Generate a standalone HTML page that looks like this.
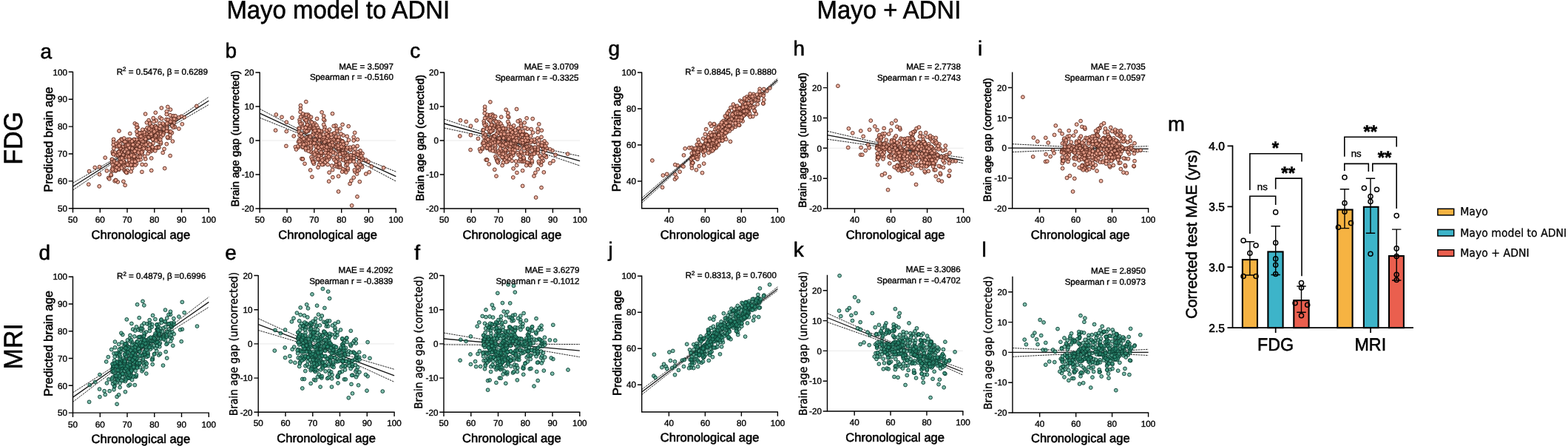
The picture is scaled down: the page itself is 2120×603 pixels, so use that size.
<!DOCTYPE html>
<html lang="en"><head><meta charset="utf-8"><title>Figure</title>
<style>
html,body{margin:0;padding:0;background:#fff;overflow:hidden}
svg{display:block}
text{font-family:"Liberation Sans",sans-serif;stroke:#000;stroke-width:0.55px;text-rendering:geometricPrecision}
.s text,text.s{stroke-width:0.38px}
.dj{font-family:"DejaVu Sans",sans-serif;stroke-width:0.3px}
.dj2{font-family:"DejaVu Sans",sans-serif;stroke-width:0.35px}
.lg{font-family:"Noto Sans CJK SC","DejaVu Sans",sans-serif;stroke-width:0.6px}
</style></head><body>
<svg width="2120" height="603" viewBox="0 0 2120 603">
<rect width="2120" height="603" fill="#fff"/>
<g>
<polyline points="98.5,247.5 104.6,243.9 110.8,240.3 116.9,236.8 123,233.2 129.1,229.6 135.3,226.1 141.4,222.5 147.5,218.9 153.6,215.3 159.8,211.7 165.9,208 172,204.3 178.1,200.6 184.3,196.8 190.4,192.9 196.5,189 202.7,185 208.8,180.9 214.9,176.8 221,172.7 227.2,168.6 233.3,164.4 239.4,160.3 245.5,156.1 251.7,151.9 257.8,147.8 263.9,143.6 270,139.4 276.2,135.2 282.3,131.1" fill="none" stroke="#111" stroke-width="0.9" stroke-dasharray="2.4 1"/>
<polyline points="98.5,257.1 104.6,252.9 110.8,248.7 116.9,244.6 123,240.4 129.1,236.2 135.3,232.1 141.4,227.9 147.5,223.8 153.6,219.7 159.8,215.5 165.9,211.5 172,207.4 178.1,203.4 184.3,199.5 190.4,195.6 196.5,191.8 202.7,188.1 208.8,184.4 214.9,180.8 221,177.2 227.2,173.6 233.3,170 239.4,166.4 245.5,162.8 251.7,159.2 257.8,155.7 263.9,152.1 270,148.5 276.2,145 282.3,141.4" fill="none" stroke="#111" stroke-width="0.9" stroke-dasharray="2.4 1"/>
<line x1="98.5" y1="252.3" x2="282.3" y2="136.2" stroke="#1a1a1a" stroke-width="1.3"/>
<g fill="#eca28e" fill-opacity="0.82" stroke="#5c2a1e" stroke-width="0.95"><circle cx="213.6" cy="174.1" r="2.4"/><circle cx="182.7" cy="194.7" r="2.4"/><circle cx="205.8" cy="182.7" r="2.4"/><circle cx="159.2" cy="246" r="2.4"/><circle cx="184.6" cy="199.9" r="2.4"/><circle cx="189.2" cy="191" r="2.4"/><circle cx="234.1" cy="156.7" r="2.4"/><circle cx="201.7" cy="179.4" r="2.4"/><circle cx="211.7" cy="186.9" r="2.4"/><circle cx="156.4" cy="243.6" r="2.4"/><circle cx="175.1" cy="211.7" r="2.4"/><circle cx="167.9" cy="197.9" r="2.4"/><circle cx="228.9" cy="178.3" r="2.4"/><circle cx="155.8" cy="225.5" r="2.4"/><circle cx="221" cy="179.4" r="2.4"/><circle cx="154.1" cy="218.6" r="2.4"/><circle cx="166.9" cy="245.3" r="2.4"/><circle cx="169.8" cy="212" r="2.4"/><circle cx="190.2" cy="215.8" r="2.4"/><circle cx="180.3" cy="189.6" r="2.4"/><circle cx="178.6" cy="204.8" r="2.4"/><circle cx="160.8" cy="229.4" r="2.4"/><circle cx="213.1" cy="180.8" r="2.4"/><circle cx="215.9" cy="178.7" r="2.4"/><circle cx="188.8" cy="196.9" r="2.4"/><circle cx="220.9" cy="169.1" r="2.4"/><circle cx="177.9" cy="216.4" r="2.4"/><circle cx="187.1" cy="212" r="2.4"/><circle cx="215.1" cy="173.1" r="2.4"/><circle cx="190.5" cy="179.8" r="2.4"/><circle cx="198.8" cy="181.2" r="2.4"/><circle cx="217.3" cy="194.3" r="2.4"/><circle cx="198" cy="180.9" r="2.4"/><circle cx="191.9" cy="232.4" r="2.4"/><circle cx="190" cy="205.5" r="2.4"/><circle cx="194.4" cy="195.9" r="2.4"/><circle cx="192.3" cy="197.3" r="2.4"/><circle cx="181.9" cy="197.5" r="2.4"/><circle cx="228.2" cy="177.5" r="2.4"/><circle cx="237.1" cy="156.8" r="2.4"/><circle cx="182.3" cy="167" r="2.4"/><circle cx="214.1" cy="181.7" r="2.4"/><circle cx="200.1" cy="207.6" r="2.4"/><circle cx="213.7" cy="198.4" r="2.4"/><circle cx="160.1" cy="211.1" r="2.4"/><circle cx="210.6" cy="188.8" r="2.4"/><circle cx="182.7" cy="206.5" r="2.4"/><circle cx="159.8" cy="192.4" r="2.4"/><circle cx="233.7" cy="160.7" r="2.4"/><circle cx="210.6" cy="179.1" r="2.4"/><circle cx="168.1" cy="230" r="2.4"/><circle cx="206.4" cy="201.3" r="2.4"/><circle cx="162.5" cy="220.8" r="2.4"/><circle cx="246.3" cy="167.8" r="2.4"/><circle cx="167.5" cy="221.7" r="2.4"/><circle cx="198.1" cy="200.5" r="2.4"/><circle cx="181.8" cy="188.6" r="2.4"/><circle cx="221.5" cy="175.7" r="2.4"/><circle cx="164.4" cy="205.1" r="2.4"/><circle cx="184.2" cy="215.7" r="2.4"/><circle cx="153.6" cy="191.8" r="2.4"/><circle cx="192" cy="182.6" r="2.4"/><circle cx="155.1" cy="244.8" r="2.4"/><circle cx="174.2" cy="209.2" r="2.4"/><circle cx="204.7" cy="213.9" r="2.4"/><circle cx="151.3" cy="215.5" r="2.4"/><circle cx="184.6" cy="196.7" r="2.4"/><circle cx="177.5" cy="196.7" r="2.4"/><circle cx="184.3" cy="203.9" r="2.4"/><circle cx="189.6" cy="208.8" r="2.4"/><circle cx="161.1" cy="223.7" r="2.4"/><circle cx="156.4" cy="231.1" r="2.4"/><circle cx="163.1" cy="225.3" r="2.4"/><circle cx="202.9" cy="185.8" r="2.4"/><circle cx="215.8" cy="173.7" r="2.4"/><circle cx="195.9" cy="185.5" r="2.4"/><circle cx="220.2" cy="206.5" r="2.4"/><circle cx="152.3" cy="205.3" r="2.4"/><circle cx="172.9" cy="209.9" r="2.4"/><circle cx="185.9" cy="172.2" r="2.4"/><circle cx="172.1" cy="209.1" r="2.4"/><circle cx="176.3" cy="210.8" r="2.4"/><circle cx="152.2" cy="227" r="2.4"/><circle cx="195.1" cy="184" r="2.4"/><circle cx="175.1" cy="218.3" r="2.4"/><circle cx="171" cy="200" r="2.4"/><circle cx="176.9" cy="211.2" r="2.4"/><circle cx="194.9" cy="194.7" r="2.4"/><circle cx="195.2" cy="192.6" r="2.4"/><circle cx="236" cy="171.2" r="2.4"/><circle cx="232.6" cy="165.8" r="2.4"/><circle cx="188.5" cy="207.3" r="2.4"/><circle cx="226.8" cy="144.5" r="2.4"/><circle cx="214.8" cy="191.8" r="2.4"/><circle cx="209.4" cy="171.4" r="2.4"/><circle cx="178.6" cy="227.6" r="2.4"/><circle cx="177.1" cy="196" r="2.4"/><circle cx="198.6" cy="193.9" r="2.4"/><circle cx="211.1" cy="190" r="2.4"/><circle cx="120.6" cy="231.6" r="2.4"/><circle cx="163.8" cy="188.2" r="2.4"/><circle cx="229.7" cy="186.3" r="2.4"/><circle cx="186" cy="194.9" r="2.4"/><circle cx="203.4" cy="173.5" r="2.4"/><circle cx="155.6" cy="197.9" r="2.4"/><circle cx="155.1" cy="223.9" r="2.4"/><circle cx="189.6" cy="203.4" r="2.4"/><circle cx="156.9" cy="220.6" r="2.4"/><circle cx="209.7" cy="178" r="2.4"/><circle cx="188" cy="188.3" r="2.4"/><circle cx="207.6" cy="175.8" r="2.4"/><circle cx="155.1" cy="220.6" r="2.4"/><circle cx="174" cy="223.7" r="2.4"/><circle cx="214.8" cy="188" r="2.4"/><circle cx="196.1" cy="186.2" r="2.4"/><circle cx="186.1" cy="179.2" r="2.4"/><circle cx="192.2" cy="222.4" r="2.4"/><circle cx="230.8" cy="164.8" r="2.4"/><circle cx="192" cy="191.4" r="2.4"/><circle cx="157.3" cy="226.3" r="2.4"/><circle cx="170" cy="197.4" r="2.4"/><circle cx="224.9" cy="161.5" r="2.4"/><circle cx="190" cy="184.8" r="2.4"/><circle cx="152.2" cy="222.4" r="2.4"/><circle cx="142.2" cy="213.2" r="2.4"/><circle cx="171.8" cy="195.4" r="2.4"/><circle cx="196.6" cy="154.1" r="2.4"/><circle cx="176" cy="195.6" r="2.4"/><circle cx="215.9" cy="166.9" r="2.4"/><circle cx="210.1" cy="170.6" r="2.4"/><circle cx="205" cy="186" r="2.4"/><circle cx="210.9" cy="170.8" r="2.4"/><circle cx="192.7" cy="186.8" r="2.4"/><circle cx="221" cy="168.4" r="2.4"/><circle cx="203.5" cy="204.9" r="2.4"/><circle cx="211.2" cy="163" r="2.4"/><circle cx="170.8" cy="195.9" r="2.4"/><circle cx="207.8" cy="185.5" r="2.4"/><circle cx="163.1" cy="199.7" r="2.4"/><circle cx="195.4" cy="180.9" r="2.4"/><circle cx="232.4" cy="179.5" r="2.4"/><circle cx="162.4" cy="217.3" r="2.4"/><circle cx="211" cy="184.6" r="2.4"/><circle cx="230.1" cy="155.7" r="2.4"/><circle cx="206.9" cy="193.7" r="2.4"/><circle cx="175.7" cy="200.3" r="2.4"/><circle cx="231.6" cy="164.3" r="2.4"/><circle cx="189.2" cy="199.2" r="2.4"/><circle cx="162.5" cy="194.7" r="2.4"/><circle cx="230.1" cy="210.6" r="2.4"/><circle cx="202.2" cy="182.1" r="2.4"/><circle cx="265.8" cy="143.4" r="2.4"/><circle cx="155.9" cy="227.6" r="2.4"/><circle cx="192" cy="207.8" r="2.4"/><circle cx="175.5" cy="217" r="2.4"/><circle cx="213.1" cy="180.2" r="2.4"/><circle cx="205.7" cy="203.3" r="2.4"/><circle cx="152.6" cy="207.6" r="2.4"/><circle cx="153.6" cy="188.4" r="2.4"/><circle cx="153.8" cy="200.6" r="2.4"/><circle cx="146.7" cy="240.5" r="2.4"/><circle cx="189.7" cy="191.6" r="2.4"/><circle cx="186.9" cy="216.6" r="2.4"/><circle cx="195.4" cy="191.1" r="2.4"/><circle cx="202.9" cy="182.4" r="2.4"/><circle cx="206.3" cy="172.5" r="2.4"/><circle cx="181.5" cy="214" r="2.4"/><circle cx="189.3" cy="188.2" r="2.4"/><circle cx="230" cy="182.9" r="2.4"/><circle cx="225.7" cy="171" r="2.4"/><circle cx="150.6" cy="230.9" r="2.4"/><circle cx="172.2" cy="230.4" r="2.4"/><circle cx="208.2" cy="172.9" r="2.4"/><circle cx="168.1" cy="219.2" r="2.4"/><circle cx="150.4" cy="237" r="2.4"/><circle cx="185.2" cy="191.3" r="2.4"/><circle cx="201.2" cy="185.6" r="2.4"/><circle cx="202.8" cy="168.2" r="2.4"/><circle cx="184.8" cy="188.6" r="2.4"/><circle cx="217.1" cy="179" r="2.4"/><circle cx="216.1" cy="186.8" r="2.4"/><circle cx="171.5" cy="192.8" r="2.4"/><circle cx="161.2" cy="209.3" r="2.4"/><circle cx="204.2" cy="175" r="2.4"/><circle cx="167.3" cy="218.1" r="2.4"/><circle cx="156.7" cy="194.5" r="2.4"/><circle cx="174.5" cy="194.8" r="2.4"/><circle cx="232.4" cy="163.4" r="2.4"/><circle cx="166.6" cy="213.1" r="2.4"/><circle cx="217.4" cy="192.4" r="2.4"/><circle cx="150.1" cy="236.1" r="2.4"/><circle cx="178.5" cy="190.6" r="2.4"/><circle cx="213.1" cy="200" r="2.4"/><circle cx="197.5" cy="175.1" r="2.4"/><circle cx="165.8" cy="209.9" r="2.4"/><circle cx="202.3" cy="164.9" r="2.4"/><circle cx="169.1" cy="250.4" r="2.4"/><circle cx="225.3" cy="150.8" r="2.4"/><circle cx="233.2" cy="163" r="2.4"/><circle cx="153" cy="230.9" r="2.4"/><circle cx="202.7" cy="167" r="2.4"/><circle cx="165" cy="202" r="2.4"/><circle cx="189.5" cy="184.2" r="2.4"/><circle cx="183.1" cy="210.9" r="2.4"/><circle cx="216.3" cy="159" r="2.4"/><circle cx="208.4" cy="178.9" r="2.4"/><circle cx="184.9" cy="172.2" r="2.4"/><circle cx="172.6" cy="188.7" r="2.4"/><circle cx="166" cy="189.9" r="2.4"/><circle cx="176.9" cy="189.3" r="2.4"/><circle cx="179.8" cy="209.1" r="2.4"/><circle cx="151.7" cy="215.5" r="2.4"/><circle cx="173.8" cy="205.2" r="2.4"/><circle cx="175.4" cy="220.8" r="2.4"/><circle cx="194.8" cy="178.6" r="2.4"/><circle cx="155.9" cy="208.3" r="2.4"/><circle cx="231.1" cy="161.2" r="2.4"/><circle cx="160.5" cy="228.1" r="2.4"/><circle cx="163.3" cy="205.9" r="2.4"/><circle cx="119.8" cy="249.3" r="2.4"/><circle cx="227" cy="186.6" r="2.4"/><circle cx="175.1" cy="199.7" r="2.4"/><circle cx="181" cy="188.6" r="2.4"/><circle cx="217.5" cy="180.9" r="2.4"/><circle cx="165.7" cy="198.5" r="2.4"/><circle cx="201" cy="175.2" r="2.4"/><circle cx="167.7" cy="224.9" r="2.4"/><circle cx="170.1" cy="223.6" r="2.4"/><circle cx="211.3" cy="174.8" r="2.4"/><circle cx="190.9" cy="202.6" r="2.4"/><circle cx="225.3" cy="194.7" r="2.4"/><circle cx="179.2" cy="194.6" r="2.4"/><circle cx="192" cy="194.6" r="2.4"/><circle cx="151.3" cy="219.1" r="2.4"/><circle cx="191.7" cy="202.3" r="2.4"/><circle cx="206.5" cy="179.4" r="2.4"/><circle cx="222" cy="175.8" r="2.4"/><circle cx="204.7" cy="230.5" r="2.4"/><circle cx="220.3" cy="166.9" r="2.4"/><circle cx="178.4" cy="223" r="2.4"/><circle cx="161.5" cy="190.6" r="2.4"/><circle cx="225.1" cy="174.4" r="2.4"/><circle cx="201.1" cy="162.6" r="2.4"/><circle cx="185.3" cy="194.1" r="2.4"/><circle cx="191.2" cy="189.1" r="2.4"/><circle cx="245.2" cy="157.4" r="2.4"/><circle cx="208.8" cy="185.7" r="2.4"/><circle cx="161.1" cy="219.2" r="2.4"/><circle cx="171.8" cy="221.2" r="2.4"/><circle cx="175" cy="188.3" r="2.4"/><circle cx="162.2" cy="221.8" r="2.4"/><circle cx="159.7" cy="197.9" r="2.4"/><circle cx="170.8" cy="202.3" r="2.4"/><circle cx="169.2" cy="205.1" r="2.4"/><circle cx="205.1" cy="184" r="2.4"/><circle cx="195.3" cy="196.2" r="2.4"/><circle cx="225.6" cy="173.1" r="2.4"/><circle cx="134.5" cy="225.7" r="2.4"/><circle cx="195.7" cy="211.5" r="2.4"/><circle cx="226.4" cy="185.4" r="2.4"/><circle cx="241.9" cy="158.9" r="2.4"/><circle cx="184.4" cy="221.5" r="2.4"/><circle cx="228.5" cy="165.8" r="2.4"/><circle cx="236.6" cy="171.9" r="2.4"/><circle cx="161" cy="204.4" r="2.4"/><circle cx="177.1" cy="191.6" r="2.4"/><circle cx="208.1" cy="164.5" r="2.4"/><circle cx="236.7" cy="162.2" r="2.4"/><circle cx="198.4" cy="165.8" r="2.4"/><circle cx="234.1" cy="172.2" r="2.4"/><circle cx="163.2" cy="215.5" r="2.4"/><circle cx="218.6" cy="160.7" r="2.4"/><circle cx="178.5" cy="190.9" r="2.4"/><circle cx="200.5" cy="193.5" r="2.4"/><circle cx="212.5" cy="199.1" r="2.4"/><circle cx="206.3" cy="187.8" r="2.4"/><circle cx="180" cy="205.1" r="2.4"/><circle cx="191.1" cy="179.5" r="2.4"/><circle cx="225.3" cy="154.5" r="2.4"/><circle cx="172.5" cy="222.6" r="2.4"/><circle cx="153.3" cy="195.8" r="2.4"/><circle cx="165.3" cy="210.2" r="2.4"/><circle cx="204.9" cy="183.2" r="2.4"/><circle cx="208.1" cy="172" r="2.4"/><circle cx="166.6" cy="215.9" r="2.4"/><circle cx="186.7" cy="201.8" r="2.4"/><circle cx="156.6" cy="209.9" r="2.4"/><circle cx="210.3" cy="152.3" r="2.4"/><circle cx="207.3" cy="201.5" r="2.4"/><circle cx="227" cy="161.9" r="2.4"/><circle cx="188.6" cy="184.3" r="2.4"/><circle cx="169.1" cy="231.3" r="2.4"/><circle cx="155.5" cy="206.1" r="2.4"/><circle cx="203.7" cy="195.5" r="2.4"/><circle cx="204.1" cy="175.6" r="2.4"/><circle cx="156.6" cy="229.9" r="2.4"/><circle cx="170.1" cy="232.5" r="2.4"/><circle cx="201.6" cy="204" r="2.4"/><circle cx="222.7" cy="227.6" r="2.4"/><circle cx="163" cy="218.1" r="2.4"/><circle cx="163.3" cy="200.3" r="2.4"/><circle cx="192.8" cy="204.5" r="2.4"/><circle cx="159.7" cy="209.6" r="2.4"/><circle cx="134.5" cy="235.7" r="2.4"/><circle cx="180.9" cy="222.7" r="2.4"/><circle cx="170.8" cy="212.7" r="2.4"/><circle cx="249.2" cy="158.6" r="2.4"/><circle cx="218.3" cy="146" r="2.4"/><circle cx="162.6" cy="200.4" r="2.4"/><circle cx="190.7" cy="184.4" r="2.4"/><circle cx="163.8" cy="219.4" r="2.4"/><circle cx="187.4" cy="193.8" r="2.4"/><circle cx="160.6" cy="222.9" r="2.4"/><circle cx="162.3" cy="214.3" r="2.4"/><circle cx="134.2" cy="251.9" r="2.4"/><circle cx="194.1" cy="200.9" r="2.4"/><circle cx="171.9" cy="210.9" r="2.4"/><circle cx="210.9" cy="176.7" r="2.4"/><circle cx="230.7" cy="164.4" r="2.4"/><circle cx="181.4" cy="212.5" r="2.4"/><circle cx="206.4" cy="199.8" r="2.4"/><circle cx="202.1" cy="201.1" r="2.4"/><circle cx="209.7" cy="170.7" r="2.4"/><circle cx="171.9" cy="207" r="2.4"/><circle cx="225.8" cy="167" r="2.4"/><circle cx="210.4" cy="183.2" r="2.4"/><circle cx="174.4" cy="212" r="2.4"/><circle cx="179" cy="200" r="2.4"/><circle cx="216.8" cy="170.6" r="2.4"/><circle cx="171.6" cy="233.6" r="2.4"/><circle cx="157.9" cy="226.4" r="2.4"/><circle cx="188.9" cy="198.1" r="2.4"/><circle cx="181.9" cy="217.3" r="2.4"/><circle cx="178.1" cy="222.5" r="2.4"/><circle cx="187.8" cy="202.9" r="2.4"/><circle cx="158.7" cy="197.9" r="2.4"/><circle cx="210.9" cy="199.8" r="2.4"/><circle cx="237.2" cy="161.6" r="2.4"/><circle cx="187.2" cy="193.1" r="2.4"/><circle cx="230.5" cy="148.2" r="2.4"/><circle cx="241.9" cy="174.1" r="2.4"/><circle cx="215" cy="199.4" r="2.4"/><circle cx="185.8" cy="182.4" r="2.4"/><circle cx="218" cy="185" r="2.4"/><circle cx="230.8" cy="177.9" r="2.4"/><circle cx="187.1" cy="206.1" r="2.4"/><circle cx="197.7" cy="188.2" r="2.4"/><circle cx="153.5" cy="208.7" r="2.4"/><circle cx="178.3" cy="218.5" r="2.4"/><circle cx="235.5" cy="160.9" r="2.4"/><circle cx="170.6" cy="233.1" r="2.4"/><circle cx="128.3" cy="226.5" r="2.4"/><circle cx="177" cy="223" r="2.4"/><circle cx="207.3" cy="159.7" r="2.4"/><circle cx="209.8" cy="203.9" r="2.4"/><circle cx="179.9" cy="195.6" r="2.4"/><circle cx="221.1" cy="180.6" r="2.4"/><circle cx="154.3" cy="218.1" r="2.4"/><circle cx="196.7" cy="215" r="2.4"/><circle cx="161.6" cy="197.9" r="2.4"/><circle cx="233.4" cy="191" r="2.4"/><circle cx="220.4" cy="182.4" r="2.4"/><circle cx="177.7" cy="209.9" r="2.4"/><circle cx="164.9" cy="188.8" r="2.4"/><circle cx="173.3" cy="206" r="2.4"/><circle cx="167.7" cy="187" r="2.4"/><circle cx="177.2" cy="232" r="2.4"/><circle cx="172.2" cy="194.7" r="2.4"/><circle cx="235.5" cy="165.7" r="2.4"/><circle cx="174.5" cy="216.1" r="2.4"/><circle cx="206.6" cy="188.4" r="2.4"/><circle cx="156.6" cy="243.6" r="2.4"/><circle cx="175.8" cy="180.6" r="2.4"/><circle cx="160.5" cy="205.7" r="2.4"/><circle cx="182.8" cy="223.4" r="2.4"/><circle cx="221.3" cy="174.3" r="2.4"/><circle cx="161.1" cy="197" r="2.4"/><circle cx="232.7" cy="170" r="2.4"/><circle cx="184.9" cy="168.5" r="2.4"/><circle cx="199.2" cy="201.7" r="2.4"/><circle cx="173.1" cy="196.2" r="2.4"/><circle cx="191.5" cy="205.9" r="2.4"/><circle cx="147.8" cy="241.9" r="2.4"/><circle cx="199.2" cy="172.7" r="2.4"/><circle cx="196.8" cy="188.1" r="2.4"/><circle cx="211.3" cy="174.3" r="2.4"/><circle cx="182.8" cy="218.5" r="2.4"/><circle cx="193.1" cy="191.5" r="2.4"/><circle cx="197" cy="222.8" r="2.4"/><circle cx="144.4" cy="230.9" r="2.4"/><circle cx="157.9" cy="220.4" r="2.4"/><circle cx="184.9" cy="177.9" r="2.4"/><circle cx="181.3" cy="211.5" r="2.4"/><circle cx="167.8" cy="191.8" r="2.4"/><circle cx="210.2" cy="170.8" r="2.4"/><circle cx="185.9" cy="195.8" r="2.4"/><circle cx="181.7" cy="204.5" r="2.4"/><circle cx="164.4" cy="227.1" r="2.4"/><circle cx="164.6" cy="212.6" r="2.4"/><circle cx="161.9" cy="208.2" r="2.4"/><circle cx="164.8" cy="213.9" r="2.4"/><circle cx="178.8" cy="201" r="2.4"/><circle cx="184.4" cy="201.7" r="2.4"/><circle cx="201.6" cy="174" r="2.4"/><circle cx="189.6" cy="212" r="2.4"/><circle cx="152.2" cy="228.9" r="2.4"/><circle cx="188.9" cy="180.1" r="2.4"/><circle cx="207.7" cy="176.3" r="2.4"/><circle cx="211.1" cy="176" r="2.4"/><circle cx="222" cy="201.4" r="2.4"/><circle cx="197.5" cy="195.4" r="2.4"/><circle cx="205.3" cy="170.8" r="2.4"/><circle cx="211.3" cy="172.8" r="2.4"/><circle cx="225.3" cy="177.3" r="2.4"/><circle cx="202.6" cy="195.3" r="2.4"/><circle cx="216.7" cy="188.9" r="2.4"/><circle cx="166.7" cy="209.3" r="2.4"/><circle cx="201.4" cy="201.2" r="2.4"/><circle cx="208.7" cy="177.9" r="2.4"/><circle cx="204.3" cy="181.3" r="2.4"/><circle cx="170.4" cy="191.8" r="2.4"/><circle cx="206.2" cy="198.7" r="2.4"/><circle cx="168.9" cy="191.6" r="2.4"/><circle cx="161" cy="177" r="2.4"/><circle cx="192.8" cy="175.3" r="2.4"/><circle cx="182.2" cy="204.3" r="2.4"/></g>
<g opacity="0.15"><polyline points="98.5,247.5 104.6,243.9 110.8,240.3 116.9,236.8 123,233.2 129.1,229.6 135.3,226.1 141.4,222.5 147.5,218.9 153.6,215.3 159.8,211.7 165.9,208 172,204.3 178.1,200.6 184.3,196.8 190.4,192.9 196.5,189 202.7,185 208.8,180.9 214.9,176.8 221,172.7 227.2,168.6 233.3,164.4 239.4,160.3 245.5,156.1 251.7,151.9 257.8,147.8 263.9,143.6 270,139.4 276.2,135.2 282.3,131.1" fill="none" stroke="#111" stroke-width="0.9" stroke-dasharray="2.4 1"/><polyline points="98.5,257.1 104.6,252.9 110.8,248.7 116.9,244.6 123,240.4 129.1,236.2 135.3,232.1 141.4,227.9 147.5,223.8 153.6,219.7 159.8,215.5 165.9,211.5 172,207.4 178.1,203.4 184.3,199.5 190.4,195.6 196.5,191.8 202.7,188.1 208.8,184.4 214.9,180.8 221,177.2 227.2,173.6 233.3,170 239.4,166.4 245.5,162.8 251.7,159.2 257.8,155.7 263.9,152.1 270,148.5 276.2,145 282.3,141.4" fill="none" stroke="#111" stroke-width="0.9" stroke-dasharray="2.4 1"/><line x1="98.5" y1="252.3" x2="282.3" y2="136.2" stroke="#111" stroke-width="1.3"/></g>
<path d="M98.5 96.7V281.8H282.9" fill="none" stroke="#000" stroke-width="1.4"/>
<path d="M98.5 281.8h-5.8M98.5 244.9h-5.8M98.5 208h-5.8M98.5 171.1h-5.8M98.5 134.2h-5.8M98.5 97.3h-5.8M98.5 281.8v5.8M135.3 281.8v5.8M172 281.8v5.8M208.8 281.8v5.8M245.5 281.8v5.8M282.3 281.8v5.8" fill="none" stroke="#000" stroke-width="1.4"/>
<g font-size="11.7" fill="#000" class="s">
<text x="90.9" y="286" text-anchor="end">50</text>
<text x="90.9" y="249.1" text-anchor="end">60</text>
<text x="90.9" y="212.2" text-anchor="end">70</text>
<text x="90.9" y="175.3" text-anchor="end">80</text>
<text x="90.9" y="138.4" text-anchor="end">90</text>
<text x="90.9" y="101.5" text-anchor="end">100</text>
<text x="98.5" y="301.2" text-anchor="middle">50</text>
<text x="135.3" y="301.2" text-anchor="middle">60</text>
<text x="172" y="301.2" text-anchor="middle">70</text>
<text x="208.8" y="301.2" text-anchor="middle">80</text>
<text x="245.5" y="301.2" text-anchor="middle">90</text>
<text x="282.3" y="301.2" text-anchor="middle">100</text>
</g>
<text x="190.4" y="322.8" text-anchor="middle" font-size="16.6" fill="#000">Chronological age</text>
<text transform="translate(70.8 188.7) rotate(-90)" text-anchor="middle" font-size="16.4" fill="#000">Predicted brain age</text>
<text x="54.6" y="78.5" font-size="28" fill="#000">a</text>
<text x="281" y="100.6" text-anchor="end" font-size="11.6" fill="#000" class="s">R<tspan dy="-4.4" font-size="8">2</tspan><tspan dy="4.4"> = 0.5476, β = 0.6289</tspan></text>
</g>
<g>
<line x1="351.2" y1="190" x2="535.3" y2="190" stroke="#e4e4e4" stroke-width="0.8"/>
<polyline points="351.2,147.2 357.3,150.4 363.5,153.7 369.6,156.9 375.7,160.1 381.9,163.3 388,166.5 394.2,169.7 400.3,172.9 406.4,176.1 412.6,179.2 418.7,182.4 424.8,185.4 431,188.4 437.1,191.4 443.2,194.2 449.4,196.9 455.5,199.6 461.7,202.2 467.8,204.8 473.9,207.3 480.1,209.8 486.2,212.3 492.3,214.8 498.5,217.3 504.6,219.8 510.8,222.2 516.9,224.7 523,227.2 529.2,229.6 535.3,232.1" fill="none" stroke="#111" stroke-width="0.9" stroke-dasharray="2.4 1"/>
<polyline points="351.2,159.2 357.3,161.7 363.5,164.1 369.6,166.6 375.7,169.1 381.9,171.5 388,174 394.2,176.5 400.3,179 406.4,181.5 412.6,184.1 418.7,186.6 424.8,189.3 431,191.9 437.1,194.7 443.2,197.5 449.4,200.5 455.5,203.5 461.7,206.6 467.8,209.7 473.9,212.9 480.1,216.1 486.2,219.3 492.3,222.5 498.5,225.7 504.6,228.9 510.8,232.1 516.9,235.3 523,238.5 529.2,241.8 535.3,245" fill="none" stroke="#111" stroke-width="0.9" stroke-dasharray="2.4 1"/>
<line x1="351.2" y1="153.2" x2="535.3" y2="238.6" stroke="#1a1a1a" stroke-width="1.3"/>
<g fill="#eca28e" fill-opacity="0.82" stroke="#5c2a1e" stroke-width="0.95"><circle cx="466.5" cy="199.8" r="2.4"/><circle cx="435.5" cy="186.7" r="2.4"/><circle cx="458.7" cy="200.7" r="2.4"/><circle cx="412" cy="221.3" r="2.4"/><circle cx="437.5" cy="195.7" r="2.4"/><circle cx="442" cy="190.3" r="2.4"/><circle cx="487.1" cy="203.8" r="2.4"/><circle cx="454.6" cy="191.5" r="2.4"/><circle cx="464.6" cy="213.4" r="2.4"/><circle cx="409.2" cy="214.8" r="2.4"/><circle cx="428" cy="198.6" r="2.4"/><circle cx="420.7" cy="172.3" r="2.4"/><circle cx="481.8" cy="224.2" r="2.4"/><circle cx="408.6" cy="191.5" r="2.4"/><circle cx="473.9" cy="215.6" r="2.4"/><circle cx="406.9" cy="180.8" r="2.4"/><circle cx="419.7" cy="230" r="2.4"/><circle cx="422.6" cy="192.2" r="2.4"/><circle cx="443.1" cy="222.5" r="2.4"/><circle cx="433.2" cy="177.5" r="2.4"/><circle cx="431.5" cy="194.3" r="2.4"/><circle cx="413.6" cy="202.7" r="2.4"/><circle cx="466" cy="207.5" r="2.4"/><circle cx="468.8" cy="208.4" r="2.4"/><circle cx="441.6" cy="197.2" r="2.4"/><circle cx="473.8" cy="202.7" r="2.4"/><circle cx="430.8" cy="207.8" r="2.4"/><circle cx="439.9" cy="213.8" r="2.4"/><circle cx="468" cy="200.4" r="2.4"/><circle cx="443.4" cy="178" r="2.4"/><circle cx="451.7" cy="190.2" r="2.4"/><circle cx="470.2" cy="229.6" r="2.4"/><circle cx="450.9" cy="188.7" r="2.4"/><circle cx="444.7" cy="245.2" r="2.4"/><circle cx="442.9" cy="209.5" r="2.4"/><circle cx="447.3" cy="202.9" r="2.4"/><circle cx="445.1" cy="202" r="2.4"/><circle cx="434.7" cy="189.3" r="2.4"/><circle cx="481.1" cy="222.3" r="2.4"/><circle cx="490" cy="207.6" r="2.4"/><circle cx="435.1" cy="151.8" r="2.4"/><circle cx="467" cy="210" r="2.4"/><circle cx="453" cy="224.7" r="2.4"/><circle cx="466.6" cy="230.2" r="2.4"/><circle cx="412.9" cy="178.9" r="2.4"/><circle cx="463.5" cy="214.4" r="2.4"/><circle cx="435.6" cy="201.5" r="2.4"/><circle cx="412.6" cy="155.2" r="2.4"/><circle cx="486.6" cy="208.1" r="2.4"/><circle cx="463.4" cy="202.2" r="2.4"/><circle cx="420.9" cy="212.6" r="2.4"/><circle cx="459.3" cy="224.7" r="2.4"/><circle cx="415.3" cy="194" r="2.4"/><circle cx="499.2" cy="232.8" r="2.4"/><circle cx="420.3" cy="201.4" r="2.4"/><circle cx="450.9" cy="213.2" r="2.4"/><circle cx="434.7" cy="178.1" r="2.4"/><circle cx="474.4" cy="211.7" r="2.4"/><circle cx="417.2" cy="176.9" r="2.4"/><circle cx="437.1" cy="214.9" r="2.4"/><circle cx="406.4" cy="146.8" r="2.4"/><circle cx="444.8" cy="183.4" r="2.4"/><circle cx="407.9" cy="214.7" r="2.4"/><circle cx="427" cy="194.2" r="2.4"/><circle cx="457.6" cy="238.3" r="2.4"/><circle cx="404.1" cy="173.4" r="2.4"/><circle cx="437.4" cy="191.6" r="2.4"/><circle cx="430.4" cy="182.8" r="2.4"/><circle cx="437.2" cy="200.3" r="2.4"/><circle cx="442.5" cy="213" r="2.4"/><circle cx="413.9" cy="195.9" r="2.4"/><circle cx="409.2" cy="199.2" r="2.4"/><circle cx="415.9" cy="200.3" r="2.4"/><circle cx="455.8" cy="200.9" r="2.4"/><circle cx="468.7" cy="202" r="2.4"/><circle cx="448.8" cy="191.9" r="2.4"/><circle cx="473.1" cy="248.4" r="2.4"/><circle cx="405.1" cy="162" r="2.4"/><circle cx="425.7" cy="193.4" r="2.4"/><circle cx="438.8" cy="162.8" r="2.4"/><circle cx="424.9" cy="191.5" r="2.4"/><circle cx="429.1" cy="198.7" r="2.4"/><circle cx="404.9" cy="188.8" r="2.4"/><circle cx="447.9" cy="188.9" r="2.4"/><circle cx="427.9" cy="206.7" r="2.4"/><circle cx="423.8" cy="178.8" r="2.4"/><circle cx="429.7" cy="200.1" r="2.4"/><circle cx="447.8" cy="202.1" r="2.4"/><circle cx="448" cy="199.8" r="2.4"/><circle cx="488.9" cy="224.2" r="2.4"/><circle cx="485.5" cy="213.2" r="2.4"/><circle cx="441.4" cy="209.8" r="2.4"/><circle cx="479.7" cy="179.4" r="2.4"/><circle cx="467.7" cy="223.3" r="2.4"/><circle cx="462.3" cy="191.2" r="2.4"/><circle cx="431.4" cy="222.6" r="2.4"/><circle cx="430" cy="181.4" r="2.4"/><circle cx="451.5" cy="205.7" r="2.4"/><circle cx="464" cy="216.5" r="2.4"/><circle cx="373.3" cy="155" r="2.4"/><circle cx="416.6" cy="155.1" r="2.4"/><circle cx="482.6" cy="235.1" r="2.4"/><circle cx="438.8" cy="191.1" r="2.4"/><circle cx="456.3" cy="186.2" r="2.4"/><circle cx="408.4" cy="156.8" r="2.4"/><circle cx="407.9" cy="188.8" r="2.4"/><circle cx="442.5" cy="206.3" r="2.4"/><circle cx="409.7" cy="186.7" r="2.4"/><circle cx="462.6" cy="199.8" r="2.4"/><circle cx="440.8" cy="185.5" r="2.4"/><circle cx="460.5" cy="194.3" r="2.4"/><circle cx="407.9" cy="184.6" r="2.4"/><circle cx="426.8" cy="212" r="2.4"/><circle cx="467.7" cy="218.6" r="2.4"/><circle cx="449" cy="193" r="2.4"/><circle cx="439" cy="171.7" r="2.4"/><circle cx="445.1" cy="233.2" r="2.4"/><circle cx="483.8" cy="209.7" r="2.4"/><circle cx="444.8" cy="194.3" r="2.4"/><circle cx="410.1" cy="194.4" r="2.4"/><circle cx="422.8" cy="174.3" r="2.4"/><circle cx="477.8" cy="198.2" r="2.4"/><circle cx="442.8" cy="183.6" r="2.4"/><circle cx="405" cy="183.1" r="2.4"/><circle cx="395" cy="159.2" r="2.4"/><circle cx="424.6" cy="174" r="2.4"/><circle cx="449.5" cy="153.7" r="2.4"/><circle cx="428.8" cy="179.5" r="2.4"/><circle cx="468.8" cy="193.6" r="2.4"/><circle cx="463" cy="191" r="2.4"/><circle cx="457.9" cy="203.9" r="2.4"/><circle cx="463.8" cy="192.2" r="2.4"/><circle cx="445.6" cy="189.5" r="2.4"/><circle cx="473.8" cy="201.9" r="2.4"/><circle cx="456.3" cy="225.5" r="2.4"/><circle cx="464.1" cy="183" r="2.4"/><circle cx="423.6" cy="173.4" r="2.4"/><circle cx="460.7" cy="206.7" r="2.4"/><circle cx="415.9" cy="168.5" r="2.4"/><circle cx="448.2" cy="185.4" r="2.4"/><circle cx="485.3" cy="230" r="2.4"/><circle cx="415.2" cy="189.6" r="2.4"/><circle cx="463.9" cy="209.7" r="2.4"/><circle cx="483.1" cy="197.5" r="2.4"/><circle cx="459.8" cy="215.8" r="2.4"/><circle cx="428.5" cy="185" r="2.4"/><circle cx="484.5" cy="210" r="2.4"/><circle cx="442" cy="200.5" r="2.4"/><circle cx="415.3" cy="161.4" r="2.4"/><circle cx="483" cy="265.9" r="2.4"/><circle cx="455.1" cy="195.5" r="2.4"/><circle cx="518.7" cy="226.8" r="2.4"/><circle cx="408.7" cy="194.2" r="2.4"/><circle cx="444.8" cy="214.8" r="2.4"/><circle cx="428.3" cy="205.5" r="2.4"/><circle cx="466" cy="206.7" r="2.4"/><circle cx="458.5" cy="226.2" r="2.4"/><circle cx="405.3" cy="165.1" r="2.4"/><circle cx="406.4" cy="142.6" r="2.4"/><circle cx="406.6" cy="158" r="2.4"/><circle cx="399.4" cy="198.7" r="2.4"/><circle cx="442.5" cy="191.6" r="2.4"/><circle cx="439.8" cy="219.4" r="2.4"/><circle cx="448.2" cy="198.2" r="2.4"/><circle cx="455.7" cy="196.7" r="2.4"/><circle cx="459.1" cy="188.6" r="2.4"/><circle cx="434.3" cy="209.4" r="2.4"/><circle cx="442.2" cy="187" r="2.4"/><circle cx="482.9" cy="231.3" r="2.4"/><circle cx="478.6" cy="211.1" r="2.4"/><circle cx="403.4" cy="191.8" r="2.4"/><circle cx="425" cy="218.2" r="2.4"/><circle cx="461.1" cy="191.5" r="2.4"/><circle cx="420.9" cy="199.1" r="2.4"/><circle cx="403.2" cy="199.2" r="2.4"/><circle cx="438.1" cy="185.8" r="2.4"/><circle cx="454.1" cy="198.6" r="2.4"/><circle cx="455.7" cy="179" r="2.4"/><circle cx="437.6" cy="181.8" r="2.4"/><circle cx="470" cy="210.2" r="2.4"/><circle cx="469" cy="218.7" r="2.4"/><circle cx="424.4" cy="170.4" r="2.4"/><circle cx="414" cy="178.1" r="2.4"/><circle cx="457" cy="189.1" r="2.4"/><circle cx="420.1" cy="196.8" r="2.4"/><circle cx="409.5" cy="153.9" r="2.4"/><circle cx="427.3" cy="176.7" r="2.4"/><circle cx="485.3" cy="209.9" r="2.4"/><circle cx="419.4" cy="189.5" r="2.4"/><circle cx="470.3" cy="227.4" r="2.4"/><circle cx="402.9" cy="197.6" r="2.4"/><circle cx="431.3" cy="176.5" r="2.4"/><circle cx="466" cy="231.5" r="2.4"/><circle cx="450.3" cy="180.9" r="2.4"/><circle cx="418.6" cy="184.6" r="2.4"/><circle cx="455.2" cy="174.2" r="2.4"/><circle cx="421.9" cy="239.2" r="2.4"/><circle cx="478.2" cy="185.4" r="2.4"/><circle cx="486.1" cy="210.5" r="2.4"/><circle cx="405.8" cy="194.8" r="2.4"/><circle cx="455.5" cy="177.2" r="2.4"/><circle cx="417.8" cy="173.8" r="2.4"/><circle cx="442.3" cy="182.2" r="2.4"/><circle cx="435.9" cy="207.4" r="2.4"/><circle cx="469.2" cy="184.3" r="2.4"/><circle cx="461.3" cy="199.3" r="2.4"/><circle cx="437.7" cy="161.5" r="2.4"/><circle cx="425.4" cy="166.7" r="2.4"/><circle cx="418.8" cy="159.9" r="2.4"/><circle cx="429.8" cy="172.8" r="2.4"/><circle cx="432.7" cy="201.1" r="2.4"/><circle cx="404.5" cy="174" r="2.4"/><circle cx="426.7" cy="188.7" r="2.4"/><circle cx="428.2" cy="210.1" r="2.4"/><circle cx="447.7" cy="181.9" r="2.4"/><circle cx="408.7" cy="170.1" r="2.4"/><circle cx="484" cy="205.5" r="2.4"/><circle cx="413.3" cy="200.6" r="2.4"/><circle cx="416.1" cy="176.4" r="2.4"/><circle cx="372.6" cy="176.2" r="2.4"/><circle cx="479.9" cy="232.1" r="2.4"/><circle cx="427.9" cy="183.4" r="2.4"/><circle cx="433.9" cy="177.2" r="2.4"/><circle cx="470.4" cy="213.2" r="2.4"/><circle cx="418.6" cy="170.3" r="2.4"/><circle cx="453.8" cy="185.4" r="2.4"/><circle cx="420.5" cy="205.6" r="2.4"/><circle cx="423" cy="207.2" r="2.4"/><circle cx="464.2" cy="197.8" r="2.4"/><circle cx="443.8" cy="206.9" r="2.4"/><circle cx="478.2" cy="240.1" r="2.4"/><circle cx="432.1" cy="182.4" r="2.4"/><circle cx="444.9" cy="198.3" r="2.4"/><circle cx="404.1" cy="177.9" r="2.4"/><circle cx="444.6" cy="207.6" r="2.4"/><circle cx="459.4" cy="197.5" r="2.4"/><circle cx="474.9" cy="212.4" r="2.4"/><circle cx="457.6" cy="259" r="2.4"/><circle cx="473.2" cy="199.2" r="2.4"/><circle cx="431.2" cy="216.6" r="2.4"/><circle cx="414.3" cy="155.2" r="2.4"/><circle cx="478" cy="214.5" r="2.4"/><circle cx="453.9" cy="169.8" r="2.4"/><circle cx="438.1" cy="189.3" r="2.4"/><circle cx="444.1" cy="190.5" r="2.4"/><circle cx="498.1" cy="218.5" r="2.4"/><circle cx="461.7" cy="208.3" r="2.4"/><circle cx="413.9" cy="190.3" r="2.4"/><circle cx="424.6" cy="206.1" r="2.4"/><circle cx="427.9" cy="169.2" r="2.4"/><circle cx="415" cy="194.9" r="2.4"/><circle cx="412.5" cy="162" r="2.4"/><circle cx="423.6" cy="181.3" r="2.4"/><circle cx="422" cy="182.9" r="2.4"/><circle cx="458" cy="201.6" r="2.4"/><circle cx="448.2" cy="204.5" r="2.4"/><circle cx="478.5" cy="213.6" r="2.4"/><circle cx="387.3" cy="165.2" r="2.4"/><circle cx="448.6" cy="224" r="2.4"/><circle cx="479.3" cy="229.9" r="2.4"/><circle cx="494.8" cy="216.2" r="2.4"/><circle cx="437.2" cy="222.3" r="2.4"/><circle cx="481.4" cy="208.1" r="2.4"/><circle cx="489.6" cy="225.9" r="2.4"/><circle cx="413.8" cy="171.7" r="2.4"/><circle cx="430" cy="176" r="2.4"/><circle cx="461" cy="180.9" r="2.4"/><circle cx="489.6" cy="213.9" r="2.4"/><circle cx="451.2" cy="170.4" r="2.4"/><circle cx="487.1" cy="223" r="2.4"/><circle cx="416" cy="188.4" r="2.4"/><circle cx="471.5" cy="189.3" r="2.4"/><circle cx="431.4" cy="176.8" r="2.4"/><circle cx="453.4" cy="207.5" r="2.4"/><circle cx="465.3" cy="229.6" r="2.4"/><circle cx="459.2" cy="207.6" r="2.4"/><circle cx="432.8" cy="196.3" r="2.4"/><circle cx="443.9" cy="178.3" r="2.4"/><circle cx="478.2" cy="190" r="2.4"/><circle cx="425.4" cy="208.8" r="2.4"/><circle cx="406.1" cy="151.4" r="2.4"/><circle cx="418.1" cy="184.4" r="2.4"/><circle cx="457.8" cy="200.2" r="2.4"/><circle cx="460.9" cy="190.2" r="2.4"/><circle cx="419.4" cy="193.1" r="2.4"/><circle cx="439.6" cy="200.8" r="2.4"/><circle cx="409.4" cy="173.1" r="2.4"/><circle cx="463.1" cy="168.4" r="2.4"/><circle cx="460.2" cy="226.1" r="2.4"/><circle cx="479.9" cy="201.2" r="2.4"/><circle cx="441.4" cy="181.2" r="2.4"/><circle cx="421.9" cy="215.3" r="2.4"/><circle cx="408.3" cy="167" r="2.4"/><circle cx="456.6" cy="214.1" r="2.4"/><circle cx="457" cy="189.7" r="2.4"/><circle cx="409.4" cy="198" r="2.4"/><circle cx="422.9" cy="218.1" r="2.4"/><circle cx="454.5" cy="222" r="2.4"/><circle cx="475.7" cy="277.9" r="2.4"/><circle cx="415.8" cy="191.2" r="2.4"/><circle cx="416.1" cy="169.6" r="2.4"/><circle cx="445.7" cy="211.7" r="2.4"/><circle cx="412.5" cy="176.6" r="2.4"/><circle cx="387.3" cy="177.6" r="2.4"/><circle cx="433.7" cy="219.5" r="2.4"/><circle cx="423.6" cy="194.4" r="2.4"/><circle cx="502.2" cy="225" r="2.4"/><circle cx="471.2" cy="170.7" r="2.4"/><circle cx="415.4" cy="168.6" r="2.4"/><circle cx="443.6" cy="184" r="2.4"/><circle cx="416.6" cy="193.9" r="2.4"/><circle cx="440.3" cy="191.6" r="2.4"/><circle cx="413.4" cy="194.3" r="2.4"/><circle cx="415.1" cy="185.6" r="2.4"/><circle cx="386.9" cy="197.4" r="2.4"/><circle cx="446.9" cy="208.8" r="2.4"/><circle cx="424.8" cy="193.5" r="2.4"/><circle cx="463.7" cy="199.6" r="2.4"/><circle cx="483.7" cy="209.1" r="2.4"/><circle cx="434.2" cy="207.3" r="2.4"/><circle cx="459.3" cy="222.9" r="2.4"/><circle cx="455" cy="219" r="2.4"/><circle cx="462.6" cy="190.6" r="2.4"/><circle cx="424.7" cy="188.5" r="2.4"/><circle cx="478.7" cy="206.2" r="2.4"/><circle cx="463.2" cy="207" r="2.4"/><circle cx="427.2" cy="197.9" r="2.4"/><circle cx="431.8" cy="188.8" r="2.4"/><circle cx="469.7" cy="199.4" r="2.4"/><circle cx="424.4" cy="221.4" r="2.4"/><circle cx="410.7" cy="195.3" r="2.4"/><circle cx="441.8" cy="198.8" r="2.4"/><circle cx="434.7" cy="213.9" r="2.4"/><circle cx="430.9" cy="215.6" r="2.4"/><circle cx="440.7" cy="203.4" r="2.4"/><circle cx="411.5" cy="160.7" r="2.4"/><circle cx="463.8" cy="228.5" r="2.4"/><circle cx="490.1" cy="213.8" r="2.4"/><circle cx="440.1" cy="190.5" r="2.4"/><circle cx="483.4" cy="188.6" r="2.4"/><circle cx="494.8" cy="235.1" r="2.4"/><circle cx="467.9" cy="233" r="2.4"/><circle cx="438.6" cy="175.3" r="2.4"/><circle cx="470.9" cy="218.9" r="2.4"/><circle cx="483.7" cy="226" r="2.4"/><circle cx="439.9" cy="206.5" r="2.4"/><circle cx="450.6" cy="197.4" r="2.4"/><circle cx="406.3" cy="167.7" r="2.4"/><circle cx="431.1" cy="210.9" r="2.4"/><circle cx="488.4" cy="210.7" r="2.4"/><circle cx="423.4" cy="219.5" r="2.4"/><circle cx="381" cy="158.3" r="2.4"/><circle cx="429.8" cy="214.9" r="2.4"/><circle cx="460.2" cy="174" r="2.4"/><circle cx="462.7" cy="232.2" r="2.4"/><circle cx="432.7" cy="184.4" r="2.4"/><circle cx="474" cy="217.1" r="2.4"/><circle cx="407.1" cy="180.5" r="2.4"/><circle cx="449.6" cy="229.7" r="2.4"/><circle cx="414.4" cy="164.4" r="2.4"/><circle cx="486.3" cy="245.7" r="2.4"/><circle cx="473.3" cy="218.5" r="2.4"/><circle cx="430.5" cy="199.4" r="2.4"/><circle cx="417.7" cy="157.1" r="2.4"/><circle cx="426.1" cy="189.1" r="2.4"/><circle cx="420.5" cy="158.3" r="2.4"/><circle cx="430" cy="226.3" r="2.4"/><circle cx="425.1" cy="173.7" r="2.4"/><circle cx="488.4" cy="216.7" r="2.4"/><circle cx="427.3" cy="203.2" r="2.4"/><circle cx="459.5" cy="208.8" r="2.4"/><circle cx="409.4" cy="215.1" r="2.4"/><circle cx="428.6" cy="160.5" r="2.4"/><circle cx="413.3" cy="172.7" r="2.4"/><circle cx="435.6" cy="222.6" r="2.4"/><circle cx="474.2" cy="209.7" r="2.4"/><circle cx="413.9" cy="162.6" r="2.4"/><circle cx="485.6" cy="218.6" r="2.4"/><circle cx="437.7" cy="156.9" r="2.4"/><circle cx="452" cy="216.1" r="2.4"/><circle cx="425.9" cy="176.6" r="2.4"/><circle cx="444.3" cy="211.7" r="2.4"/><circle cx="400.5" cy="202" r="2.4"/><circle cx="452.1" cy="180" r="2.4"/><circle cx="449.6" cy="196.2" r="2.4"/><circle cx="464.2" cy="197.2" r="2.4"/><circle cx="435.7" cy="216.7" r="2.4"/><circle cx="445.9" cy="195.8" r="2.4"/><circle cx="449.9" cy="239.7" r="2.4"/><circle cx="397.2" cy="184" r="2.4"/><circle cx="410.7" cy="187.8" r="2.4"/><circle cx="437.7" cy="168.5" r="2.4"/><circle cx="434.1" cy="206" r="2.4"/><circle cx="420.6" cy="164.5" r="2.4"/><circle cx="463.1" cy="191.5" r="2.4"/><circle cx="438.8" cy="192.2" r="2.4"/><circle cx="434.5" cy="197.7" r="2.4"/><circle cx="417.2" cy="204.2" r="2.4"/><circle cx="417.4" cy="186.4" r="2.4"/><circle cx="414.7" cy="177.6" r="2.4"/><circle cx="417.6" cy="188.3" r="2.4"/><circle cx="431.6" cy="189.8" r="2.4"/><circle cx="437.3" cy="197.6" r="2.4"/><circle cx="454.5" cy="184.7" r="2.4"/><circle cx="442.5" cy="217" r="2.4"/><circle cx="405" cy="191.2" r="2.4"/><circle cx="441.8" cy="176.4" r="2.4"/><circle cx="460.6" cy="195.2" r="2.4"/><circle cx="464" cy="199" r="2.4"/><circle cx="474.9" cy="244.3" r="2.4"/><circle cx="450.4" cy="206.1" r="2.4"/><circle cx="458.2" cy="185.2" r="2.4"/><circle cx="464.1" cy="195.3" r="2.4"/><circle cx="478.2" cy="218.4" r="2.4"/><circle cx="455.5" cy="212.5" r="2.4"/><circle cx="469.6" cy="222.1" r="2.4"/><circle cx="419.5" cy="185" r="2.4"/><circle cx="454.3" cy="218.2" r="2.4"/><circle cx="461.6" cy="198.4" r="2.4"/><circle cx="457.1" cy="197" r="2.4"/><circle cx="423.2" cy="167.8" r="2.4"/><circle cx="459.1" cy="221.2" r="2.4"/><circle cx="421.7" cy="165.6" r="2.4"/><circle cx="413.8" cy="137.6" r="2.4"/><circle cx="445.6" cy="175.2" r="2.4"/><circle cx="435" cy="198.2" r="2.4"/></g>
<g opacity="0.15"><polyline points="351.2,147.2 357.3,150.4 363.5,153.7 369.6,156.9 375.7,160.1 381.9,163.3 388,166.5 394.2,169.7 400.3,172.9 406.4,176.1 412.6,179.2 418.7,182.4 424.8,185.4 431,188.4 437.1,191.4 443.2,194.2 449.4,196.9 455.5,199.6 461.7,202.2 467.8,204.8 473.9,207.3 480.1,209.8 486.2,212.3 492.3,214.8 498.5,217.3 504.6,219.8 510.8,222.2 516.9,224.7 523,227.2 529.2,229.6 535.3,232.1" fill="none" stroke="#111" stroke-width="0.9" stroke-dasharray="2.4 1"/><polyline points="351.2,159.2 357.3,161.7 363.5,164.1 369.6,166.6 375.7,169.1 381.9,171.5 388,174 394.2,176.5 400.3,179 406.4,181.5 412.6,184.1 418.7,186.6 424.8,189.3 431,191.9 437.1,194.7 443.2,197.5 449.4,200.5 455.5,203.5 461.7,206.6 467.8,209.7 473.9,212.9 480.1,216.1 486.2,219.3 492.3,222.5 498.5,225.7 504.6,228.9 510.8,232.1 516.9,235.3 523,238.5 529.2,241.8 535.3,245" fill="none" stroke="#111" stroke-width="0.9" stroke-dasharray="2.4 1"/><line x1="351.2" y1="153.2" x2="535.3" y2="238.6" stroke="#111" stroke-width="1.3"/></g>
<path d="M351.2 97.4V282H535.9" fill="none" stroke="#000" stroke-width="1.4"/>
<path d="M351.2 282h-5.8M351.2 236h-5.8M351.2 190h-5.8M351.2 144h-5.8M351.2 98h-5.8M351.2 282v5.8M388 282v5.8M424.8 282v5.8M461.7 282v5.8M498.5 282v5.8M535.3 282v5.8" fill="none" stroke="#000" stroke-width="1.4"/>
<g font-size="11.7" fill="#000" class="s">
<text x="343.6" y="286.2" text-anchor="end">-20</text>
<text x="343.6" y="240.2" text-anchor="end">-10</text>
<text x="343.6" y="194.2" text-anchor="end">0</text>
<text x="343.6" y="148.2" text-anchor="end">10</text>
<text x="343.6" y="102.2" text-anchor="end">20</text>
<text x="351.2" y="301.4" text-anchor="middle">50</text>
<text x="388" y="301.4" text-anchor="middle">60</text>
<text x="424.8" y="301.4" text-anchor="middle">70</text>
<text x="461.7" y="301.4" text-anchor="middle">80</text>
<text x="498.5" y="301.4" text-anchor="middle">90</text>
<text x="535.3" y="301.4" text-anchor="middle">100</text>
</g>
<text x="443.2" y="323" text-anchor="middle" font-size="16.6" fill="#000">Chronological age</text>
<text transform="translate(322.6 187.4) rotate(-90)" text-anchor="middle" font-size="14.8" fill="#000">Brain age gap (uncorrected)</text>
<text x="304.4" y="78.2" font-size="28" fill="#000">b</text>
<text x="532" y="93.9" text-anchor="end" font-size="11.6" fill="#000" class="s">MAE = 3.5097</text>
<text x="532" y="108.3" text-anchor="end" font-size="11.6" fill="#000" class="s">Spearman r = -0.5160</text>
</g>
<g>
<line x1="600.5" y1="190" x2="784.1" y2="190" stroke="#e4e4e4" stroke-width="0.8"/>
<polyline points="600.5,161 606.6,163.1 612.7,165.1 618.9,167.2 625,169.3 631.1,171.3 637.2,173.4 643.3,175.4 649.5,177.4 655.6,179.5 661.7,181.5 667.8,183.4 673.9,185.3 680.1,187.2 686.2,188.9 692.3,190.6 698.4,192.2 704.5,193.7 710.7,195.2 716.8,196.6 722.9,197.9 729,199.3 735.1,200.6 741.3,202 747.4,203.3 753.5,204.6 759.6,205.9 765.7,207.2 771.9,208.5 778,209.8 784.1,211.1" fill="none" stroke="#111" stroke-width="0.9" stroke-dasharray="2.4 1"/>
<polyline points="600.5,173 606.6,174.3 612.7,175.6 618.9,176.9 625,178.2 631.1,179.5 637.2,180.9 643.3,182.2 649.5,183.5 655.6,184.9 661.7,186.3 667.8,187.7 673.9,189.2 680.1,190.7 686.2,192.3 692.3,194 698.4,195.8 704.5,197.6 710.7,199.6 716.8,201.5 722.9,203.5 729,205.5 735.1,207.6 741.3,209.6 747.4,211.7 753.5,213.7 759.6,215.8 765.7,217.8 771.9,219.9 778,222 784.1,224.1" fill="none" stroke="#111" stroke-width="0.9" stroke-dasharray="2.4 1"/>
<line x1="600.5" y1="167" x2="784.1" y2="217.6" stroke="#1a1a1a" stroke-width="1.3"/>
<g fill="#eca28e" fill-opacity="0.82" stroke="#5c2a1e" stroke-width="0.95"><circle cx="715.5" cy="190.6" r="2.4"/><circle cx="684.6" cy="183.1" r="2.4"/><circle cx="707.7" cy="192.9" r="2.4"/><circle cx="661.1" cy="221.9" r="2.4"/><circle cx="686.5" cy="191.7" r="2.4"/><circle cx="691.1" cy="185.5" r="2.4"/><circle cx="736" cy="190.9" r="2.4"/><circle cx="703.6" cy="184.4" r="2.4"/><circle cx="713.6" cy="204.6" r="2.4"/><circle cx="658.3" cy="216" r="2.4"/><circle cx="677.1" cy="196.3" r="2.4"/><circle cx="669.8" cy="171.4" r="2.4"/><circle cx="730.7" cy="212.2" r="2.4"/><circle cx="657.7" cy="192.8" r="2.4"/><circle cx="722.9" cy="205.1" r="2.4"/><circle cx="656" cy="182.4" r="2.4"/><circle cx="668.8" cy="229.3" r="2.4"/><circle cx="671.7" cy="191" r="2.4"/><circle cx="692.1" cy="217.5" r="2.4"/><circle cx="682.2" cy="174.3" r="2.4"/><circle cx="680.5" cy="191.4" r="2.4"/><circle cx="662.7" cy="203" r="2.4"/><circle cx="715" cy="198.4" r="2.4"/><circle cx="717.8" cy="198.8" r="2.4"/><circle cx="690.7" cy="192.5" r="2.4"/><circle cx="722.8" cy="192.2" r="2.4"/><circle cx="679.8" cy="205.1" r="2.4"/><circle cx="689" cy="209.4" r="2.4"/><circle cx="717" cy="190.9" r="2.4"/><circle cx="692.4" cy="173" r="2.4"/><circle cx="700.7" cy="183.6" r="2.4"/><circle cx="719.2" cy="219.7" r="2.4"/><circle cx="699.9" cy="182.4" r="2.4"/><circle cx="693.8" cy="239.9" r="2.4"/><circle cx="691.9" cy="204.5" r="2.4"/><circle cx="696.3" cy="197.2" r="2.4"/><circle cx="694.2" cy="196.7" r="2.4"/><circle cx="683.8" cy="185.9" r="2.4"/><circle cx="730.1" cy="210.4" r="2.4"/><circle cx="738.9" cy="194.1" r="2.4"/><circle cx="684.2" cy="148.3" r="2.4"/><circle cx="716" cy="200.7" r="2.4"/><circle cx="702" cy="217.9" r="2.4"/><circle cx="715.6" cy="220.9" r="2.4"/><circle cx="662" cy="179.4" r="2.4"/><circle cx="712.5" cy="205.8" r="2.4"/><circle cx="684.6" cy="197.9" r="2.4"/><circle cx="661.7" cy="155.8" r="2.4"/><circle cx="735.5" cy="195.3" r="2.4"/><circle cx="712.4" cy="193.5" r="2.4"/><circle cx="670" cy="211.6" r="2.4"/><circle cx="708.3" cy="216.7" r="2.4"/><circle cx="664.4" cy="194.1" r="2.4"/><circle cx="748.1" cy="217.6" r="2.4"/><circle cx="669.4" cy="200.6" r="2.4"/><circle cx="700" cy="206.8" r="2.4"/><circle cx="683.7" cy="174.7" r="2.4"/><circle cx="723.4" cy="201.1" r="2.4"/><circle cx="666.4" cy="176.6" r="2.4"/><circle cx="686.2" cy="211" r="2.4"/><circle cx="655.6" cy="148.4" r="2.4"/><circle cx="693.9" cy="178.1" r="2.4"/><circle cx="657.1" cy="216.1" r="2.4"/><circle cx="676.1" cy="192.1" r="2.4"/><circle cx="706.6" cy="230.7" r="2.4"/><circle cx="653.2" cy="175.5" r="2.4"/><circle cx="686.5" cy="187.6" r="2.4"/><circle cx="679.4" cy="180.1" r="2.4"/><circle cx="686.2" cy="196.4" r="2.4"/><circle cx="691.5" cy="208.1" r="2.4"/><circle cx="663" cy="196.2" r="2.4"/><circle cx="658.3" cy="200.4" r="2.4"/><circle cx="665" cy="200.3" r="2.4"/><circle cx="704.8" cy="193.6" r="2.4"/><circle cx="717.7" cy="192.4" r="2.4"/><circle cx="697.8" cy="185.9" r="2.4"/><circle cx="722" cy="238" r="2.4"/><circle cx="654.2" cy="163.9" r="2.4"/><circle cx="674.8" cy="191.6" r="2.4"/><circle cx="687.8" cy="158.6" r="2.4"/><circle cx="674" cy="189.8" r="2.4"/><circle cx="678.2" cy="196.3" r="2.4"/><circle cx="654.1" cy="190.8" r="2.4"/><circle cx="697" cy="183.1" r="2.4"/><circle cx="677" cy="204.5" r="2.4"/><circle cx="672.9" cy="177.3" r="2.4"/><circle cx="678.8" cy="197.6" r="2.4"/><circle cx="696.8" cy="196.3" r="2.4"/><circle cx="697.1" cy="193.9" r="2.4"/><circle cx="737.8" cy="210.9" r="2.4"/><circle cx="734.5" cy="200.5" r="2.4"/><circle cx="690.4" cy="205.1" r="2.4"/><circle cx="728.7" cy="167.8" r="2.4"/><circle cx="716.7" cy="213.9" r="2.4"/><circle cx="711.3" cy="182.7" r="2.4"/><circle cx="680.5" cy="219.7" r="2.4"/><circle cx="679" cy="178.8" r="2.4"/><circle cx="700.5" cy="199.2" r="2.4"/><circle cx="713" cy="207.7" r="2.4"/><circle cx="622.5" cy="162.7" r="2.4"/><circle cx="665.8" cy="154.9" r="2.4"/><circle cx="731.6" cy="223" r="2.4"/><circle cx="687.9" cy="186.9" r="2.4"/><circle cx="705.3" cy="178.9" r="2.4"/><circle cx="657.6" cy="158.2" r="2.4"/><circle cx="657.1" cy="190.2" r="2.4"/><circle cx="691.5" cy="201.4" r="2.4"/><circle cx="658.8" cy="187.8" r="2.4"/><circle cx="711.6" cy="191.2" r="2.4"/><circle cx="689.9" cy="180.9" r="2.4"/><circle cx="709.5" cy="186.2" r="2.4"/><circle cx="657.1" cy="186" r="2.4"/><circle cx="675.9" cy="210" r="2.4"/><circle cx="716.6" cy="209.2" r="2.4"/><circle cx="698" cy="186.9" r="2.4"/><circle cx="688.1" cy="167.5" r="2.4"/><circle cx="694.1" cy="227.9" r="2.4"/><circle cx="732.7" cy="197.4" r="2.4"/><circle cx="693.9" cy="189" r="2.4"/><circle cx="659.2" cy="195.4" r="2.4"/><circle cx="671.9" cy="173" r="2.4"/><circle cx="726.8" cy="186.9" r="2.4"/><circle cx="691.9" cy="178.6" r="2.4"/><circle cx="654.1" cy="185" r="2.4"/><circle cx="644.2" cy="162.9" r="2.4"/><circle cx="673.7" cy="172.4" r="2.4"/><circle cx="698.5" cy="147.5" r="2.4"/><circle cx="677.9" cy="177.2" r="2.4"/><circle cx="717.7" cy="184" r="2.4"/><circle cx="712" cy="182.5" r="2.4"/><circle cx="706.9" cy="196.2" r="2.4"/><circle cx="712.8" cy="183.5" r="2.4"/><circle cx="694.6" cy="184" r="2.4"/><circle cx="722.8" cy="191.3" r="2.4"/><circle cx="705.3" cy="218.2" r="2.4"/><circle cx="713.1" cy="174.2" r="2.4"/><circle cx="672.7" cy="171.9" r="2.4"/><circle cx="709.7" cy="198.6" r="2.4"/><circle cx="665.1" cy="168.5" r="2.4"/><circle cx="697.3" cy="179.5" r="2.4"/><circle cx="734.2" cy="217.4" r="2.4"/><circle cx="664.3" cy="189.7" r="2.4"/><circle cx="712.9" cy="200.9" r="2.4"/><circle cx="732" cy="185.3" r="2.4"/><circle cx="708.8" cy="207.8" r="2.4"/><circle cx="677.6" cy="182.7" r="2.4"/><circle cx="733.4" cy="197.6" r="2.4"/><circle cx="691.1" cy="195.8" r="2.4"/><circle cx="664.4" cy="161.5" r="2.4"/><circle cx="732" cy="253.7" r="2.4"/><circle cx="704.1" cy="188.4" r="2.4"/><circle cx="767.6" cy="208.1" r="2.4"/><circle cx="657.8" cy="195.5" r="2.4"/><circle cx="693.9" cy="209.5" r="2.4"/><circle cx="677.4" cy="203.2" r="2.4"/><circle cx="715" cy="197.6" r="2.4"/><circle cx="707.5" cy="218.4" r="2.4"/><circle cx="654.5" cy="166.9" r="2.4"/><circle cx="655.6" cy="144.3" r="2.4"/><circle cx="655.7" cy="159.6" r="2.4"/><circle cx="648.6" cy="201.7" r="2.4"/><circle cx="691.6" cy="186.8" r="2.4"/><circle cx="688.8" cy="215" r="2.4"/><circle cx="697.3" cy="192.3" r="2.4"/><circle cx="704.7" cy="189.4" r="2.4"/><circle cx="708.2" cy="180.7" r="2.4"/><circle cx="683.4" cy="206" r="2.4"/><circle cx="691.2" cy="182.2" r="2.4"/><circle cx="731.9" cy="219.1" r="2.4"/><circle cx="727.5" cy="199.7" r="2.4"/><circle cx="652.6" cy="194" r="2.4"/><circle cx="674.1" cy="216.5" r="2.4"/><circle cx="710.1" cy="183.3" r="2.4"/><circle cx="670" cy="198.1" r="2.4"/><circle cx="652.4" cy="201.4" r="2.4"/><circle cx="687.1" cy="181.7" r="2.4"/><circle cx="703.1" cy="191.6" r="2.4"/><circle cx="704.7" cy="171.7" r="2.4"/><circle cx="686.7" cy="177.8" r="2.4"/><circle cx="719" cy="200.4" r="2.4"/><circle cx="718" cy="209.1" r="2.4"/><circle cx="673.5" cy="168.8" r="2.4"/><circle cx="663.2" cy="178.4" r="2.4"/><circle cx="706.1" cy="181.6" r="2.4"/><circle cx="669.3" cy="195.9" r="2.4"/><circle cx="658.6" cy="155.1" r="2.4"/><circle cx="676.4" cy="174.6" r="2.4"/><circle cx="734.2" cy="197.3" r="2.4"/><circle cx="668.5" cy="188.9" r="2.4"/><circle cx="719.3" cy="217.5" r="2.4"/><circle cx="652" cy="199.9" r="2.4"/><circle cx="680.4" cy="173.6" r="2.4"/><circle cx="715" cy="222.3" r="2.4"/><circle cx="699.4" cy="174.6" r="2.4"/><circle cx="667.7" cy="184" r="2.4"/><circle cx="704.2" cy="167" r="2.4"/><circle cx="671" cy="238.1" r="2.4"/><circle cx="727.2" cy="174.1" r="2.4"/><circle cx="735" cy="197.7" r="2.4"/><circle cx="655" cy="196.6" r="2.4"/><circle cx="704.5" cy="170" r="2.4"/><circle cx="666.9" cy="173.4" r="2.4"/><circle cx="691.4" cy="177.3" r="2.4"/><circle cx="685" cy="203.7" r="2.4"/><circle cx="718.2" cy="174.6" r="2.4"/><circle cx="710.3" cy="191.1" r="2.4"/><circle cx="686.8" cy="157.5" r="2.4"/><circle cx="674.5" cy="164.9" r="2.4"/><circle cx="667.9" cy="159.3" r="2.4"/><circle cx="678.8" cy="170.2" r="2.4"/><circle cx="681.7" cy="198" r="2.4"/><circle cx="653.6" cy="176" r="2.4"/><circle cx="675.8" cy="186.8" r="2.4"/><circle cx="677.3" cy="207.8" r="2.4"/><circle cx="696.7" cy="176.1" r="2.4"/><circle cx="657.8" cy="171.4" r="2.4"/><circle cx="732.9" cy="193.2" r="2.4"/><circle cx="662.4" cy="201" r="2.4"/><circle cx="665.2" cy="176.3" r="2.4"/><circle cx="621.8" cy="184" r="2.4"/><circle cx="728.8" cy="220.5" r="2.4"/><circle cx="677" cy="181.2" r="2.4"/><circle cx="683" cy="173.9" r="2.4"/><circle cx="719.4" cy="203.2" r="2.4"/><circle cx="667.7" cy="169.7" r="2.4"/><circle cx="702.9" cy="178.5" r="2.4"/><circle cx="669.6" cy="204.8" r="2.4"/><circle cx="672.1" cy="205.8" r="2.4"/><circle cx="713.2" cy="189" r="2.4"/><circle cx="692.8" cy="201.8" r="2.4"/><circle cx="727.2" cy="228.8" r="2.4"/><circle cx="681.2" cy="179.4" r="2.4"/><circle cx="693.9" cy="193" r="2.4"/><circle cx="653.2" cy="180" r="2.4"/><circle cx="693.6" cy="202.3" r="2.4"/><circle cx="708.4" cy="189.6" r="2.4"/><circle cx="723.8" cy="201.7" r="2.4"/><circle cx="706.6" cy="251.4" r="2.4"/><circle cx="722.2" cy="188.8" r="2.4"/><circle cx="680.3" cy="213.8" r="2.4"/><circle cx="663.4" cy="155.4" r="2.4"/><circle cx="727" cy="203.2" r="2.4"/><circle cx="702.9" cy="162.8" r="2.4"/><circle cx="687.2" cy="185.3" r="2.4"/><circle cx="693.1" cy="185.3" r="2.4"/><circle cx="747" cy="203.6" r="2.4"/><circle cx="710.7" cy="199.9" r="2.4"/><circle cx="663" cy="190.7" r="2.4"/><circle cx="673.7" cy="204.5" r="2.4"/><circle cx="677" cy="167" r="2.4"/><circle cx="664.1" cy="195" r="2.4"/><circle cx="661.6" cy="162.6" r="2.4"/><circle cx="672.7" cy="179.9" r="2.4"/><circle cx="671.1" cy="181.7" r="2.4"/><circle cx="707" cy="193.9" r="2.4"/><circle cx="697.2" cy="198.6" r="2.4"/><circle cx="727.5" cy="202.2" r="2.4"/><circle cx="636.5" cy="170.3" r="2.4"/><circle cx="697.6" cy="218" r="2.4"/><circle cx="728.3" cy="218.3" r="2.4"/><circle cx="743.7" cy="201.9" r="2.4"/><circle cx="686.3" cy="218.4" r="2.4"/><circle cx="730.4" cy="196.2" r="2.4"/><circle cx="738.5" cy="212.5" r="2.4"/><circle cx="662.9" cy="172" r="2.4"/><circle cx="679" cy="173.4" r="2.4"/><circle cx="710" cy="172.7" r="2.4"/><circle cx="738.5" cy="200.5" r="2.4"/><circle cx="700.2" cy="163.9" r="2.4"/><circle cx="736" cy="210.1" r="2.4"/><circle cx="665.2" cy="188.3" r="2.4"/><circle cx="720.5" cy="179.2" r="2.4"/><circle cx="680.5" cy="174" r="2.4"/><circle cx="702.4" cy="200.7" r="2.4"/><circle cx="714.3" cy="220.6" r="2.4"/><circle cx="708.2" cy="199.8" r="2.4"/><circle cx="681.9" cy="193.2" r="2.4"/><circle cx="693" cy="173.2" r="2.4"/><circle cx="727.1" cy="178.7" r="2.4"/><circle cx="674.5" cy="207.1" r="2.4"/><circle cx="655.2" cy="153.1" r="2.4"/><circle cx="667.3" cy="183.9" r="2.4"/><circle cx="706.8" cy="192.6" r="2.4"/><circle cx="709.9" cy="182" r="2.4"/><circle cx="668.5" cy="192.4" r="2.4"/><circle cx="688.6" cy="196.4" r="2.4"/><circle cx="658.6" cy="174.2" r="2.4"/><circle cx="712.1" cy="159.8" r="2.4"/><circle cx="709.2" cy="218" r="2.4"/><circle cx="728.8" cy="189.6" r="2.4"/><circle cx="690.5" cy="176.5" r="2.4"/><circle cx="671" cy="214.2" r="2.4"/><circle cx="657.5" cy="168.3" r="2.4"/><circle cx="705.6" cy="206.7" r="2.4"/><circle cx="706" cy="182.3" r="2.4"/><circle cx="658.6" cy="199.1" r="2.4"/><circle cx="672" cy="216.8" r="2.4"/><circle cx="703.5" cy="215" r="2.4"/><circle cx="724.6" cy="267" r="2.4"/><circle cx="664.9" cy="191.2" r="2.4"/><circle cx="665.2" cy="169.5" r="2.4"/><circle cx="694.7" cy="206.2" r="2.4"/><circle cx="661.6" cy="177.1" r="2.4"/><circle cx="636.5" cy="182.7" r="2.4"/><circle cx="682.8" cy="216.2" r="2.4"/><circle cx="672.8" cy="192.9" r="2.4"/><circle cx="751.1" cy="209.3" r="2.4"/><circle cx="720.2" cy="160.6" r="2.4"/><circle cx="664.5" cy="168.7" r="2.4"/><circle cx="692.6" cy="178.9" r="2.4"/><circle cx="665.7" cy="193.7" r="2.4"/><circle cx="689.3" cy="187.1" r="2.4"/><circle cx="662.5" cy="194.7" r="2.4"/><circle cx="664.2" cy="185.7" r="2.4"/><circle cx="636.1" cy="202.6" r="2.4"/><circle cx="696" cy="203.1" r="2.4"/><circle cx="673.9" cy="191.8" r="2.4"/><circle cx="712.7" cy="190.9" r="2.4"/><circle cx="732.6" cy="196.8" r="2.4"/><circle cx="683.3" cy="203.9" r="2.4"/><circle cx="708.3" cy="215" r="2.4"/><circle cx="704" cy="211.9" r="2.4"/><circle cx="711.6" cy="182.1" r="2.4"/><circle cx="673.8" cy="186.9" r="2.4"/><circle cx="727.6" cy="194.8" r="2.4"/><circle cx="712.2" cy="198.4" r="2.4"/><circle cx="676.3" cy="195.8" r="2.4"/><circle cx="680.9" cy="185.8" r="2.4"/><circle cx="718.7" cy="189.6" r="2.4"/><circle cx="673.5" cy="219.8" r="2.4"/><circle cx="659.9" cy="196.2" r="2.4"/><circle cx="690.8" cy="194.1" r="2.4"/><circle cx="683.8" cy="210.5" r="2.4"/><circle cx="680" cy="212.8" r="2.4"/><circle cx="689.7" cy="198.9" r="2.4"/><circle cx="660.6" cy="161.5" r="2.4"/><circle cx="712.8" cy="219.7" r="2.4"/><circle cx="739.1" cy="200.3" r="2.4"/><circle cx="689.1" cy="186.1" r="2.4"/><circle cx="732.3" cy="176.3" r="2.4"/><circle cx="743.7" cy="220.7" r="2.4"/><circle cx="716.9" cy="223.6" r="2.4"/><circle cx="687.7" cy="171.1" r="2.4"/><circle cx="719.9" cy="208.9" r="2.4"/><circle cx="732.6" cy="213.7" r="2.4"/><circle cx="689" cy="202.1" r="2.4"/><circle cx="699.6" cy="191.1" r="2.4"/><circle cx="655.4" cy="169.4" r="2.4"/><circle cx="680.2" cy="208.1" r="2.4"/><circle cx="737.3" cy="197.5" r="2.4"/><circle cx="672.5" cy="218.1" r="2.4"/><circle cx="630.2" cy="164.5" r="2.4"/><circle cx="678.9" cy="212.4" r="2.4"/><circle cx="709.2" cy="165.9" r="2.4"/><circle cx="711.7" cy="223.6" r="2.4"/><circle cx="681.8" cy="181.3" r="2.4"/><circle cx="722.9" cy="206.6" r="2.4"/><circle cx="656.2" cy="182" r="2.4"/><circle cx="698.6" cy="223.5" r="2.4"/><circle cx="663.5" cy="164.7" r="2.4"/><circle cx="735.3" cy="232.9" r="2.4"/><circle cx="722.2" cy="208.1" r="2.4"/><circle cx="679.6" cy="196.7" r="2.4"/><circle cx="666.8" cy="156.8" r="2.4"/><circle cx="675.2" cy="187.2" r="2.4"/><circle cx="669.6" cy="157.4" r="2.4"/><circle cx="679.1" cy="223.7" r="2.4"/><circle cx="674.2" cy="172" r="2.4"/><circle cx="737.4" cy="203.5" r="2.4"/><circle cx="676.4" cy="201.1" r="2.4"/><circle cx="708.5" cy="200.9" r="2.4"/><circle cx="658.6" cy="216.3" r="2.4"/><circle cx="677.7" cy="158.2" r="2.4"/><circle cx="662.4" cy="173.1" r="2.4"/><circle cx="684.7" cy="219" r="2.4"/><circle cx="723.2" cy="199.1" r="2.4"/><circle cx="663" cy="162.9" r="2.4"/><circle cx="734.6" cy="205.9" r="2.4"/><circle cx="686.8" cy="152.9" r="2.4"/><circle cx="701.1" cy="209.5" r="2.4"/><circle cx="675" cy="174.8" r="2.4"/><circle cx="693.4" cy="206.5" r="2.4"/><circle cx="649.7" cy="204.7" r="2.4"/><circle cx="701.1" cy="173.4" r="2.4"/><circle cx="698.7" cy="190" r="2.4"/><circle cx="713.2" cy="188.4" r="2.4"/><circle cx="684.8" cy="213" r="2.4"/><circle cx="695" cy="190.3" r="2.4"/><circle cx="698.9" cy="233.5" r="2.4"/><circle cx="646.4" cy="187.4" r="2.4"/><circle cx="659.8" cy="188.7" r="2.4"/><circle cx="686.8" cy="164.5" r="2.4"/><circle cx="683.2" cy="202.6" r="2.4"/><circle cx="669.7" cy="163.6" r="2.4"/><circle cx="712.1" cy="182.9" r="2.4"/><circle cx="687.8" cy="188" r="2.4"/><circle cx="683.6" cy="194.3" r="2.4"/><circle cx="666.3" cy="203.9" r="2.4"/><circle cx="666.5" cy="186.1" r="2.4"/><circle cx="663.8" cy="177.8" r="2.4"/><circle cx="666.7" cy="187.9" r="2.4"/><circle cx="680.7" cy="186.9" r="2.4"/><circle cx="686.3" cy="193.7" r="2.4"/><circle cx="703.5" cy="177.7" r="2.4"/><circle cx="691.5" cy="212.1" r="2.4"/><circle cx="654.1" cy="193.2" r="2.4"/><circle cx="690.8" cy="171.6" r="2.4"/><circle cx="709.6" cy="187" r="2.4"/><circle cx="713" cy="190.3" r="2.4"/><circle cx="723.9" cy="233.5" r="2.4"/><circle cx="699.4" cy="199.8" r="2.4"/><circle cx="707.2" cy="177.5" r="2.4"/><circle cx="713.1" cy="186.5" r="2.4"/><circle cx="727.2" cy="207" r="2.4"/><circle cx="704.5" cy="205.2" r="2.4"/><circle cx="718.6" cy="212.3" r="2.4"/><circle cx="668.6" cy="184.3" r="2.4"/><circle cx="703.3" cy="211.2" r="2.4"/><circle cx="710.6" cy="190" r="2.4"/><circle cx="706.2" cy="189.5" r="2.4"/><circle cx="672.3" cy="166.4" r="2.4"/><circle cx="708.1" cy="213.3" r="2.4"/><circle cx="670.8" cy="164.5" r="2.4"/><circle cx="662.9" cy="137.9" r="2.4"/><circle cx="694.7" cy="169.8" r="2.4"/><circle cx="684.1" cy="194.7" r="2.4"/></g>
<g opacity="0.15"><polyline points="600.5,161 606.6,163.1 612.7,165.1 618.9,167.2 625,169.3 631.1,171.3 637.2,173.4 643.3,175.4 649.5,177.4 655.6,179.5 661.7,181.5 667.8,183.4 673.9,185.3 680.1,187.2 686.2,188.9 692.3,190.6 698.4,192.2 704.5,193.7 710.7,195.2 716.8,196.6 722.9,197.9 729,199.3 735.1,200.6 741.3,202 747.4,203.3 753.5,204.6 759.6,205.9 765.7,207.2 771.9,208.5 778,209.8 784.1,211.1" fill="none" stroke="#111" stroke-width="0.9" stroke-dasharray="2.4 1"/><polyline points="600.5,173 606.6,174.3 612.7,175.6 618.9,176.9 625,178.2 631.1,179.5 637.2,180.9 643.3,182.2 649.5,183.5 655.6,184.9 661.7,186.3 667.8,187.7 673.9,189.2 680.1,190.7 686.2,192.3 692.3,194 698.4,195.8 704.5,197.6 710.7,199.6 716.8,201.5 722.9,203.5 729,205.5 735.1,207.6 741.3,209.6 747.4,211.7 753.5,213.7 759.6,215.8 765.7,217.8 771.9,219.9 778,222 784.1,224.1" fill="none" stroke="#111" stroke-width="0.9" stroke-dasharray="2.4 1"/><line x1="600.5" y1="167" x2="784.1" y2="217.6" stroke="#111" stroke-width="1.3"/></g>
<path d="M600.5 97.4V282H784.7" fill="none" stroke="#000" stroke-width="1.4"/>
<path d="M600.5 282h-5.8M600.5 236h-5.8M600.5 190h-5.8M600.5 144h-5.8M600.5 98h-5.8M600.5 282v5.8M637.2 282v5.8M673.9 282v5.8M710.7 282v5.8M747.4 282v5.8M784.1 282v5.8" fill="none" stroke="#000" stroke-width="1.4"/>
<g font-size="11.7" fill="#000" class="s">
<text x="592.9" y="286.2" text-anchor="end">-20</text>
<text x="592.9" y="240.2" text-anchor="end">-10</text>
<text x="592.9" y="194.2" text-anchor="end">0</text>
<text x="592.9" y="148.2" text-anchor="end">10</text>
<text x="592.9" y="102.2" text-anchor="end">20</text>
<text x="600.5" y="301.4" text-anchor="middle">50</text>
<text x="637.2" y="301.4" text-anchor="middle">60</text>
<text x="673.9" y="301.4" text-anchor="middle">70</text>
<text x="710.7" y="301.4" text-anchor="middle">80</text>
<text x="747.4" y="301.4" text-anchor="middle">90</text>
<text x="784.1" y="301.4" text-anchor="middle">100</text>
</g>
<text x="692.3" y="323" text-anchor="middle" font-size="16.6" fill="#000">Chronological age</text>
<text transform="translate(572.6 186.5) rotate(-90)" text-anchor="middle" font-size="15.1" fill="#000">Brain age gap (corrected)</text>
<text x="554.2" y="78.2" font-size="28" fill="#000">c</text>
<text x="782.5" y="94.2" text-anchor="end" font-size="11.6" fill="#000" class="s">MAE = 3.0709</text>
<text x="782.5" y="108.9" text-anchor="end" font-size="11.6" fill="#000" class="s">Spearman r = -0.3325</text>
</g>
<g>
<polyline points="867.7,267.9 873.8,262.6 879.9,257.4 886.1,252.1 892.2,246.8 898.3,241.6 904.4,236.3 910.6,231 916.7,225.7 922.8,220.5 928.9,215.2 935.1,209.9 941.2,204.6 947.3,199.3 953.4,194 959.6,188.6 965.7,183.3 971.8,177.9 977.9,172.5 984,167 990.2,161.5 996.3,156 1002.4,150.5 1008.5,144.9 1014.7,139.3 1020.8,133.8 1026.9,128.2 1033,122.6 1039.2,117 1045.3,111.4 1051.4,105.8" fill="none" stroke="#111" stroke-width="0.9" stroke-dasharray="2.4 1"/>
<polyline points="867.7,274.4 873.8,268.8 879.9,263.2 886.1,257.6 892.2,252 898.3,246.4 904.4,240.8 910.6,235.2 916.7,229.6 922.8,224 928.9,218.4 935.1,212.8 941.2,207.2 947.3,201.7 953.4,196.1 959.6,190.6 965.7,185 971.8,179.6 977.9,174.1 984,168.7 990.2,163.3 996.3,157.9 1002.4,152.6 1008.5,147.3 1014.7,142 1020.8,136.7 1026.9,131.4 1033,126.1 1039.2,120.9 1045.3,115.6 1051.4,110.3" fill="none" stroke="#111" stroke-width="0.9" stroke-dasharray="2.4 1"/>
<line x1="867.7" y1="271.2" x2="1051.4" y2="108" stroke="#1a1a1a" stroke-width="1.3"/>
<g fill="#eca28e" fill-opacity="0.82" stroke="#5c2a1e" stroke-width="0.95"><circle cx="941.9" cy="207.3" r="2.4"/><circle cx="995.4" cy="158" r="2.4"/><circle cx="1003.2" cy="150.4" r="2.4"/><circle cx="969" cy="197.9" r="2.4"/><circle cx="912.5" cy="242.3" r="2.4"/><circle cx="941.5" cy="213.9" r="2.4"/><circle cx="1003.3" cy="145.2" r="2.4"/><circle cx="1003.2" cy="160.1" r="2.4"/><circle cx="1006.9" cy="135.1" r="2.4"/><circle cx="1009.7" cy="139.8" r="2.4"/><circle cx="958" cy="186.1" r="2.4"/><circle cx="948.7" cy="200.3" r="2.4"/><circle cx="946.4" cy="203.5" r="2.4"/><circle cx="976" cy="184.8" r="2.4"/><circle cx="996.4" cy="160" r="2.4"/><circle cx="986.2" cy="170.6" r="2.4"/><circle cx="944.1" cy="189.1" r="2.4"/><circle cx="941.1" cy="205.9" r="2.4"/><circle cx="922.6" cy="224.1" r="2.4"/><circle cx="948.9" cy="197.3" r="2.4"/><circle cx="988" cy="145.5" r="2.4"/><circle cx="1025.3" cy="130.7" r="2.4"/><circle cx="980.6" cy="168.6" r="2.4"/><circle cx="968.7" cy="194.8" r="2.4"/><circle cx="931.9" cy="199.9" r="2.4"/><circle cx="937" cy="210.5" r="2.4"/><circle cx="972.1" cy="173.5" r="2.4"/><circle cx="881.9" cy="217" r="2.4"/><circle cx="971.7" cy="174.3" r="2.4"/><circle cx="979.2" cy="167.3" r="2.4"/><circle cx="1027.2" cy="120.3" r="2.4"/><circle cx="993.4" cy="143.7" r="2.4"/><circle cx="999.6" cy="161.3" r="2.4"/><circle cx="1012.4" cy="150.2" r="2.4"/><circle cx="965.9" cy="168.3" r="2.4"/><circle cx="954.5" cy="188.9" r="2.4"/><circle cx="999.8" cy="152.5" r="2.4"/><circle cx="941.4" cy="204.4" r="2.4"/><circle cx="986.7" cy="164.9" r="2.4"/><circle cx="950.3" cy="197.8" r="2.4"/><circle cx="979.7" cy="164.2" r="2.4"/><circle cx="990.5" cy="166.6" r="2.4"/><circle cx="983.9" cy="170.7" r="2.4"/><circle cx="998.5" cy="165.8" r="2.4"/><circle cx="980.2" cy="184.9" r="2.4"/><circle cx="937.4" cy="202.3" r="2.4"/><circle cx="1020.1" cy="144.3" r="2.4"/><circle cx="951.7" cy="221.2" r="2.4"/><circle cx="964.9" cy="178.8" r="2.4"/><circle cx="1015.2" cy="134.4" r="2.4"/><circle cx="943.6" cy="196" r="2.4"/><circle cx="942.3" cy="195.4" r="2.4"/><circle cx="1036.9" cy="123" r="2.4"/><circle cx="966.9" cy="191.6" r="2.4"/><circle cx="940.1" cy="212.6" r="2.4"/><circle cx="969" cy="194.3" r="2.4"/><circle cx="936" cy="219.5" r="2.4"/><circle cx="1032.4" cy="126.9" r="2.4"/><circle cx="958.6" cy="182.2" r="2.4"/><circle cx="983.6" cy="165.5" r="2.4"/><circle cx="1001.6" cy="151.4" r="2.4"/><circle cx="970.8" cy="174.5" r="2.4"/><circle cx="1018.2" cy="145.6" r="2.4"/><circle cx="994.7" cy="151.3" r="2.4"/><circle cx="961.8" cy="170.3" r="2.4"/><circle cx="1002.3" cy="150.7" r="2.4"/><circle cx="1011.4" cy="150.8" r="2.4"/><circle cx="1014.8" cy="139.1" r="2.4"/><circle cx="995.4" cy="162.8" r="2.4"/><circle cx="985.7" cy="150.2" r="2.4"/><circle cx="1007" cy="154.6" r="2.4"/><circle cx="981.6" cy="158.7" r="2.4"/><circle cx="978" cy="181.8" r="2.4"/><circle cx="995" cy="162.1" r="2.4"/><circle cx="1010.4" cy="153.8" r="2.4"/><circle cx="943.6" cy="207.9" r="2.4"/><circle cx="935.2" cy="218.6" r="2.4"/><circle cx="973.4" cy="180.1" r="2.4"/><circle cx="1025.6" cy="135.6" r="2.4"/><circle cx="968.4" cy="181.7" r="2.4"/><circle cx="972.1" cy="169.8" r="2.4"/><circle cx="983.2" cy="154.9" r="2.4"/><circle cx="976.4" cy="169.1" r="2.4"/><circle cx="953.2" cy="202.8" r="2.4"/><circle cx="895.6" cy="253.3" r="2.4"/><circle cx="1002.4" cy="158.7" r="2.4"/><circle cx="941.4" cy="229.8" r="2.4"/><circle cx="996.9" cy="147.3" r="2.4"/><circle cx="944" cy="212.2" r="2.4"/><circle cx="1015.6" cy="142.2" r="2.4"/><circle cx="980.6" cy="179.9" r="2.4"/><circle cx="997.1" cy="145.4" r="2.4"/><circle cx="985.3" cy="150.7" r="2.4"/><circle cx="983.3" cy="153.1" r="2.4"/><circle cx="1010.9" cy="148.2" r="2.4"/><circle cx="1017.8" cy="157.5" r="2.4"/><circle cx="941.9" cy="204.2" r="2.4"/><circle cx="973.8" cy="190.1" r="2.4"/><circle cx="982.6" cy="167" r="2.4"/><circle cx="1005.5" cy="142.7" r="2.4"/><circle cx="1028.5" cy="126.5" r="2.4"/><circle cx="986.3" cy="177.1" r="2.4"/><circle cx="965.1" cy="199.2" r="2.4"/><circle cx="984.4" cy="167.8" r="2.4"/><circle cx="981.6" cy="177.1" r="2.4"/><circle cx="1020.3" cy="136.3" r="2.4"/><circle cx="1015.5" cy="139.5" r="2.4"/><circle cx="1004.5" cy="141.6" r="2.4"/><circle cx="954.7" cy="174.7" r="2.4"/><circle cx="966.1" cy="190" r="2.4"/><circle cx="999.1" cy="145.6" r="2.4"/><circle cx="957.8" cy="185.7" r="2.4"/><circle cx="935.3" cy="207.2" r="2.4"/><circle cx="950.8" cy="200.7" r="2.4"/><circle cx="935" cy="212.8" r="2.4"/><circle cx="953.7" cy="193.7" r="2.4"/><circle cx="1004.1" cy="163.9" r="2.4"/><circle cx="1004.2" cy="143.6" r="2.4"/><circle cx="970.7" cy="176" r="2.4"/><circle cx="935.3" cy="221.3" r="2.4"/><circle cx="934.9" cy="213.7" r="2.4"/><circle cx="1026.9" cy="123.8" r="2.4"/><circle cx="1014" cy="132" r="2.4"/><circle cx="984.7" cy="170" r="2.4"/><circle cx="957.9" cy="200.9" r="2.4"/><circle cx="976.5" cy="186.8" r="2.4"/><circle cx="1018.8" cy="127.4" r="2.4"/><circle cx="989.4" cy="156.2" r="2.4"/><circle cx="944.4" cy="208.6" r="2.4"/><circle cx="938.3" cy="205.1" r="2.4"/><circle cx="996.6" cy="150.9" r="2.4"/><circle cx="1008.7" cy="139.9" r="2.4"/><circle cx="950.6" cy="196.5" r="2.4"/><circle cx="1008.4" cy="149.6" r="2.4"/><circle cx="1009.7" cy="131" r="2.4"/><circle cx="960" cy="193.5" r="2.4"/><circle cx="939.9" cy="206.9" r="2.4"/><circle cx="1000.6" cy="157.5" r="2.4"/><circle cx="1002.7" cy="149.2" r="2.4"/><circle cx="971.7" cy="172" r="2.4"/><circle cx="1012" cy="155.1" r="2.4"/><circle cx="1003.8" cy="153.1" r="2.4"/><circle cx="985.3" cy="171.9" r="2.4"/><circle cx="955.9" cy="191" r="2.4"/><circle cx="976.6" cy="190.1" r="2.4"/><circle cx="916.2" cy="223.7" r="2.4"/><circle cx="1012.1" cy="145.5" r="2.4"/><circle cx="1032.8" cy="135" r="2.4"/><circle cx="1024.2" cy="140.9" r="2.4"/><circle cx="1019.7" cy="130" r="2.4"/><circle cx="1000.7" cy="136.2" r="2.4"/><circle cx="982.9" cy="164.8" r="2.4"/><circle cx="996.7" cy="156.8" r="2.4"/><circle cx="997.3" cy="151.5" r="2.4"/><circle cx="949.5" cy="233.7" r="2.4"/><circle cx="945" cy="192.6" r="2.4"/><circle cx="999.1" cy="146.8" r="2.4"/><circle cx="978" cy="163.4" r="2.4"/><circle cx="973.5" cy="180.8" r="2.4"/><circle cx="974.5" cy="177.2" r="2.4"/><circle cx="1032.1" cy="139.9" r="2.4"/><circle cx="992.7" cy="157.3" r="2.4"/><circle cx="1007.8" cy="140.5" r="2.4"/><circle cx="944.2" cy="204" r="2.4"/><circle cx="1012.2" cy="144.1" r="2.4"/><circle cx="962.1" cy="187.7" r="2.4"/><circle cx="1023.5" cy="128" r="2.4"/><circle cx="1025.5" cy="132.1" r="2.4"/><circle cx="1000.7" cy="148.2" r="2.4"/><circle cx="991.5" cy="152.7" r="2.4"/><circle cx="994.3" cy="171.3" r="2.4"/><circle cx="1004.8" cy="153.6" r="2.4"/><circle cx="936.1" cy="212.3" r="2.4"/><circle cx="959.9" cy="194" r="2.4"/><circle cx="970.5" cy="189.8" r="2.4"/><circle cx="913" cy="235.9" r="2.4"/><circle cx="1009.3" cy="151.1" r="2.4"/><circle cx="959.7" cy="188.7" r="2.4"/><circle cx="1018" cy="132.4" r="2.4"/><circle cx="1030.5" cy="127.9" r="2.4"/><circle cx="1022.3" cy="154.1" r="2.4"/><circle cx="935.1" cy="199.6" r="2.4"/><circle cx="966.3" cy="197.1" r="2.4"/><circle cx="986.7" cy="162.2" r="2.4"/><circle cx="1012.2" cy="132.7" r="2.4"/><circle cx="935.5" cy="227.3" r="2.4"/><circle cx="964.9" cy="200" r="2.4"/><circle cx="962.3" cy="200.8" r="2.4"/><circle cx="1001.1" cy="146.8" r="2.4"/><circle cx="1006.4" cy="134.4" r="2.4"/><circle cx="1002.2" cy="146.7" r="2.4"/><circle cx="979.6" cy="175.1" r="2.4"/><circle cx="937.8" cy="201" r="2.4"/><circle cx="961.3" cy="197" r="2.4"/><circle cx="952.1" cy="197" r="2.4"/><circle cx="968.3" cy="199.8" r="2.4"/><circle cx="1013.9" cy="146.1" r="2.4"/><circle cx="1009.4" cy="134.4" r="2.4"/><circle cx="1011.2" cy="144.7" r="2.4"/><circle cx="1032.8" cy="120.5" r="2.4"/><circle cx="1002.2" cy="154.8" r="2.4"/><circle cx="1020.5" cy="150.2" r="2.4"/><circle cx="1006.1" cy="154.6" r="2.4"/><circle cx="990.4" cy="172.4" r="2.4"/><circle cx="968.6" cy="181.5" r="2.4"/><circle cx="935.2" cy="223.4" r="2.4"/><circle cx="978.7" cy="178.1" r="2.4"/><circle cx="987.7" cy="171.4" r="2.4"/><circle cx="963.2" cy="191.6" r="2.4"/><circle cx="994.2" cy="155.6" r="2.4"/><circle cx="983" cy="170.3" r="2.4"/><circle cx="944.7" cy="205.4" r="2.4"/><circle cx="982.5" cy="179.2" r="2.4"/><circle cx="942.5" cy="206.6" r="2.4"/><circle cx="974.5" cy="177.3" r="2.4"/><circle cx="1013.9" cy="129.8" r="2.4"/><circle cx="995" cy="168.4" r="2.4"/><circle cx="964.1" cy="182.1" r="2.4"/><circle cx="998.2" cy="147.6" r="2.4"/><circle cx="934.7" cy="214.8" r="2.4"/><circle cx="926.2" cy="200.9" r="2.4"/><circle cx="983" cy="173.8" r="2.4"/><circle cx="901.7" cy="235.4" r="2.4"/><circle cx="938.6" cy="209.9" r="2.4"/><circle cx="951.2" cy="204.6" r="2.4"/><circle cx="958.6" cy="188.6" r="2.4"/><circle cx="965.6" cy="200.7" r="2.4"/><circle cx="1023.8" cy="135.7" r="2.4"/><circle cx="975.5" cy="182.8" r="2.4"/><circle cx="1006.6" cy="155.5" r="2.4"/><circle cx="977.8" cy="170" r="2.4"/><circle cx="971.7" cy="186" r="2.4"/><circle cx="960.6" cy="191.5" r="2.4"/><circle cx="1007.3" cy="150.2" r="2.4"/><circle cx="953.2" cy="202.5" r="2.4"/><circle cx="985.4" cy="160.2" r="2.4"/><circle cx="980.9" cy="179.6" r="2.4"/><circle cx="991.6" cy="161.8" r="2.4"/><circle cx="1002.5" cy="137.7" r="2.4"/><circle cx="964.6" cy="190.1" r="2.4"/><circle cx="998.3" cy="146" r="2.4"/><circle cx="962.7" cy="194.1" r="2.4"/><circle cx="994.3" cy="161.9" r="2.4"/><circle cx="967" cy="192.4" r="2.4"/><circle cx="1008.1" cy="144.7" r="2.4"/><circle cx="1020" cy="149.7" r="2.4"/><circle cx="982" cy="158.4" r="2.4"/><circle cx="986.2" cy="162.5" r="2.4"/><circle cx="965.9" cy="193.7" r="2.4"/><circle cx="936.9" cy="220.2" r="2.4"/><circle cx="970.7" cy="185.2" r="2.4"/><circle cx="952.8" cy="199.6" r="2.4"/><circle cx="972.2" cy="179.3" r="2.4"/><circle cx="939.6" cy="210.4" r="2.4"/><circle cx="961.1" cy="204.7" r="2.4"/><circle cx="1008.5" cy="152.8" r="2.4"/><circle cx="1021.5" cy="134.9" r="2.4"/><circle cx="963.2" cy="187.1" r="2.4"/><circle cx="985.2" cy="164.8" r="2.4"/><circle cx="1000.7" cy="158.5" r="2.4"/><circle cx="994.6" cy="153.1" r="2.4"/><circle cx="999.7" cy="169.3" r="2.4"/><circle cx="1011.3" cy="142.2" r="2.4"/><circle cx="960.3" cy="179.2" r="2.4"/><circle cx="986.7" cy="162.3" r="2.4"/><circle cx="1031.8" cy="139.9" r="2.4"/><circle cx="965.8" cy="182.4" r="2.4"/><circle cx="997.1" cy="158.2" r="2.4"/><circle cx="1000.2" cy="158.8" r="2.4"/><circle cx="914.7" cy="240.1" r="2.4"/><circle cx="983.4" cy="158.7" r="2.4"/><circle cx="1040.9" cy="119.1" r="2.4"/><circle cx="991.3" cy="162.5" r="2.4"/><circle cx="924.5" cy="209.9" r="2.4"/><circle cx="959.1" cy="188.1" r="2.4"/><circle cx="962" cy="183" r="2.4"/><circle cx="941.9" cy="212.5" r="2.4"/><circle cx="1006.9" cy="145.2" r="2.4"/><circle cx="969.9" cy="193.3" r="2.4"/><circle cx="947.6" cy="200.6" r="2.4"/><circle cx="1013.7" cy="153.4" r="2.4"/><circle cx="967" cy="174.5" r="2.4"/><circle cx="1001.6" cy="162.2" r="2.4"/><circle cx="919.1" cy="232.2" r="2.4"/><circle cx="958.3" cy="197.4" r="2.4"/><circle cx="954.5" cy="188.6" r="2.4"/><circle cx="972.3" cy="190.1" r="2.4"/><circle cx="944.9" cy="200.5" r="2.4"/><circle cx="972" cy="181.3" r="2.4"/><circle cx="995.2" cy="158.7" r="2.4"/><circle cx="950.9" cy="205.6" r="2.4"/><circle cx="969.1" cy="173.1" r="2.4"/><circle cx="937.5" cy="212.7" r="2.4"/><circle cx="979.7" cy="168.7" r="2.4"/><circle cx="965.4" cy="191.3" r="2.4"/><circle cx="967.3" cy="184" r="2.4"/><circle cx="958.1" cy="206.6" r="2.4"/><circle cx="976.9" cy="190.1" r="2.4"/><circle cx="965.4" cy="167.6" r="2.4"/><circle cx="1007.9" cy="145.9" r="2.4"/><circle cx="957.1" cy="194" r="2.4"/><circle cx="964.9" cy="193.3" r="2.4"/><circle cx="983.9" cy="158.3" r="2.4"/><circle cx="1008.2" cy="150.8" r="2.4"/><circle cx="912.8" cy="222.7" r="2.4"/><circle cx="971.7" cy="172.4" r="2.4"/><circle cx="934.5" cy="215.2" r="2.4"/><circle cx="944.1" cy="202.2" r="2.4"/><circle cx="999" cy="169" r="2.4"/><circle cx="1005.2" cy="156.7" r="2.4"/><circle cx="941.2" cy="207.5" r="2.4"/><circle cx="1015" cy="130" r="2.4"/><circle cx="924" cy="225.1" r="2.4"/><circle cx="981.9" cy="172.8" r="2.4"/><circle cx="964.8" cy="201.8" r="2.4"/><circle cx="981.8" cy="188.3" r="2.4"/><circle cx="951.8" cy="210" r="2.4"/><circle cx="954.4" cy="193.9" r="2.4"/><circle cx="1013.8" cy="142" r="2.4"/><circle cx="960" cy="167.1" r="2.4"/><circle cx="953.4" cy="181.5" r="2.4"/><circle cx="1006.6" cy="132.8" r="2.4"/><circle cx="989.8" cy="174.1" r="2.4"/><circle cx="952" cy="199.8" r="2.4"/><circle cx="981.4" cy="174.4" r="2.4"/><circle cx="968.4" cy="183.3" r="2.4"/><circle cx="966" cy="188.2" r="2.4"/><circle cx="989.3" cy="161" r="2.4"/><circle cx="940.1" cy="201.9" r="2.4"/><circle cx="976.2" cy="171.7" r="2.4"/><circle cx="967.3" cy="193.8" r="2.4"/><circle cx="983.5" cy="170.5" r="2.4"/><circle cx="962" cy="189.2" r="2.4"/><circle cx="980.4" cy="165.4" r="2.4"/><circle cx="982.7" cy="158.6" r="2.4"/><circle cx="961.8" cy="202.1" r="2.4"/><circle cx="984.2" cy="165.2" r="2.4"/><circle cx="1014.2" cy="126.9" r="2.4"/><circle cx="965.2" cy="201" r="2.4"/><circle cx="1017.2" cy="130.4" r="2.4"/><circle cx="974.9" cy="167.9" r="2.4"/><circle cx="987.3" cy="165.5" r="2.4"/><circle cx="967.4" cy="183.8" r="2.4"/><circle cx="961.6" cy="189.1" r="2.4"/><circle cx="958.2" cy="189" r="2.4"/><circle cx="957.6" cy="185.9" r="2.4"/><circle cx="953.2" cy="204" r="2.4"/><circle cx="950.7" cy="187.3" r="2.4"/><circle cx="957.1" cy="195.6" r="2.4"/><circle cx="958.5" cy="190.4" r="2.4"/><circle cx="1012" cy="139.7" r="2.4"/><circle cx="959.2" cy="190" r="2.4"/><circle cx="1001.5" cy="162.8" r="2.4"/><circle cx="975.7" cy="165.6" r="2.4"/><circle cx="963.5" cy="203.8" r="2.4"/><circle cx="937" cy="213.7" r="2.4"/><circle cx="1002.6" cy="158.9" r="2.4"/><circle cx="1028.2" cy="128.6" r="2.4"/><circle cx="997.1" cy="147" r="2.4"/><circle cx="998.2" cy="153.5" r="2.4"/><circle cx="969" cy="193.7" r="2.4"/><circle cx="987.1" cy="169.7" r="2.4"/><circle cx="974.8" cy="175.2" r="2.4"/><circle cx="975.3" cy="180.5" r="2.4"/><circle cx="936.5" cy="220.2" r="2.4"/><circle cx="996.7" cy="143.2" r="2.4"/><circle cx="971.6" cy="196" r="2.4"/><circle cx="991.5" cy="156.7" r="2.4"/><circle cx="1008.9" cy="144.4" r="2.4"/><circle cx="976.5" cy="177" r="2.4"/><circle cx="1004.7" cy="145.1" r="2.4"/><circle cx="1010.8" cy="150.7" r="2.4"/><circle cx="896.4" cy="237.1" r="2.4"/><circle cx="991.4" cy="141.1" r="2.4"/><circle cx="998.2" cy="162.6" r="2.4"/><circle cx="1009.1" cy="150" r="2.4"/><circle cx="990.7" cy="153.9" r="2.4"/><circle cx="987.5" cy="191.4" r="2.4"/><circle cx="938.7" cy="206.9" r="2.4"/><circle cx="994.4" cy="166.5" r="2.4"/><circle cx="981.8" cy="166.3" r="2.4"/><circle cx="945.3" cy="224.6" r="2.4"/><circle cx="968" cy="185.2" r="2.4"/><circle cx="965.9" cy="187" r="2.4"/><circle cx="999.5" cy="146.5" r="2.4"/><circle cx="968.6" cy="191.9" r="2.4"/><circle cx="984" cy="176" r="2.4"/><circle cx="943" cy="215.3" r="2.4"/><circle cx="1005.9" cy="150.3" r="2.4"/><circle cx="951.5" cy="198.3" r="2.4"/><circle cx="965.5" cy="189.8" r="2.4"/><circle cx="964" cy="189.1" r="2.4"/><circle cx="943.2" cy="205.5" r="2.4"/><circle cx="954.1" cy="190.2" r="2.4"/><circle cx="1000.8" cy="153.4" r="2.4"/><circle cx="990" cy="154.8" r="2.4"/><circle cx="1032.2" cy="129.5" r="2.4"/><circle cx="985.9" cy="170.4" r="2.4"/><circle cx="971.9" cy="182.6" r="2.4"/><circle cx="940.1" cy="200.5" r="2.4"/><circle cx="980.4" cy="157" r="2.4"/><circle cx="992.6" cy="147.4" r="2.4"/><circle cx="1016.5" cy="138.4" r="2.4"/><circle cx="966.3" cy="183" r="2.4"/><circle cx="1014.2" cy="158" r="2.4"/><circle cx="947.2" cy="195.6" r="2.4"/></g>
<g opacity="0.15"><polyline points="867.7,267.9 873.8,262.6 879.9,257.4 886.1,252.1 892.2,246.8 898.3,241.6 904.4,236.3 910.6,231 916.7,225.7 922.8,220.5 928.9,215.2 935.1,209.9 941.2,204.6 947.3,199.3 953.4,194 959.6,188.6 965.7,183.3 971.8,177.9 977.9,172.5 984,167 990.2,161.5 996.3,156 1002.4,150.5 1008.5,144.9 1014.7,139.3 1020.8,133.8 1026.9,128.2 1033,122.6 1039.2,117 1045.3,111.4 1051.4,105.8" fill="none" stroke="#111" stroke-width="0.9" stroke-dasharray="2.4 1"/><polyline points="867.7,274.4 873.8,268.8 879.9,263.2 886.1,257.6 892.2,252 898.3,246.4 904.4,240.8 910.6,235.2 916.7,229.6 922.8,224 928.9,218.4 935.1,212.8 941.2,207.2 947.3,201.7 953.4,196.1 959.6,190.6 965.7,185 971.8,179.6 977.9,174.1 984,168.7 990.2,163.3 996.3,157.9 1002.4,152.6 1008.5,147.3 1014.7,142 1020.8,136.7 1026.9,131.4 1033,126.1 1039.2,120.9 1045.3,115.6 1051.4,110.3" fill="none" stroke="#111" stroke-width="0.9" stroke-dasharray="2.4 1"/><line x1="867.7" y1="271.2" x2="1051.4" y2="108" stroke="#111" stroke-width="1.3"/></g>
<path d="M867.7 97.4V281.7H1052" fill="none" stroke="#000" stroke-width="1.4"/>
<path d="M867.7 245h-5.8M867.7 196h-5.8M867.7 147h-5.8M867.7 98h-5.8M904.4 281.7v5.8M953.4 281.7v5.8M1002.4 281.7v5.8M1051.4 281.7v5.8" fill="none" stroke="#000" stroke-width="1.4"/>
<g font-size="11.7" fill="#000" class="s">
<text x="860.1" y="249.2" text-anchor="end">40</text>
<text x="860.1" y="200.2" text-anchor="end">60</text>
<text x="860.1" y="151.2" text-anchor="end">80</text>
<text x="860.1" y="102.2" text-anchor="end">100</text>
<text x="904.4" y="301.1" text-anchor="middle">40</text>
<text x="953.4" y="301.1" text-anchor="middle">60</text>
<text x="1002.4" y="301.1" text-anchor="middle">80</text>
<text x="1051.4" y="301.1" text-anchor="middle">100</text>
</g>
<text x="959.6" y="322.7" text-anchor="middle" font-size="16.6" fill="#000">Chronological age</text>
<text transform="translate(839.4 187.7) rotate(-90)" text-anchor="middle" font-size="16.5" fill="#000">Predicted brain age</text>
<text x="822.6" y="74.5" font-size="28" fill="#000">g</text>
<text x="1049.6" y="100.8" text-anchor="end" font-size="11.6" fill="#000" class="s">R<tspan dy="-4.4" font-size="8">2</tspan><tspan dy="4.4"> = 0.8845, β = 0.8880</tspan></text>
</g>
<g>
<line x1="1118.7" y1="200.3" x2="1302.6" y2="200.3" stroke="#e4e4e4" stroke-width="0.8"/>
<polyline points="1118.7,177.3 1124.8,178.7 1131,180.2 1137.1,181.6 1143.2,183 1149.3,184.4 1155.5,185.8 1161.6,187.3 1167.7,188.7 1173.9,190.1 1180,191.5 1186.1,192.9 1192.3,194.3 1198.4,195.6 1204.5,197 1210.7,198.3 1216.8,199.6 1222.9,200.8 1229,202 1235.2,203.1 1241.3,204.2 1247.4,205.2 1253.6,206.1 1259.7,207.1 1265.8,208 1271.9,208.9 1278.1,209.8 1284.2,210.7 1290.3,211.5 1296.5,212.4 1302.6,213.3" fill="none" stroke="#111" stroke-width="0.9" stroke-dasharray="2.4 1"/>
<polyline points="1118.7,188.2 1124.8,189.1 1131,189.9 1137.1,190.8 1143.2,191.6 1149.3,192.5 1155.5,193.4 1161.6,194.2 1167.7,195.1 1173.9,196 1180,196.9 1186.1,197.8 1192.3,198.7 1198.4,199.6 1204.5,200.5 1210.7,201.5 1216.8,202.5 1222.9,203.6 1229,204.7 1235.2,205.9 1241.3,207.1 1247.4,208.4 1253.6,209.7 1259.7,211 1265.8,212.4 1271.9,213.8 1278.1,215.2 1284.2,216.6 1290.3,218 1296.5,219.4 1302.6,220.8" fill="none" stroke="#111" stroke-width="0.9" stroke-dasharray="2.4 1"/>
<line x1="1118.7" y1="182.7" x2="1302.6" y2="217.1" stroke="#1a1a1a" stroke-width="1.3"/>
<g fill="#eca28e" fill-opacity="0.82" stroke="#5c2a1e" stroke-width="0.95"><circle cx="1193" cy="200" r="2.4"/><circle cx="1246.5" cy="206.9" r="2.4"/><circle cx="1254.4" cy="207.4" r="2.4"/><circle cx="1220.1" cy="229.5" r="2.4"/><circle cx="1163.6" cy="209.3" r="2.4"/><circle cx="1192.6" cy="210.3" r="2.4"/><circle cx="1254.4" cy="198.7" r="2.4"/><circle cx="1254.3" cy="223.4" r="2.4"/><circle cx="1258.1" cy="188.1" r="2.4"/><circle cx="1260.8" cy="200.4" r="2.4"/><circle cx="1209.1" cy="191.4" r="2.4"/><circle cx="1199.8" cy="199.6" r="2.4"/><circle cx="1197.5" cy="201.2" r="2.4"/><circle cx="1227.2" cy="219.3" r="2.4"/><circle cx="1247.6" cy="212.1" r="2.4"/><circle cx="1237.4" cy="212.6" r="2.4"/><circle cx="1195.2" cy="173.4" r="2.4"/><circle cx="1192.2" cy="196.4" r="2.4"/><circle cx="1173.6" cy="195.8" r="2.4"/><circle cx="1200" cy="195.1" r="2.4"/><circle cx="1239.1" cy="173.8" r="2.4"/><circle cx="1276.5" cy="211.3" r="2.4"/><circle cx="1231.8" cy="200.1" r="2.4"/><circle cx="1219.8" cy="223.8" r="2.4"/><circle cx="1182.9" cy="170.9" r="2.4"/><circle cx="1188.1" cy="197.1" r="2.4"/><circle cx="1223.2" cy="194" r="2.4"/><circle cx="1132.9" cy="116.2" r="2.4"/><circle cx="1222.8" cy="194.6" r="2.4"/><circle cx="1230.3" cy="195.4" r="2.4"/><circle cx="1278.3" cy="197" r="2.4"/><circle cx="1244.5" cy="179.7" r="2.4"/><circle cx="1250.8" cy="219.6" r="2.4"/><circle cx="1263.5" cy="222.3" r="2.4"/><circle cx="1217" cy="175" r="2.4"/><circle cx="1205.6" cy="190.2" r="2.4"/><circle cx="1251" cy="205.2" r="2.4"/><circle cx="1192.5" cy="194.3" r="2.4"/><circle cx="1237.8" cy="203.9" r="2.4"/><circle cx="1201.4" cy="198.1" r="2.4"/><circle cx="1230.8" cy="191.1" r="2.4"/><circle cx="1241.6" cy="213.1" r="2.4"/><circle cx="1235" cy="209" r="2.4"/><circle cx="1249.6" cy="225" r="2.4"/><circle cx="1231.3" cy="226.5" r="2.4"/><circle cx="1188.5" cy="184.3" r="2.4"/><circle cx="1271.3" cy="225.3" r="2.4"/><circle cx="1202.8" cy="239.5" r="2.4"/><circle cx="1216" cy="190.7" r="2.4"/><circle cx="1266.4" cy="200.7" r="2.4"/><circle cx="1194.7" cy="184" r="2.4"/><circle cx="1193.4" cy="180.9" r="2.4"/><circle cx="1288.1" cy="217.9" r="2.4"/><circle cx="1218" cy="215.5" r="2.4"/><circle cx="1191.2" cy="205.8" r="2.4"/><circle cx="1220.1" cy="223.4" r="2.4"/><circle cx="1187.1" cy="210.4" r="2.4"/><circle cx="1283.6" cy="216.8" r="2.4"/><circle cx="1209.7" cy="186.1" r="2.4"/><circle cx="1234.7" cy="199.7" r="2.4"/><circle cx="1252.8" cy="206.5" r="2.4"/><circle cx="1221.9" cy="193.5" r="2.4"/><circle cx="1269.4" cy="224.5" r="2.4"/><circle cx="1245.8" cy="194.6" r="2.4"/><circle cx="1212.9" cy="171.3" r="2.4"/><circle cx="1253.5" cy="206.3" r="2.4"/><circle cx="1262.6" cy="221.8" r="2.4"/><circle cx="1265.9" cy="207.8" r="2.4"/><circle cx="1246.6" cy="215" r="2.4"/><circle cx="1236.8" cy="177.7" r="2.4"/><circle cx="1258.1" cy="220.6" r="2.4"/><circle cx="1232.7" cy="185.2" r="2.4"/><circle cx="1229.1" cy="217.6" r="2.4"/><circle cx="1246.2" cy="213.3" r="2.4"/><circle cx="1261.6" cy="225.1" r="2.4"/><circle cx="1194.7" cy="203.8" r="2.4"/><circle cx="1186.2" cy="207.6" r="2.4"/><circle cx="1224.5" cy="207.1" r="2.4"/><circle cx="1276.8" cy="219.9" r="2.4"/><circle cx="1219.5" cy="201.5" r="2.4"/><circle cx="1223.2" cy="187.8" r="2.4"/><circle cx="1234.3" cy="181.4" r="2.4"/><circle cx="1227.5" cy="193.8" r="2.4"/><circle cx="1204.2" cy="211.2" r="2.4"/><circle cx="1146.7" cy="199.5" r="2.4"/><circle cx="1253.6" cy="219.9" r="2.4"/><circle cx="1192.5" cy="236.7" r="2.4"/><circle cx="1248" cy="191.7" r="2.4"/><circle cx="1195" cy="211.6" r="2.4"/><circle cx="1266.8" cy="214.4" r="2.4"/><circle cx="1231.7" cy="218.9" r="2.4"/><circle cx="1248.2" cy="188.8" r="2.4"/><circle cx="1236.4" cy="177.8" r="2.4"/><circle cx="1234.4" cy="178.7" r="2.4"/><circle cx="1262.1" cy="216.4" r="2.4"/><circle cx="1269" cy="243.6" r="2.4"/><circle cx="1193" cy="194.8" r="2.4"/><circle cx="1225" cy="224.5" r="2.4"/><circle cx="1233.8" cy="200.8" r="2.4"/><circle cx="1256.6" cy="198.3" r="2.4"/><circle cx="1279.7" cy="209.8" r="2.4"/><circle cx="1237.5" cy="223.8" r="2.4"/><circle cx="1216.2" cy="225.2" r="2.4"/><circle cx="1235.5" cy="204.9" r="2.4"/><circle cx="1232.7" cy="215.7" r="2.4"/><circle cx="1271.5" cy="212.3" r="2.4"/><circle cx="1266.7" cy="209.7" r="2.4"/><circle cx="1255.7" cy="194.8" r="2.4"/><circle cx="1205.7" cy="166.8" r="2.4"/><circle cx="1217.2" cy="211.6" r="2.4"/><circle cx="1250.2" cy="192.5" r="2.4"/><circle cx="1208.9" cy="190.5" r="2.4"/><circle cx="1186.4" cy="188.9" r="2.4"/><circle cx="1201.9" cy="203.7" r="2.4"/><circle cx="1186.1" cy="197.6" r="2.4"/><circle cx="1204.8" cy="197.1" r="2.4"/><circle cx="1255.3" cy="231.4" r="2.4"/><circle cx="1255.3" cy="197.7" r="2.4"/><circle cx="1221.8" cy="195.8" r="2.4"/><circle cx="1186.4" cy="212.3" r="2.4"/><circle cx="1186" cy="199.1" r="2.4"/><circle cx="1278.1" cy="202.6" r="2.4"/><circle cx="1265.1" cy="194.6" r="2.4"/><circle cx="1235.8" cy="209" r="2.4"/><circle cx="1209" cy="216.1" r="2.4"/><circle cx="1227.6" cy="223.5" r="2.4"/><circle cx="1270" cy="195" r="2.4"/><circle cx="1240.6" cy="194" r="2.4"/><circle cx="1195.4" cy="206.3" r="2.4"/><circle cx="1189.4" cy="190.4" r="2.4"/><circle cx="1247.8" cy="197.2" r="2.4"/><circle cx="1259.8" cy="199" r="2.4"/><circle cx="1201.7" cy="196.6" r="2.4"/><circle cx="1259.6" cy="214.6" r="2.4"/><circle cx="1260.8" cy="185.8" r="2.4"/><circle cx="1211.1" cy="207.1" r="2.4"/><circle cx="1191" cy="196.1" r="2.4"/><circle cx="1251.7" cy="214.8" r="2.4"/><circle cx="1253.8" cy="204.5" r="2.4"/><circle cx="1222.8" cy="190.9" r="2.4"/><circle cx="1263.1" cy="229.8" r="2.4"/><circle cx="1254.9" cy="212.7" r="2.4"/><circle cx="1236.5" cy="213.4" r="2.4"/><circle cx="1207" cy="196.3" r="2.4"/><circle cx="1227.7" cy="229.2" r="2.4"/><circle cx="1167.2" cy="184.4" r="2.4"/><circle cx="1263.3" cy="214" r="2.4"/><circle cx="1284" cy="230.9" r="2.4"/><circle cx="1275.4" cy="226.5" r="2.4"/><circle cx="1270.9" cy="200.8" r="2.4"/><circle cx="1251.8" cy="179.5" r="2.4"/><circle cx="1234.1" cy="197.4" r="2.4"/><circle cx="1247.8" cy="207.1" r="2.4"/><circle cx="1248.4" cy="199.3" r="2.4"/><circle cx="1200.6" cy="256.7" r="2.4"/><circle cx="1196.1" cy="180.6" r="2.4"/><circle cx="1250.3" cy="194.6" r="2.4"/><circle cx="1229.1" cy="187" r="2.4"/><circle cx="1224.6" cy="208.4" r="2.4"/><circle cx="1225.6" cy="204.1" r="2.4"/><circle cx="1283.2" cy="237.9" r="2.4"/><circle cx="1243.8" cy="201.2" r="2.4"/><circle cx="1258.9" cy="198.4" r="2.4"/><circle cx="1195.3" cy="198.4" r="2.4"/><circle cx="1263.3" cy="211.8" r="2.4"/><circle cx="1213.2" cy="201" r="2.4"/><circle cx="1274.6" cy="203.8" r="2.4"/><circle cx="1276.7" cy="214" r="2.4"/><circle cx="1251.9" cy="199.5" r="2.4"/><circle cx="1242.6" cy="191.6" r="2.4"/><circle cx="1245.5" cy="227.3" r="2.4"/><circle cx="1256" cy="215.3" r="2.4"/><circle cx="1187.2" cy="198.8" r="2.4"/><circle cx="1211" cy="207.8" r="2.4"/><circle cx="1221.6" cy="218.4" r="2.4"/><circle cx="1164.1" cy="199.5" r="2.4"/><circle cx="1260.4" cy="218.6" r="2.4"/><circle cx="1210.8" cy="198.7" r="2.4"/><circle cx="1269.1" cy="201.9" r="2.4"/><circle cx="1281.7" cy="215.3" r="2.4"/><circle cx="1273.4" cy="245.2" r="2.4"/><circle cx="1186.1" cy="175.8" r="2.4"/><circle cx="1217.4" cy="223.7" r="2.4"/><circle cx="1237.8" cy="199.4" r="2.4"/><circle cx="1263.4" cy="192.9" r="2.4"/><circle cx="1186.6" cy="222.8" r="2.4"/><circle cx="1216" cy="226.2" r="2.4"/><circle cx="1213.4" cy="223.2" r="2.4"/><circle cx="1252.3" cy="197.8" r="2.4"/><circle cx="1257.5" cy="185.9" r="2.4"/><circle cx="1253.4" cy="199.6" r="2.4"/><circle cx="1230.8" cy="209.3" r="2.4"/><circle cx="1188.9" cy="182.6" r="2.4"/><circle cx="1212.4" cy="215.1" r="2.4"/><circle cx="1203.2" cy="199.7" r="2.4"/><circle cx="1219.4" cy="231.5" r="2.4"/><circle cx="1265" cy="217.9" r="2.4"/><circle cx="1260.6" cy="191.1" r="2.4"/><circle cx="1262.3" cy="211.2" r="2.4"/><circle cx="1284" cy="206.8" r="2.4"/><circle cx="1253.4" cy="213.1" r="2.4"/><circle cx="1271.7" cy="235.8" r="2.4"/><circle cx="1257.2" cy="219.2" r="2.4"/><circle cx="1241.5" cy="222.7" r="2.4"/><circle cx="1219.8" cy="201.6" r="2.4"/><circle cx="1186.3" cy="215.7" r="2.4"/><circle cx="1229.8" cy="212.6" r="2.4"/><circle cx="1238.9" cy="216.6" r="2.4"/><circle cx="1214.3" cy="209.5" r="2.4"/><circle cx="1245.3" cy="201" r="2.4"/><circle cx="1234.1" cy="206.7" r="2.4"/><circle cx="1195.8" cy="201.5" r="2.4"/><circle cx="1233.6" cy="220.8" r="2.4"/><circle cx="1193.6" cy="199.8" r="2.4"/><circle cx="1225.7" cy="204.4" r="2.4"/><circle cx="1265.1" cy="190.8" r="2.4"/><circle cx="1246.1" cy="223.7" r="2.4"/><circle cx="1215.2" cy="195.1" r="2.4"/><circle cx="1249.4" cy="194.3" r="2.4"/><circle cx="1185.8" cy="200.5" r="2.4"/><circle cx="1177.3" cy="163.1" r="2.4"/><circle cx="1234.1" cy="212.6" r="2.4"/><circle cx="1152.8" cy="179.9" r="2.4"/><circle cx="1189.7" cy="198.9" r="2.4"/><circle cx="1202.3" cy="211" r="2.4"/><circle cx="1209.7" cy="196.7" r="2.4"/><circle cx="1216.7" cy="228.5" r="2.4"/><circle cx="1275" cy="217.2" r="2.4"/><circle cx="1226.6" cy="215.2" r="2.4"/><circle cx="1257.7" cy="221.4" r="2.4"/><circle cx="1229" cy="197.7" r="2.4"/><circle cx="1222.8" cy="214.2" r="2.4"/><circle cx="1211.7" cy="204.7" r="2.4"/><circle cx="1258.5" cy="213.9" r="2.4"/><circle cx="1204.3" cy="210.8" r="2.4"/><circle cx="1236.5" cy="193.9" r="2.4"/><circle cx="1232.1" cy="218.8" r="2.4"/><circle cx="1242.8" cy="207" r="2.4"/><circle cx="1253.7" cy="185.1" r="2.4"/><circle cx="1215.7" cy="209.2" r="2.4"/><circle cx="1249.5" cy="191.8" r="2.4"/><circle cx="1213.9" cy="212.7" r="2.4"/><circle cx="1245.4" cy="211.6" r="2.4"/><circle cx="1218.1" cy="216.9" r="2.4"/><circle cx="1259.3" cy="206" r="2.4"/><circle cx="1271.2" cy="234.2" r="2.4"/><circle cx="1233.2" cy="185.5" r="2.4"/><circle cx="1237.3" cy="199.2" r="2.4"/><circle cx="1217" cy="217.2" r="2.4"/><circle cx="1187.9" cy="213.2" r="2.4"/><circle cx="1221.8" cy="211.1" r="2.4"/><circle cx="1203.9" cy="205.4" r="2.4"/><circle cx="1223.3" cy="203.9" r="2.4"/><circle cx="1190.7" cy="201.3" r="2.4"/><circle cx="1212.2" cy="227.7" r="2.4"/><circle cx="1259.7" cy="220.2" r="2.4"/><circle cx="1272.6" cy="211.9" r="2.4"/><circle cx="1214.3" cy="201.7" r="2.4"/><circle cx="1236.3" cy="201.3" r="2.4"/><circle cx="1251.8" cy="216.7" r="2.4"/><circle cx="1245.7" cy="197.5" r="2.4"/><circle cx="1250.9" cy="233" r="2.4"/><circle cx="1262.4" cy="207.1" r="2.4"/><circle cx="1211.4" cy="183.8" r="2.4"/><circle cx="1237.8" cy="199.7" r="2.4"/><circle cx="1283" cy="237.5" r="2.4"/><circle cx="1216.9" cy="198.4" r="2.4"/><circle cx="1248.2" cy="210.1" r="2.4"/><circle cx="1251.3" cy="216.2" r="2.4"/><circle cx="1165.8" cy="209.3" r="2.4"/><circle cx="1234.5" cy="188.1" r="2.4"/><circle cx="1292.1" cy="217.9" r="2.4"/><circle cx="1242.4" cy="207.6" r="2.4"/><circle cx="1175.6" cy="175.4" r="2.4"/><circle cx="1210.2" cy="196.6" r="2.4"/><circle cx="1213.1" cy="193" r="2.4"/><circle cx="1193" cy="208.6" r="2.4"/><circle cx="1258.1" cy="204.8" r="2.4"/><circle cx="1221" cy="223.4" r="2.4"/><circle cx="1198.6" cy="198.3" r="2.4"/><circle cx="1264.8" cy="229.7" r="2.4"/><circle cx="1218.1" cy="187.2" r="2.4"/><circle cx="1252.7" cy="224.3" r="2.4"/><circle cx="1170.2" cy="203.6" r="2.4"/><circle cx="1209.4" cy="210.8" r="2.4"/><circle cx="1205.6" cy="189.8" r="2.4"/><circle cx="1223.4" cy="221.9" r="2.4"/><circle cx="1196" cy="193.6" r="2.4"/><circle cx="1223.1" cy="206.8" r="2.4"/><circle cx="1246.4" cy="207.9" r="2.4"/><circle cx="1202" cy="212.2" r="2.4"/><circle cx="1220.2" cy="188.2" r="2.4"/><circle cx="1188.6" cy="201.7" r="2.4"/><circle cx="1230.9" cy="198.8" r="2.4"/><circle cx="1216.5" cy="212.4" r="2.4"/><circle cx="1218.4" cy="203.6" r="2.4"/><circle cx="1209.2" cy="225.9" r="2.4"/><circle cx="1228.1" cy="229.7" r="2.4"/><circle cx="1216.5" cy="172.9" r="2.4"/><circle cx="1259.1" cy="207.7" r="2.4"/><circle cx="1208.2" cy="203.3" r="2.4"/><circle cx="1216" cy="215" r="2.4"/><circle cx="1235" cy="188.3" r="2.4"/><circle cx="1259.3" cy="216.2" r="2.4"/><circle cx="1163.8" cy="177" r="2.4"/><circle cx="1222.8" cy="191.4" r="2.4"/><circle cx="1185.6" cy="200.9" r="2.4"/><circle cx="1195.2" cy="195.1" r="2.4"/><circle cx="1250.1" cy="231.4" r="2.4"/><circle cx="1256.3" cy="221" r="2.4"/><circle cx="1192.3" cy="199.2" r="2.4"/><circle cx="1266.1" cy="192.9" r="2.4"/><circle cx="1175.1" cy="199.9" r="2.4"/><circle cx="1233" cy="209.2" r="2.4"/><circle cx="1215.9" cy="228.9" r="2.4"/><circle cx="1233" cy="234.8" r="2.4"/><circle cx="1202.8" cy="220.9" r="2.4"/><circle cx="1205.5" cy="198.4" r="2.4"/><circle cx="1265" cy="211.1" r="2.4"/><circle cx="1211.1" cy="163.1" r="2.4"/><circle cx="1204.5" cy="176.2" r="2.4"/><circle cx="1257.7" cy="183.6" r="2.4"/><circle cx="1240.9" cy="224.4" r="2.4"/><circle cx="1203.1" cy="204.3" r="2.4"/><circle cx="1232.5" cy="211" r="2.4"/><circle cx="1219.5" cy="204.2" r="2.4"/><circle cx="1217.1" cy="208.3" r="2.4"/><circle cx="1240.4" cy="201.7" r="2.4"/><circle cx="1191.2" cy="188" r="2.4"/><circle cx="1227.4" cy="197.8" r="2.4"/><circle cx="1218.4" cy="219.8" r="2.4"/><circle cx="1234.6" cy="207.9" r="2.4"/><circle cx="1213.1" cy="203.3" r="2.4"/><circle cx="1231.5" cy="194.2" r="2.4"/><circle cx="1233.9" cy="186.9" r="2.4"/><circle cx="1212.9" cy="224.4" r="2.4"/><circle cx="1235.3" cy="200.2" r="2.4"/><circle cx="1265.3" cy="186.4" r="2.4"/><circle cx="1216.3" cy="228.3" r="2.4"/><circle cx="1268.4" cy="197.4" r="2.4"/><circle cx="1226" cy="189.3" r="2.4"/><circle cx="1238.4" cy="205.9" r="2.4"/><circle cx="1218.6" cy="203.3" r="2.4"/><circle cx="1212.7" cy="202.5" r="2.4"/><circle cx="1209.3" cy="196.7" r="2.4"/><circle cx="1208.7" cy="190.5" r="2.4"/><circle cx="1204.3" cy="213.4" r="2.4"/><circle cx="1201.7" cy="181.2" r="2.4"/><circle cx="1208.2" cy="205.9" r="2.4"/><circle cx="1209.6" cy="199.4" r="2.4"/><circle cx="1263.1" cy="204.2" r="2.4"/><circle cx="1210.3" cy="200" r="2.4"/><circle cx="1252.6" cy="225.1" r="2.4"/><circle cx="1226.8" cy="186.9" r="2.4"/><circle cx="1214.6" cy="230.1" r="2.4"/><circle cx="1188.1" cy="202.5" r="2.4"/><circle cx="1253.7" cy="220.5" r="2.4"/><circle cx="1279.4" cy="212.6" r="2.4"/><circle cx="1248.3" cy="191.6" r="2.4"/><circle cx="1249.4" cy="204.1" r="2.4"/><circle cx="1220.1" cy="222.4" r="2.4"/><circle cx="1238.3" cy="212.8" r="2.4"/><circle cx="1225.9" cy="201.3" r="2.4"/><circle cx="1226.4" cy="211.1" r="2.4"/><circle cx="1187.6" cy="212.6" r="2.4"/><circle cx="1247.8" cy="184.5" r="2.4"/><circle cx="1222.7" cy="230.5" r="2.4"/><circle cx="1242.6" cy="198.3" r="2.4"/><circle cx="1260.1" cy="206.8" r="2.4"/><circle cx="1227.6" cy="207" r="2.4"/><circle cx="1255.9" cy="201" r="2.4"/><circle cx="1261.9" cy="220.4" r="2.4"/><circle cx="1147.4" cy="173.8" r="2.4"/><circle cx="1242.5" cy="172.1" r="2.4"/><circle cx="1249.3" cy="219.4" r="2.4"/><circle cx="1260.2" cy="216.4" r="2.4"/><circle cx="1241.9" cy="192.5" r="2.4"/><circle cx="1238.6" cy="249.5" r="2.4"/><circle cx="1189.7" cy="194" r="2.4"/><circle cx="1245.5" cy="219.5" r="2.4"/><circle cx="1232.9" cy="198.1" r="2.4"/><circle cx="1196.4" cy="234.6" r="2.4"/><circle cx="1219.1" cy="206.8" r="2.4"/><circle cx="1217" cy="206.3" r="2.4"/><circle cx="1250.6" cy="194.6" r="2.4"/><circle cx="1219.7" cy="218.9" r="2.4"/><circle cx="1235.1" cy="217.9" r="2.4"/><circle cx="1194" cy="215" r="2.4"/><circle cx="1257" cy="211.7" r="2.4"/><circle cx="1202.6" cy="201.1" r="2.4"/><circle cx="1216.6" cy="210.2" r="2.4"/><circle cx="1215.1" cy="206.5" r="2.4"/><circle cx="1194.3" cy="199.3" r="2.4"/><circle cx="1205.2" cy="191.9" r="2.4"/><circle cx="1251.9" cy="208.3" r="2.4"/><circle cx="1241.2" cy="192.7" r="2.4"/><circle cx="1283.4" cy="220.7" r="2.4"/><circle cx="1237" cy="211.8" r="2.4"/><circle cx="1223" cy="208.8" r="2.4"/><circle cx="1191.2" cy="185.7" r="2.4"/><circle cx="1231.5" cy="180.4" r="2.4"/><circle cx="1243.7" cy="184.6" r="2.4"/><circle cx="1267.7" cy="209.5" r="2.4"/><circle cx="1217.4" cy="200.1" r="2.4"/><circle cx="1265.3" cy="238.3" r="2.4"/><circle cx="1198.3" cy="189.3" r="2.4"/></g>
<g opacity="0.15"><polyline points="1118.7,177.3 1124.8,178.7 1131,180.2 1137.1,181.6 1143.2,183 1149.3,184.4 1155.5,185.8 1161.6,187.3 1167.7,188.7 1173.9,190.1 1180,191.5 1186.1,192.9 1192.3,194.3 1198.4,195.6 1204.5,197 1210.7,198.3 1216.8,199.6 1222.9,200.8 1229,202 1235.2,203.1 1241.3,204.2 1247.4,205.2 1253.6,206.1 1259.7,207.1 1265.8,208 1271.9,208.9 1278.1,209.8 1284.2,210.7 1290.3,211.5 1296.5,212.4 1302.6,213.3" fill="none" stroke="#111" stroke-width="0.9" stroke-dasharray="2.4 1"/><polyline points="1118.7,188.2 1124.8,189.1 1131,189.9 1137.1,190.8 1143.2,191.6 1149.3,192.5 1155.5,193.4 1161.6,194.2 1167.7,195.1 1173.9,196 1180,196.9 1186.1,197.8 1192.3,198.7 1198.4,199.6 1204.5,200.5 1210.7,201.5 1216.8,202.5 1222.9,203.6 1229,204.7 1235.2,205.9 1241.3,207.1 1247.4,208.4 1253.6,209.7 1259.7,211 1265.8,212.4 1271.9,213.8 1278.1,215.2 1284.2,216.6 1290.3,218 1296.5,219.4 1302.6,220.8" fill="none" stroke="#111" stroke-width="0.9" stroke-dasharray="2.4 1"/><line x1="1118.7" y1="182.7" x2="1302.6" y2="217.1" stroke="#111" stroke-width="1.3"/></g>
<path d="M1118.7 97.6V282H1303.2" fill="none" stroke="#000" stroke-width="1.4"/>
<path d="M1118.7 282h-5.8M1118.7 241.2h-5.8M1118.7 200.3h-5.8M1118.7 159.5h-5.8M1118.7 118.6h-5.8M1155.5 282v5.8M1204.5 282v5.8M1253.6 282v5.8M1302.6 282v5.8" fill="none" stroke="#000" stroke-width="1.4"/>
<g font-size="11.7" fill="#000" class="s">
<text x="1111.1" y="286.2" text-anchor="end">-20</text>
<text x="1111.1" y="245.4" text-anchor="end">-10</text>
<text x="1111.1" y="204.5" text-anchor="end">0</text>
<text x="1111.1" y="163.7" text-anchor="end">10</text>
<text x="1111.1" y="122.8" text-anchor="end">20</text>
<text x="1155.5" y="301.4" text-anchor="middle">40</text>
<text x="1204.5" y="301.4" text-anchor="middle">60</text>
<text x="1253.6" y="301.4" text-anchor="middle">80</text>
<text x="1302.6" y="301.4" text-anchor="middle">100</text>
</g>
<text x="1210.7" y="323" text-anchor="middle" font-size="16.6" fill="#000">Chronological age</text>
<text transform="translate(1090.4 189.5) rotate(-90)" text-anchor="middle" font-size="14.7" fill="#000">Brain age gap (uncorrected)</text>
<text x="1072.4" y="74.5" font-size="28" fill="#000">h</text>
<text x="1299" y="94.2" text-anchor="end" font-size="11.6" fill="#000" class="s">MAE = 2.7738</text>
<text x="1299" y="108.9" text-anchor="end" font-size="11.6" fill="#000" class="s">Spearman r = -0.2743</text>
</g>
<g>
<line x1="1368.7" y1="200.1" x2="1552.6" y2="200.1" stroke="#e4e4e4" stroke-width="0.8"/>
<polyline points="1368.7,194.7 1374.8,195 1381,195.3 1387.1,195.6 1393.2,195.9 1399.3,196.3 1405.5,196.6 1411.6,196.9 1417.7,197.2 1423.9,197.5 1430,197.8 1436.1,198.1 1442.3,198.4 1448.4,198.6 1454.5,198.9 1460.7,199.1 1466.8,199.3 1472.9,199.4 1479,199.5 1485.2,199.5 1491.3,199.4 1497.4,199.3 1503.6,199.2 1509.7,199 1515.8,198.9 1521.9,198.7 1528.1,198.5 1534.2,198.2 1540.3,198 1546.5,197.8 1552.6,197.6" fill="none" stroke="#111" stroke-width="0.9" stroke-dasharray="2.4 1"/>
<polyline points="1368.7,205.5 1374.8,205.3 1381,205.1 1387.1,204.8 1393.2,204.6 1399.3,204.3 1405.5,204.1 1411.6,203.9 1417.7,203.6 1423.9,203.4 1430,203.2 1436.1,203 1442.3,202.8 1448.4,202.6 1454.5,202.5 1460.7,202.3 1466.8,202.2 1472.9,202.2 1479,202.2 1485.2,202.3 1491.3,202.4 1497.4,202.6 1503.6,202.8 1509.7,203 1515.8,203.3 1521.9,203.6 1528.1,203.9 1534.2,204.2 1540.3,204.5 1546.5,204.8 1552.6,205.1" fill="none" stroke="#111" stroke-width="0.9" stroke-dasharray="2.4 1"/>
<line x1="1368.7" y1="200.1" x2="1552.6" y2="201.3" stroke="#1a1a1a" stroke-width="1.3"/>
<g fill="#eca28e" fill-opacity="0.82" stroke="#5c2a1e" stroke-width="0.95"><circle cx="1443" cy="203.7" r="2.4"/><circle cx="1496.5" cy="200.7" r="2.4"/><circle cx="1504.4" cy="199.8" r="2.4"/><circle cx="1470.1" cy="228.2" r="2.4"/><circle cx="1413.6" cy="218.5" r="2.4"/><circle cx="1442.6" cy="214.2" r="2.4"/><circle cx="1504.4" cy="191" r="2.4"/><circle cx="1504.3" cy="215.7" r="2.4"/><circle cx="1508.1" cy="179.7" r="2.4"/><circle cx="1510.8" cy="191.5" r="2.4"/><circle cx="1459.1" cy="192.2" r="2.4"/><circle cx="1449.8" cy="202.2" r="2.4"/><circle cx="1447.5" cy="204.1" r="2.4"/><circle cx="1477.2" cy="216.7" r="2.4"/><circle cx="1497.6" cy="205.7" r="2.4"/><circle cx="1487.4" cy="208.1" r="2.4"/><circle cx="1445.2" cy="176.7" r="2.4"/><circle cx="1442.2" cy="200.3" r="2.4"/><circle cx="1423.6" cy="203.2" r="2.4"/><circle cx="1450" cy="197.5" r="2.4"/><circle cx="1489.1" cy="169" r="2.4"/><circle cx="1526.5" cy="199.5" r="2.4"/><circle cx="1481.8" cy="196.6" r="2.4"/><circle cx="1469.8" cy="222.6" r="2.4"/><circle cx="1432.9" cy="176.6" r="2.4"/><circle cx="1438.1" cy="201.8" r="2.4"/><circle cx="1473.2" cy="192.1" r="2.4"/><circle cx="1382.9" cy="131.2" r="2.4"/><circle cx="1472.8" cy="192.8" r="2.4"/><circle cx="1480.3" cy="192.2" r="2.4"/><circle cx="1528.3" cy="184.9" r="2.4"/><circle cx="1494.5" cy="173.9" r="2.4"/><circle cx="1500.8" cy="212.5" r="2.4"/><circle cx="1513.5" cy="212.9" r="2.4"/><circle cx="1467" cy="174.3" r="2.4"/><circle cx="1455.6" cy="191.7" r="2.4"/><circle cx="1501" cy="198.1" r="2.4"/><circle cx="1442.5" cy="198.2" r="2.4"/><circle cx="1487.8" cy="199.3" r="2.4"/><circle cx="1451.4" cy="200.3" r="2.4"/><circle cx="1480.8" cy="187.9" r="2.4"/><circle cx="1491.6" cy="207.8" r="2.4"/><circle cx="1485" cy="204.9" r="2.4"/><circle cx="1499.6" cy="218.2" r="2.4"/><circle cx="1481.3" cy="223.1" r="2.4"/><circle cx="1438.5" cy="188.9" r="2.4"/><circle cx="1521.3" cy="214.5" r="2.4"/><circle cx="1452.8" cy="241.4" r="2.4"/><circle cx="1466" cy="190.2" r="2.4"/><circle cx="1516.4" cy="190.8" r="2.4"/><circle cx="1444.7" cy="187.5" r="2.4"/><circle cx="1443.4" cy="184.6" r="2.4"/><circle cx="1538.1" cy="203.9" r="2.4"/><circle cx="1468" cy="214.6" r="2.4"/><circle cx="1441.2" cy="209.9" r="2.4"/><circle cx="1470.1" cy="222.1" r="2.4"/><circle cx="1437.1" cy="215.3" r="2.4"/><circle cx="1533.6" cy="203.6" r="2.4"/><circle cx="1459.7" cy="186.7" r="2.4"/><circle cx="1484.7" cy="195.7" r="2.4"/><circle cx="1502.8" cy="199.1" r="2.4"/><circle cx="1471.9" cy="191.9" r="2.4"/><circle cx="1519.4" cy="214" r="2.4"/><circle cx="1495.8" cy="188.5" r="2.4"/><circle cx="1462.9" cy="171.4" r="2.4"/><circle cx="1503.5" cy="198.8" r="2.4"/><circle cx="1512.6" cy="212.5" r="2.4"/><circle cx="1515.9" cy="198" r="2.4"/><circle cx="1496.6" cy="208.8" r="2.4"/><circle cx="1486.8" cy="173.3" r="2.4"/><circle cx="1508.1" cy="212.2" r="2.4"/><circle cx="1482.7" cy="181.6" r="2.4"/><circle cx="1479.1" cy="214.6" r="2.4"/><circle cx="1496.2" cy="207.1" r="2.4"/><circle cx="1511.6" cy="216" r="2.4"/><circle cx="1444.7" cy="207.2" r="2.4"/><circle cx="1436.2" cy="212.6" r="2.4"/><circle cx="1474.5" cy="205" r="2.4"/><circle cx="1526.8" cy="208.1" r="2.4"/><circle cx="1469.5" cy="200.4" r="2.4"/><circle cx="1473.2" cy="185.9" r="2.4"/><circle cx="1484.3" cy="177.5" r="2.4"/><circle cx="1477.5" cy="191.1" r="2.4"/><circle cx="1454.2" cy="212.9" r="2.4"/><circle cx="1396.7" cy="211.9" r="2.4"/><circle cx="1503.6" cy="212.3" r="2.4"/><circle cx="1442.5" cy="240.5" r="2.4"/><circle cx="1498" cy="185.2" r="2.4"/><circle cx="1445" cy="214.9" r="2.4"/><circle cx="1516.8" cy="204.4" r="2.4"/><circle cx="1481.7" cy="215.4" r="2.4"/><circle cx="1498.2" cy="182.3" r="2.4"/><circle cx="1486.4" cy="173.5" r="2.4"/><circle cx="1484.4" cy="174.7" r="2.4"/><circle cx="1512.1" cy="207.3" r="2.4"/><circle cx="1519" cy="233.2" r="2.4"/><circle cx="1443" cy="198.6" r="2.4"/><circle cx="1475" cy="222.3" r="2.4"/><circle cx="1483.8" cy="196.9" r="2.4"/><circle cx="1506.6" cy="190.2" r="2.4"/><circle cx="1529.7" cy="197.4" r="2.4"/><circle cx="1487.5" cy="219.2" r="2.4"/><circle cx="1466.2" cy="224.6" r="2.4"/><circle cx="1485.5" cy="200.8" r="2.4"/><circle cx="1482.7" cy="212.1" r="2.4"/><circle cx="1521.5" cy="201.4" r="2.4"/><circle cx="1516.7" cy="199.8" r="2.4"/><circle cx="1505.7" cy="186.9" r="2.4"/><circle cx="1455.7" cy="168.2" r="2.4"/><circle cx="1467.2" cy="210.8" r="2.4"/><circle cx="1500.2" cy="185.6" r="2.4"/><circle cx="1458.9" cy="191.4" r="2.4"/><circle cx="1436.4" cy="193.9" r="2.4"/><circle cx="1451.9" cy="205.8" r="2.4"/><circle cx="1436.1" cy="202.6" r="2.4"/><circle cx="1454.8" cy="198.7" r="2.4"/><circle cx="1505.3" cy="223.5" r="2.4"/><circle cx="1505.3" cy="189.8" r="2.4"/><circle cx="1471.8" cy="194.2" r="2.4"/><circle cx="1436.4" cy="217.3" r="2.4"/><circle cx="1436" cy="204.2" r="2.4"/><circle cx="1528.1" cy="190.5" r="2.4"/><circle cx="1515.1" cy="184.9" r="2.4"/><circle cx="1485.8" cy="204.8" r="2.4"/><circle cx="1459" cy="216.8" r="2.4"/><circle cx="1477.6" cy="220.8" r="2.4"/><circle cx="1520" cy="184.4" r="2.4"/><circle cx="1490.6" cy="188.9" r="2.4"/><circle cx="1445.4" cy="209.6" r="2.4"/><circle cx="1439.4" cy="194.8" r="2.4"/><circle cx="1497.8" cy="190.7" r="2.4"/><circle cx="1509.8" cy="190.3" r="2.4"/><circle cx="1451.7" cy="198.7" r="2.4"/><circle cx="1509.6" cy="205.9" r="2.4"/><circle cx="1510.8" cy="177" r="2.4"/><circle cx="1461.1" cy="207.5" r="2.4"/><circle cx="1441" cy="200.2" r="2.4"/><circle cx="1501.7" cy="207.6" r="2.4"/><circle cx="1503.8" cy="196.9" r="2.4"/><circle cx="1472.8" cy="189.1" r="2.4"/><circle cx="1513.1" cy="220.5" r="2.4"/><circle cx="1504.9" cy="204.9" r="2.4"/><circle cx="1486.5" cy="209" r="2.4"/><circle cx="1457" cy="197.4" r="2.4"/><circle cx="1477.7" cy="226.5" r="2.4"/><circle cx="1417.2" cy="193" r="2.4"/><circle cx="1513.3" cy="204.7" r="2.4"/><circle cx="1534" cy="217.7" r="2.4"/><circle cx="1525.4" cy="214.8" r="2.4"/><circle cx="1520.9" cy="190.1" r="2.4"/><circle cx="1501.8" cy="172.3" r="2.4"/><circle cx="1484.1" cy="193.6" r="2.4"/><circle cx="1497.8" cy="200.7" r="2.4"/><circle cx="1498.4" cy="192.7" r="2.4"/><circle cx="1450.6" cy="259" r="2.4"/><circle cx="1446.1" cy="183.8" r="2.4"/><circle cx="1500.3" cy="187.7" r="2.4"/><circle cx="1479.1" cy="184.1" r="2.4"/><circle cx="1474.6" cy="206.3" r="2.4"/><circle cx="1475.6" cy="201.7" r="2.4"/><circle cx="1533.2" cy="224.8" r="2.4"/><circle cx="1493.8" cy="195.5" r="2.4"/><circle cx="1508.9" cy="189.9" r="2.4"/><circle cx="1445.3" cy="201.7" r="2.4"/><circle cx="1513.3" cy="202.4" r="2.4"/><circle cx="1463.2" cy="201" r="2.4"/><circle cx="1524.6" cy="192.3" r="2.4"/><circle cx="1526.7" cy="202.1" r="2.4"/><circle cx="1501.9" cy="192.3" r="2.4"/><circle cx="1492.6" cy="186.2" r="2.4"/><circle cx="1495.5" cy="221.3" r="2.4"/><circle cx="1506" cy="207.3" r="2.4"/><circle cx="1437.2" cy="203.6" r="2.4"/><circle cx="1461" cy="208.2" r="2.4"/><circle cx="1471.6" cy="216.8" r="2.4"/><circle cx="1414.1" cy="208.7" r="2.4"/><circle cx="1510.4" cy="209.8" r="2.4"/><circle cx="1460.8" cy="199.2" r="2.4"/><circle cx="1519.1" cy="191.5" r="2.4"/><circle cx="1531.7" cy="202.5" r="2.4"/><circle cx="1523.4" cy="234" r="2.4"/><circle cx="1436.1" cy="180.9" r="2.4"/><circle cx="1467.4" cy="222.9" r="2.4"/><circle cx="1487.8" cy="194.8" r="2.4"/><circle cx="1513.4" cy="183.6" r="2.4"/><circle cx="1436.6" cy="227.7" r="2.4"/><circle cx="1466" cy="225.6" r="2.4"/><circle cx="1463.4" cy="223.2" r="2.4"/><circle cx="1502.3" cy="190.5" r="2.4"/><circle cx="1507.5" cy="177.6" r="2.4"/><circle cx="1503.4" cy="192.1" r="2.4"/><circle cx="1480.8" cy="206" r="2.4"/><circle cx="1438.9" cy="187.2" r="2.4"/><circle cx="1462.4" cy="215.2" r="2.4"/><circle cx="1453.2" cy="201.6" r="2.4"/><circle cx="1469.4" cy="230.3" r="2.4"/><circle cx="1515" cy="208.3" r="2.4"/><circle cx="1510.6" cy="182.3" r="2.4"/><circle cx="1512.3" cy="202" r="2.4"/><circle cx="1534" cy="193.7" r="2.4"/><circle cx="1503.4" cy="205.6" r="2.4"/><circle cx="1521.7" cy="224.9" r="2.4"/><circle cx="1507.2" cy="210.9" r="2.4"/><circle cx="1491.5" cy="217.4" r="2.4"/><circle cx="1469.8" cy="200.4" r="2.4"/><circle cx="1436.3" cy="220.7" r="2.4"/><circle cx="1479.8" cy="209.5" r="2.4"/><circle cx="1488.9" cy="211.8" r="2.4"/><circle cx="1464.3" cy="209.2" r="2.4"/><circle cx="1495.3" cy="195" r="2.4"/><circle cx="1484.1" cy="202.8" r="2.4"/><circle cx="1445.8" cy="204.7" r="2.4"/><circle cx="1483.6" cy="216.9" r="2.4"/><circle cx="1443.6" cy="203.5" r="2.4"/><circle cx="1475.7" cy="202.1" r="2.4"/><circle cx="1515.1" cy="181.1" r="2.4"/><circle cx="1496.1" cy="217.5" r="2.4"/><circle cx="1465.2" cy="194.7" r="2.4"/><circle cx="1499.4" cy="187.6" r="2.4"/><circle cx="1435.8" cy="205.6" r="2.4"/><circle cx="1427.3" cy="169.9" r="2.4"/><circle cx="1484.1" cy="208.7" r="2.4"/><circle cx="1402.8" cy="191.2" r="2.4"/><circle cx="1439.7" cy="203.2" r="2.4"/><circle cx="1452.3" cy="213" r="2.4"/><circle cx="1459.7" cy="197.3" r="2.4"/><circle cx="1466.7" cy="227.8" r="2.4"/><circle cx="1525" cy="205.7" r="2.4"/><circle cx="1476.6" cy="212.6" r="2.4"/><circle cx="1507.7" cy="213" r="2.4"/><circle cx="1479" cy="194.7" r="2.4"/><circle cx="1472.8" cy="212.4" r="2.4"/><circle cx="1461.7" cy="205" r="2.4"/><circle cx="1508.5" cy="205.5" r="2.4"/><circle cx="1454.3" cy="212.5" r="2.4"/><circle cx="1486.5" cy="189.6" r="2.4"/><circle cx="1482.1" cy="215.3" r="2.4"/><circle cx="1492.8" cy="201.4" r="2.4"/><circle cx="1503.7" cy="177.5" r="2.4"/><circle cx="1465.7" cy="208.7" r="2.4"/><circle cx="1499.5" cy="185" r="2.4"/><circle cx="1463.9" cy="212.6" r="2.4"/><circle cx="1495.4" cy="205.6" r="2.4"/><circle cx="1468.1" cy="216" r="2.4"/><circle cx="1509.3" cy="197.4" r="2.4"/><circle cx="1521.2" cy="223.4" r="2.4"/><circle cx="1483.2" cy="181.8" r="2.4"/><circle cx="1487.3" cy="194.7" r="2.4"/><circle cx="1467" cy="216.5" r="2.4"/><circle cx="1437.9" cy="217.8" r="2.4"/><circle cx="1471.8" cy="209.5" r="2.4"/><circle cx="1453.9" cy="207.1" r="2.4"/><circle cx="1473.3" cy="202" r="2.4"/><circle cx="1440.7" cy="205.5" r="2.4"/><circle cx="1462.2" cy="227.8" r="2.4"/><circle cx="1509.7" cy="211.5" r="2.4"/><circle cx="1522.6" cy="200.8" r="2.4"/><circle cx="1464.3" cy="201.5" r="2.4"/><circle cx="1486.3" cy="197" r="2.4"/><circle cx="1501.8" cy="209.5" r="2.4"/><circle cx="1495.7" cy="191.4" r="2.4"/><circle cx="1500.9" cy="225.9" r="2.4"/><circle cx="1512.4" cy="198" r="2.4"/><circle cx="1461.4" cy="184.2" r="2.4"/><circle cx="1487.8" cy="195.1" r="2.4"/><circle cx="1533" cy="224.4" r="2.4"/><circle cx="1466.9" cy="197.7" r="2.4"/><circle cx="1498.2" cy="203.5" r="2.4"/><circle cx="1501.3" cy="209.1" r="2.4"/><circle cx="1415.8" cy="218.1" r="2.4"/><circle cx="1484.5" cy="184.1" r="2.4"/><circle cx="1542.1" cy="203.2" r="2.4"/><circle cx="1492.4" cy="202.2" r="2.4"/><circle cx="1425.6" cy="182.4" r="2.4"/><circle cx="1460.2" cy="197.2" r="2.4"/><circle cx="1463.1" cy="193" r="2.4"/><circle cx="1443" cy="212.4" r="2.4"/><circle cx="1508.1" cy="196.4" r="2.4"/><circle cx="1471" cy="221.9" r="2.4"/><circle cx="1448.6" cy="201" r="2.4"/><circle cx="1514.8" cy="220.1" r="2.4"/><circle cx="1468.1" cy="186.3" r="2.4"/><circle cx="1502.7" cy="216.9" r="2.4"/><circle cx="1420.2" cy="211.6" r="2.4"/><circle cx="1459.4" cy="211.5" r="2.4"/><circle cx="1455.6" cy="191.2" r="2.4"/><circle cx="1473.4" cy="220" r="2.4"/><circle cx="1446" cy="196.8" r="2.4"/><circle cx="1473.1" cy="205" r="2.4"/><circle cx="1496.4" cy="201.7" r="2.4"/><circle cx="1452" cy="214.3" r="2.4"/><circle cx="1470.2" cy="186.9" r="2.4"/><circle cx="1438.6" cy="206.3" r="2.4"/><circle cx="1480.9" cy="195.5" r="2.4"/><circle cx="1466.5" cy="211.8" r="2.4"/><circle cx="1468.4" cy="202.6" r="2.4"/><circle cx="1459.2" cy="226.6" r="2.4"/><circle cx="1478.1" cy="226.9" r="2.4"/><circle cx="1466.5" cy="172.4" r="2.4"/><circle cx="1509.1" cy="199.2" r="2.4"/><circle cx="1458.2" cy="204.2" r="2.4"/><circle cx="1466" cy="214.4" r="2.4"/><circle cx="1485" cy="184.3" r="2.4"/><circle cx="1509.3" cy="207.6" r="2.4"/><circle cx="1413.8" cy="186.3" r="2.4"/><circle cx="1472.8" cy="189.6" r="2.4"/><circle cx="1435.6" cy="206.1" r="2.4"/><circle cx="1445.2" cy="198.5" r="2.4"/><circle cx="1500.1" cy="224.4" r="2.4"/><circle cx="1506.3" cy="213" r="2.4"/><circle cx="1442.3" cy="203.1" r="2.4"/><circle cx="1516.1" cy="183.1" r="2.4"/><circle cx="1425.1" cy="207" r="2.4"/><circle cx="1483" cy="205.5" r="2.4"/><circle cx="1465.9" cy="228.4" r="2.4"/><circle cx="1483" cy="231.1" r="2.4"/><circle cx="1452.8" cy="222.8" r="2.4"/><circle cx="1455.5" cy="199.9" r="2.4"/><circle cx="1515" cy="201.4" r="2.4"/><circle cx="1461.1" cy="163.6" r="2.4"/><circle cx="1454.5" cy="177.9" r="2.4"/><circle cx="1507.7" cy="175.3" r="2.4"/><circle cx="1490.9" cy="219.3" r="2.4"/><circle cx="1453.1" cy="206.2" r="2.4"/><circle cx="1482.5" cy="207.3" r="2.4"/><circle cx="1469.5" cy="203" r="2.4"/><circle cx="1467.1" cy="207.5" r="2.4"/><circle cx="1490.4" cy="196.6" r="2.4"/><circle cx="1441.2" cy="192.2" r="2.4"/><circle cx="1477.4" cy="195.2" r="2.4"/><circle cx="1468.4" cy="218.8" r="2.4"/><circle cx="1484.6" cy="203.9" r="2.4"/><circle cx="1463.1" cy="203.3" r="2.4"/><circle cx="1481.5" cy="190.8" r="2.4"/><circle cx="1483.9" cy="183" r="2.4"/><circle cx="1462.9" cy="224.4" r="2.4"/><circle cx="1485.3" cy="196.1" r="2.4"/><circle cx="1515.3" cy="176.7" r="2.4"/><circle cx="1466.3" cy="227.7" r="2.4"/><circle cx="1518.4" cy="187.1" r="2.4"/><circle cx="1476" cy="186.9" r="2.4"/><circle cx="1488.4" cy="201.2" r="2.4"/><circle cx="1468.6" cy="202.3" r="2.4"/><circle cx="1462.7" cy="202.6" r="2.4"/><circle cx="1459.3" cy="197.4" r="2.4"/><circle cx="1458.7" cy="191.3" r="2.4"/><circle cx="1454.3" cy="215" r="2.4"/><circle cx="1451.7" cy="183.3" r="2.4"/><circle cx="1458.2" cy="206.8" r="2.4"/><circle cx="1459.6" cy="200.1" r="2.4"/><circle cx="1513.1" cy="194.9" r="2.4"/><circle cx="1460.3" cy="200.5" r="2.4"/><circle cx="1502.6" cy="217.7" r="2.4"/><circle cx="1476.8" cy="184.3" r="2.4"/><circle cx="1464.6" cy="229.8" r="2.4"/><circle cx="1438.1" cy="207.1" r="2.4"/><circle cx="1503.7" cy="212.9" r="2.4"/><circle cx="1529.4" cy="200.3" r="2.4"/><circle cx="1498.3" cy="185.1" r="2.4"/><circle cx="1499.4" cy="197.4" r="2.4"/><circle cx="1470.1" cy="221.1" r="2.4"/><circle cx="1488.3" cy="208.1" r="2.4"/><circle cx="1475.9" cy="198.9" r="2.4"/><circle cx="1476.4" cy="208.6" r="2.4"/><circle cx="1437.6" cy="217.3" r="2.4"/><circle cx="1497.8" cy="178" r="2.4"/><circle cx="1472.7" cy="228.7" r="2.4"/><circle cx="1492.6" cy="192.8" r="2.4"/><circle cx="1510.1" cy="198" r="2.4"/><circle cx="1477.6" cy="204.3" r="2.4"/><circle cx="1505.9" cy="193" r="2.4"/><circle cx="1511.9" cy="211.3" r="2.4"/><circle cx="1397.4" cy="186.1" r="2.4"/><circle cx="1492.5" cy="166.7" r="2.4"/><circle cx="1499.3" cy="212.6" r="2.4"/><circle cx="1510.2" cy="207.6" r="2.4"/><circle cx="1491.9" cy="187.1" r="2.4"/><circle cx="1488.6" cy="244.7" r="2.4"/><circle cx="1439.7" cy="198.4" r="2.4"/><circle cx="1495.5" cy="213.4" r="2.4"/><circle cx="1482.9" cy="194.4" r="2.4"/><circle cx="1446.4" cy="237.7" r="2.4"/><circle cx="1469.1" cy="205.7" r="2.4"/><circle cx="1467" cy="205.5" r="2.4"/><circle cx="1500.6" cy="187.6" r="2.4"/><circle cx="1469.7" cy="217.6" r="2.4"/><circle cx="1485.1" cy="213.8" r="2.4"/><circle cx="1444" cy="218.6" r="2.4"/><circle cx="1507" cy="203.5" r="2.4"/><circle cx="1452.6" cy="203.1" r="2.4"/><circle cx="1466.6" cy="209.5" r="2.4"/><circle cx="1465.1" cy="206.1" r="2.4"/><circle cx="1444.3" cy="202.8" r="2.4"/><circle cx="1455.2" cy="193.4" r="2.4"/><circle cx="1501.9" cy="201" r="2.4"/><circle cx="1491.2" cy="187.5" r="2.4"/><circle cx="1533.4" cy="207.6" r="2.4"/><circle cx="1487" cy="207.4" r="2.4"/><circle cx="1473" cy="207" r="2.4"/><circle cx="1441.2" cy="189.8" r="2.4"/><circle cx="1481.5" cy="177" r="2.4"/><circle cx="1493.7" cy="179" r="2.4"/><circle cx="1517.7" cy="199.3" r="2.4"/><circle cx="1467.4" cy="199.4" r="2.4"/><circle cx="1515.3" cy="228.5" r="2.4"/><circle cx="1448.3" cy="192.1" r="2.4"/></g>
<g opacity="0.15"><polyline points="1368.7,194.7 1374.8,195 1381,195.3 1387.1,195.6 1393.2,195.9 1399.3,196.3 1405.5,196.6 1411.6,196.9 1417.7,197.2 1423.9,197.5 1430,197.8 1436.1,198.1 1442.3,198.4 1448.4,198.6 1454.5,198.9 1460.7,199.1 1466.8,199.3 1472.9,199.4 1479,199.5 1485.2,199.5 1491.3,199.4 1497.4,199.3 1503.6,199.2 1509.7,199 1515.8,198.9 1521.9,198.7 1528.1,198.5 1534.2,198.2 1540.3,198 1546.5,197.8 1552.6,197.6" fill="none" stroke="#111" stroke-width="0.9" stroke-dasharray="2.4 1"/><polyline points="1368.7,205.5 1374.8,205.3 1381,205.1 1387.1,204.8 1393.2,204.6 1399.3,204.3 1405.5,204.1 1411.6,203.9 1417.7,203.6 1423.9,203.4 1430,203.2 1436.1,203 1442.3,202.8 1448.4,202.6 1454.5,202.5 1460.7,202.3 1466.8,202.2 1472.9,202.2 1479,202.2 1485.2,202.3 1491.3,202.4 1497.4,202.6 1503.6,202.8 1509.7,203 1515.8,203.3 1521.9,203.6 1528.1,203.9 1534.2,204.2 1540.3,204.5 1546.5,204.8 1552.6,205.1" fill="none" stroke="#111" stroke-width="0.9" stroke-dasharray="2.4 1"/><line x1="1368.7" y1="200.1" x2="1552.6" y2="201.3" stroke="#111" stroke-width="1.3"/></g>
<path d="M1368.7 97.5V281.7H1553.2" fill="none" stroke="#000" stroke-width="1.4"/>
<path d="M1368.7 281.7h-5.8M1368.7 240.9h-5.8M1368.7 200.1h-5.8M1368.7 159.3h-5.8M1368.7 118.5h-5.8M1405.5 281.7v5.8M1454.5 281.7v5.8M1503.6 281.7v5.8M1552.6 281.7v5.8" fill="none" stroke="#000" stroke-width="1.4"/>
<g font-size="11.7" fill="#000" class="s">
<text x="1361.1" y="285.9" text-anchor="end">-20</text>
<text x="1361.1" y="245.1" text-anchor="end">-10</text>
<text x="1361.1" y="204.3" text-anchor="end">0</text>
<text x="1361.1" y="163.5" text-anchor="end">10</text>
<text x="1361.1" y="122.7" text-anchor="end">20</text>
<text x="1405.5" y="301.1" text-anchor="middle">40</text>
<text x="1454.5" y="301.1" text-anchor="middle">60</text>
<text x="1503.6" y="301.1" text-anchor="middle">80</text>
<text x="1552.6" y="301.1" text-anchor="middle">100</text>
</g>
<text x="1460.7" y="322.7" text-anchor="middle" font-size="16.6" fill="#000">Chronological age</text>
<text transform="translate(1340.4 189.1) rotate(-90)" text-anchor="middle" font-size="14.8" fill="#000">Brain age gap (corrected)</text>
<text x="1321.9" y="74.5" font-size="28" fill="#000">i</text>
<text x="1548.6" y="94.2" text-anchor="end" font-size="11.6" fill="#000" class="s">MAE = 2.7035</text>
<text x="1548.6" y="108.9" text-anchor="end" font-size="11.6" fill="#000" class="s">Spearman r = 0.0597</text>
</g>
<g>
<polyline points="98.5,530.8 104.6,526.9 110.8,523 116.9,519.1 123,515.2 129.1,511.3 135.3,507.4 141.4,503.5 147.5,499.6 153.6,495.6 159.8,491.7 165.9,487.7 172,483.6 178.1,479.5 184.3,475.3 190.4,471 196.5,466.6 202.7,462.1 208.8,457.6 214.9,453 221,448.4 227.2,443.7 233.3,439.1 239.4,434.4 245.5,429.7 251.7,425.1 257.8,420.4 263.9,415.7 270,411 276.2,406.3 282.3,401.6" fill="none" stroke="#111" stroke-width="0.9" stroke-dasharray="2.4 1"/>
<polyline points="98.5,543.5 104.6,538.8 110.8,534.1 116.9,529.4 123,524.7 129.1,520 135.3,515.3 141.4,510.7 147.5,506 153.6,501.4 159.8,496.8 165.9,492.2 172,487.7 178.1,483.2 184.3,478.8 190.4,474.5 196.5,470.4 202.7,466.3 208.8,462.2 214.9,458.2 221,454.3 227.2,450.3 233.3,446.4 239.4,442.5 245.5,438.6 251.7,434.7 257.8,430.8 263.9,426.9 270,423 276.2,419.1 282.3,415.2" fill="none" stroke="#111" stroke-width="0.9" stroke-dasharray="2.4 1"/>
<line x1="98.5" y1="537.1" x2="282.3" y2="408.4" stroke="#1a1a1a" stroke-width="1.3"/>
<g fill="#2e9579" fill-opacity="0.62" stroke="#0c4034" stroke-width="0.95"><circle cx="183.8" cy="484.5" r="2.4"/><circle cx="186.2" cy="474" r="2.4"/><circle cx="172" cy="474.3" r="2.4"/><circle cx="187.9" cy="492" r="2.4"/><circle cx="202.5" cy="443.8" r="2.4"/><circle cx="175.5" cy="493.6" r="2.4"/><circle cx="232.4" cy="457.5" r="2.4"/><circle cx="183.1" cy="465.7" r="2.4"/><circle cx="152.4" cy="497.4" r="2.4"/><circle cx="225.8" cy="430.1" r="2.4"/><circle cx="203.3" cy="456.9" r="2.4"/><circle cx="158.1" cy="536.4" r="2.4"/><circle cx="197.5" cy="449" r="2.4"/><circle cx="162.1" cy="523.7" r="2.4"/><circle cx="214.2" cy="452.9" r="2.4"/><circle cx="193.8" cy="463.6" r="2.4"/><circle cx="183.2" cy="486" r="2.4"/><circle cx="200.3" cy="464.5" r="2.4"/><circle cx="120.6" cy="543.4" r="2.4"/><circle cx="173.9" cy="521.3" r="2.4"/><circle cx="154.9" cy="521.4" r="2.4"/><circle cx="187.3" cy="468.4" r="2.4"/><circle cx="192" cy="501.8" r="2.4"/><circle cx="158.9" cy="480.9" r="2.4"/><circle cx="232.1" cy="442.3" r="2.4"/><circle cx="165.8" cy="494.9" r="2.4"/><circle cx="215.6" cy="453.7" r="2.4"/><circle cx="183.1" cy="501.3" r="2.4"/><circle cx="181.3" cy="471.3" r="2.4"/><circle cx="175.9" cy="498.9" r="2.4"/><circle cx="191.3" cy="455.3" r="2.4"/><circle cx="199" cy="480.1" r="2.4"/><circle cx="214.5" cy="438.5" r="2.4"/><circle cx="210" cy="452.9" r="2.4"/><circle cx="230" cy="449.4" r="2.4"/><circle cx="233.8" cy="467.3" r="2.4"/><circle cx="183.5" cy="480.9" r="2.4"/><circle cx="171" cy="505.6" r="2.4"/><circle cx="203.3" cy="463.5" r="2.4"/><circle cx="212.8" cy="449.6" r="2.4"/><circle cx="156" cy="508.5" r="2.4"/><circle cx="193.4" cy="457.7" r="2.4"/><circle cx="185.8" cy="493" r="2.4"/><circle cx="182.6" cy="486.3" r="2.4"/><circle cx="224.2" cy="475.7" r="2.4"/><circle cx="183.1" cy="491.5" r="2.4"/><circle cx="207.9" cy="455.4" r="2.4"/><circle cx="195.3" cy="452.9" r="2.4"/><circle cx="169.1" cy="466.3" r="2.4"/><circle cx="195.2" cy="468.5" r="2.4"/><circle cx="221.1" cy="443.5" r="2.4"/><circle cx="204.1" cy="461" r="2.4"/><circle cx="184.8" cy="485.2" r="2.4"/><circle cx="175.2" cy="498.3" r="2.4"/><circle cx="198.9" cy="437.8" r="2.4"/><circle cx="205.5" cy="438.6" r="2.4"/><circle cx="174.5" cy="469.7" r="2.4"/><circle cx="215.8" cy="468.7" r="2.4"/><circle cx="189.3" cy="490.7" r="2.4"/><circle cx="227.1" cy="438.3" r="2.4"/><circle cx="180.8" cy="482.1" r="2.4"/><circle cx="180.4" cy="470.6" r="2.4"/><circle cx="162.8" cy="488.6" r="2.4"/><circle cx="189.5" cy="455.4" r="2.4"/><circle cx="175.5" cy="457.6" r="2.4"/><circle cx="160.4" cy="512.1" r="2.4"/><circle cx="180.7" cy="491.2" r="2.4"/><circle cx="162.9" cy="486.1" r="2.4"/><circle cx="163.5" cy="491.2" r="2.4"/><circle cx="196" cy="479.9" r="2.4"/><circle cx="230.1" cy="456" r="2.4"/><circle cx="214.9" cy="451" r="2.4"/><circle cx="177.1" cy="501.6" r="2.4"/><circle cx="212.8" cy="444.6" r="2.4"/><circle cx="191.9" cy="440.1" r="2.4"/><circle cx="204.8" cy="468.3" r="2.4"/><circle cx="169.1" cy="479.7" r="2.4"/><circle cx="166.5" cy="514.8" r="2.4"/><circle cx="187.1" cy="456.1" r="2.4"/><circle cx="170.6" cy="465.4" r="2.4"/><circle cx="209.3" cy="453.7" r="2.4"/><circle cx="231.3" cy="453.2" r="2.4"/><circle cx="200.1" cy="462.9" r="2.4"/><circle cx="172.5" cy="475.2" r="2.4"/><circle cx="171.7" cy="478.3" r="2.4"/><circle cx="164" cy="471.3" r="2.4"/><circle cx="223.7" cy="442" r="2.4"/><circle cx="189.3" cy="496.7" r="2.4"/><circle cx="199.1" cy="464.2" r="2.4"/><circle cx="193" cy="407.3" r="2.4"/><circle cx="162.3" cy="489.9" r="2.4"/><circle cx="134.5" cy="526.1" r="2.4"/><circle cx="241.9" cy="428.1" r="2.4"/><circle cx="184.1" cy="509.2" r="2.4"/><circle cx="152" cy="499.3" r="2.4"/><circle cx="214.7" cy="480.1" r="2.4"/><circle cx="167.5" cy="498.4" r="2.4"/><circle cx="216.4" cy="463.9" r="2.4"/><circle cx="226.1" cy="464.2" r="2.4"/><circle cx="194.9" cy="477" r="2.4"/><circle cx="186.2" cy="494.9" r="2.4"/><circle cx="193.7" cy="480.1" r="2.4"/><circle cx="196" cy="461.2" r="2.4"/><circle cx="155.2" cy="482.2" r="2.4"/><circle cx="169.4" cy="474.2" r="2.4"/><circle cx="182.8" cy="489.5" r="2.4"/><circle cx="200.2" cy="478.4" r="2.4"/><circle cx="189.3" cy="467.4" r="2.4"/><circle cx="224.6" cy="451.2" r="2.4"/><circle cx="181.4" cy="489.1" r="2.4"/><circle cx="185.4" cy="490.8" r="2.4"/><circle cx="212.2" cy="439.4" r="2.4"/><circle cx="158.1" cy="546.3" r="2.4"/><circle cx="157.4" cy="512.3" r="2.4"/><circle cx="155.5" cy="469.8" r="2.4"/><circle cx="213.8" cy="457.7" r="2.4"/><circle cx="174.1" cy="473" r="2.4"/><circle cx="158.3" cy="512.9" r="2.4"/><circle cx="199.3" cy="467.3" r="2.4"/><circle cx="172.4" cy="459.9" r="2.4"/><circle cx="189" cy="481.5" r="2.4"/><circle cx="245.2" cy="461.7" r="2.4"/><circle cx="213.7" cy="441.9" r="2.4"/><circle cx="158" cy="489.3" r="2.4"/><circle cx="162.3" cy="488.7" r="2.4"/><circle cx="146.3" cy="482.7" r="2.4"/><circle cx="161.1" cy="477.5" r="2.4"/><circle cx="221.1" cy="453.2" r="2.4"/><circle cx="165.8" cy="496" r="2.4"/><circle cx="173.4" cy="502" r="2.4"/><circle cx="206" cy="461.3" r="2.4"/><circle cx="177.6" cy="496.8" r="2.4"/><circle cx="181.3" cy="465.3" r="2.4"/><circle cx="183.2" cy="469.5" r="2.4"/><circle cx="173.3" cy="497.1" r="2.4"/><circle cx="163" cy="507" r="2.4"/><circle cx="162.7" cy="476.2" r="2.4"/><circle cx="155.6" cy="501.1" r="2.4"/><circle cx="185.1" cy="461.9" r="2.4"/><circle cx="217.6" cy="457.8" r="2.4"/><circle cx="179.7" cy="445.2" r="2.4"/><circle cx="194.4" cy="491.1" r="2.4"/><circle cx="169.4" cy="529.8" r="2.4"/><circle cx="152" cy="502.9" r="2.4"/><circle cx="154.9" cy="492.2" r="2.4"/><circle cx="249.2" cy="422.7" r="2.4"/><circle cx="164.7" cy="499.9" r="2.4"/><circle cx="216.8" cy="444.1" r="2.4"/><circle cx="213.1" cy="462.2" r="2.4"/><circle cx="194.9" cy="493.9" r="2.4"/><circle cx="205.1" cy="442.2" r="2.4"/><circle cx="162.7" cy="507.3" r="2.4"/><circle cx="192.9" cy="480" r="2.4"/><circle cx="172.1" cy="509.6" r="2.4"/><circle cx="167.2" cy="497.3" r="2.4"/><circle cx="190.6" cy="462.9" r="2.4"/><circle cx="208.7" cy="478.4" r="2.4"/><circle cx="174.7" cy="510.7" r="2.4"/><circle cx="225.8" cy="455" r="2.4"/><circle cx="178.5" cy="487.6" r="2.4"/><circle cx="217.7" cy="432.9" r="2.4"/><circle cx="194.2" cy="461.8" r="2.4"/><circle cx="154" cy="503.5" r="2.4"/><circle cx="230.8" cy="461.4" r="2.4"/><circle cx="163.7" cy="492.1" r="2.4"/><circle cx="221" cy="455" r="2.4"/><circle cx="165.5" cy="510" r="2.4"/><circle cx="171.2" cy="507.4" r="2.4"/><circle cx="207.5" cy="456.6" r="2.4"/><circle cx="159.9" cy="498.9" r="2.4"/><circle cx="175.2" cy="494.9" r="2.4"/><circle cx="179" cy="483.3" r="2.4"/><circle cx="211.9" cy="445.5" r="2.4"/><circle cx="230.8" cy="439.7" r="2.4"/><circle cx="128.6" cy="516.5" r="2.4"/><circle cx="155.3" cy="508.1" r="2.4"/><circle cx="162.2" cy="518.1" r="2.4"/><circle cx="178.4" cy="499.4" r="2.4"/><circle cx="196.6" cy="473.8" r="2.4"/><circle cx="232.9" cy="448.8" r="2.4"/><circle cx="168.4" cy="496.6" r="2.4"/><circle cx="152.7" cy="497.5" r="2.4"/><circle cx="199.8" cy="476.6" r="2.4"/><circle cx="197.9" cy="496.1" r="2.4"/><circle cx="223.5" cy="435.3" r="2.4"/><circle cx="152.9" cy="495.5" r="2.4"/><circle cx="154.6" cy="487.3" r="2.4"/><circle cx="161.2" cy="511" r="2.4"/><circle cx="189.6" cy="456" r="2.4"/><circle cx="177.8" cy="507.3" r="2.4"/><circle cx="164.5" cy="514.4" r="2.4"/><circle cx="175.2" cy="477.9" r="2.4"/><circle cx="152" cy="514.8" r="2.4"/><circle cx="202.3" cy="437" r="2.4"/><circle cx="203.3" cy="472.2" r="2.4"/><circle cx="180.3" cy="484.4" r="2.4"/><circle cx="185.2" cy="496.1" r="2.4"/><circle cx="183.7" cy="475.8" r="2.4"/><circle cx="196.7" cy="462.9" r="2.4"/><circle cx="207.9" cy="461" r="2.4"/><circle cx="198.4" cy="482.4" r="2.4"/><circle cx="158.4" cy="491.1" r="2.4"/><circle cx="168" cy="468.1" r="2.4"/><circle cx="156.4" cy="491.8" r="2.4"/><circle cx="214.6" cy="450.6" r="2.4"/><circle cx="212" cy="438.8" r="2.4"/><circle cx="158.5" cy="496.1" r="2.4"/><circle cx="165.8" cy="452.5" r="2.4"/><circle cx="197.4" cy="469.2" r="2.4"/><circle cx="210.7" cy="470.7" r="2.4"/><circle cx="174.6" cy="469.6" r="2.4"/><circle cx="193.5" cy="486.7" r="2.4"/><circle cx="154" cy="477.9" r="2.4"/><circle cx="218.3" cy="436.2" r="2.4"/><circle cx="189.2" cy="468.5" r="2.4"/><circle cx="194.6" cy="454.7" r="2.4"/><circle cx="182.7" cy="509.2" r="2.4"/><circle cx="158.6" cy="490.8" r="2.4"/><circle cx="231.3" cy="440.4" r="2.4"/><circle cx="181.8" cy="454.9" r="2.4"/><circle cx="210" cy="462.4" r="2.4"/><circle cx="152.4" cy="492.3" r="2.4"/><circle cx="187.7" cy="464.8" r="2.4"/><circle cx="184.4" cy="466.7" r="2.4"/><circle cx="142.2" cy="533.5" r="2.4"/><circle cx="141.1" cy="528.7" r="2.4"/><circle cx="182.3" cy="469.5" r="2.4"/><circle cx="154.7" cy="522.8" r="2.4"/><circle cx="191.6" cy="458.8" r="2.4"/><circle cx="195" cy="450.6" r="2.4"/><circle cx="183.8" cy="481.3" r="2.4"/><circle cx="192.6" cy="464" r="2.4"/><circle cx="164.4" cy="486.9" r="2.4"/><circle cx="178.7" cy="462.7" r="2.4"/><circle cx="168.9" cy="498.5" r="2.4"/><circle cx="154" cy="526.8" r="2.4"/><circle cx="167.7" cy="489.5" r="2.4"/><circle cx="213" cy="446.1" r="2.4"/><circle cx="170.8" cy="481.8" r="2.4"/><circle cx="178.2" cy="479.8" r="2.4"/><circle cx="172.8" cy="495.1" r="2.4"/><circle cx="165.5" cy="505.7" r="2.4"/><circle cx="229.4" cy="437.6" r="2.4"/><circle cx="176.3" cy="493.6" r="2.4"/><circle cx="170.7" cy="511.2" r="2.4"/><circle cx="159.9" cy="477" r="2.4"/><circle cx="211.8" cy="474.6" r="2.4"/><circle cx="216.5" cy="478.3" r="2.4"/><circle cx="225.7" cy="484.2" r="2.4"/><circle cx="179.6" cy="473.5" r="2.4"/><circle cx="228.6" cy="445.2" r="2.4"/><circle cx="179" cy="470.8" r="2.4"/><circle cx="173.1" cy="468.3" r="2.4"/><circle cx="176" cy="453.3" r="2.4"/><circle cx="182.3" cy="520.6" r="2.4"/><circle cx="179.3" cy="479.8" r="2.4"/><circle cx="230.5" cy="425.3" r="2.4"/><circle cx="176.1" cy="504.4" r="2.4"/><circle cx="153.7" cy="494.7" r="2.4"/><circle cx="180.7" cy="475.8" r="2.4"/><circle cx="159.4" cy="505.1" r="2.4"/><circle cx="177.4" cy="502.6" r="2.4"/><circle cx="163.3" cy="471.2" r="2.4"/><circle cx="176.4" cy="461.5" r="2.4"/><circle cx="246.3" cy="445.2" r="2.4"/><circle cx="153.3" cy="501.6" r="2.4"/><circle cx="169.5" cy="496.5" r="2.4"/><circle cx="160.1" cy="500.3" r="2.4"/><circle cx="195.7" cy="478.9" r="2.4"/><circle cx="171" cy="500.1" r="2.4"/><circle cx="171.5" cy="478.7" r="2.4"/><circle cx="175.3" cy="491.2" r="2.4"/><circle cx="210" cy="459.2" r="2.4"/><circle cx="185.6" cy="411.7" r="2.4"/><circle cx="184.7" cy="484.8" r="2.4"/><circle cx="193.3" cy="499.6" r="2.4"/><circle cx="159.8" cy="505.6" r="2.4"/><circle cx="179" cy="477.8" r="2.4"/><circle cx="228" cy="425.4" r="2.4"/><circle cx="194.4" cy="463" r="2.4"/><circle cx="172.9" cy="495.8" r="2.4"/><circle cx="212.8" cy="461.7" r="2.4"/><circle cx="184.5" cy="441.9" r="2.4"/><circle cx="165" cy="462.8" r="2.4"/><circle cx="152.1" cy="492.1" r="2.4"/><circle cx="157.3" cy="508" r="2.4"/><circle cx="223.5" cy="419.1" r="2.4"/><circle cx="191.3" cy="469.3" r="2.4"/><circle cx="212.4" cy="463.4" r="2.4"/><circle cx="158.9" cy="478.4" r="2.4"/><circle cx="176.1" cy="489.6" r="2.4"/><circle cx="173.2" cy="496.8" r="2.4"/><circle cx="173.9" cy="510.6" r="2.4"/><circle cx="152.3" cy="510.2" r="2.4"/><circle cx="170.8" cy="499.3" r="2.4"/><circle cx="217.4" cy="457.9" r="2.4"/><circle cx="193.5" cy="485" r="2.4"/><circle cx="162.4" cy="482.1" r="2.4"/><circle cx="178.7" cy="486.8" r="2.4"/><circle cx="182.2" cy="483.5" r="2.4"/><circle cx="150.7" cy="472.6" r="2.4"/><circle cx="168" cy="501.4" r="2.4"/><circle cx="170.2" cy="498.2" r="2.4"/><circle cx="161.2" cy="472.3" r="2.4"/><circle cx="161.7" cy="479.6" r="2.4"/><circle cx="157.6" cy="493.3" r="2.4"/><circle cx="170.4" cy="481.4" r="2.4"/><circle cx="152.6" cy="519" r="2.4"/><circle cx="182.4" cy="473.8" r="2.4"/><circle cx="164.2" cy="498.1" r="2.4"/><circle cx="157.1" cy="477.6" r="2.4"/><circle cx="169.6" cy="470.2" r="2.4"/><circle cx="233.3" cy="438.2" r="2.4"/><circle cx="219.7" cy="448.4" r="2.4"/><circle cx="195.3" cy="475.5" r="2.4"/><circle cx="180.6" cy="476.9" r="2.4"/><circle cx="191.3" cy="468" r="2.4"/><circle cx="189.8" cy="467.2" r="2.4"/><circle cx="169.5" cy="515.5" r="2.4"/><circle cx="159.7" cy="499.2" r="2.4"/><circle cx="243.7" cy="445.9" r="2.4"/><circle cx="225.9" cy="448.5" r="2.4"/><circle cx="197" cy="489.8" r="2.4"/><circle cx="161.7" cy="499.9" r="2.4"/><circle cx="177.5" cy="497.1" r="2.4"/><circle cx="235" cy="436" r="2.4"/><circle cx="180.5" cy="497.9" r="2.4"/><circle cx="175.3" cy="511.2" r="2.4"/><circle cx="177.2" cy="482.8" r="2.4"/><circle cx="202.4" cy="447.4" r="2.4"/><circle cx="178.1" cy="498.7" r="2.4"/><circle cx="159.1" cy="490.5" r="2.4"/><circle cx="171.5" cy="471.8" r="2.4"/><circle cx="206.2" cy="492.6" r="2.4"/><circle cx="182.8" cy="479.4" r="2.4"/><circle cx="178.1" cy="486.4" r="2.4"/><circle cx="188.3" cy="475.3" r="2.4"/><circle cx="174.4" cy="469.7" r="2.4"/><circle cx="198" cy="473.3" r="2.4"/><circle cx="216.2" cy="447.6" r="2.4"/><circle cx="205.7" cy="469.9" r="2.4"/><circle cx="157.9" cy="489.2" r="2.4"/><circle cx="168.3" cy="505.6" r="2.4"/><circle cx="176.4" cy="493" r="2.4"/><circle cx="206.4" cy="486" r="2.4"/><circle cx="191.6" cy="468.5" r="2.4"/><circle cx="159.5" cy="496.1" r="2.4"/><circle cx="143.7" cy="489" r="2.4"/><circle cx="235" cy="438.5" r="2.4"/><circle cx="198.3" cy="491.6" r="2.4"/><circle cx="190.6" cy="447" r="2.4"/><circle cx="188.9" cy="475.1" r="2.4"/><circle cx="214.1" cy="449.7" r="2.4"/><circle cx="199.2" cy="459.8" r="2.4"/><circle cx="202.2" cy="432.7" r="2.4"/><circle cx="163.6" cy="501.6" r="2.4"/><circle cx="179.2" cy="477.6" r="2.4"/><circle cx="166.5" cy="484.7" r="2.4"/><circle cx="180.5" cy="495.2" r="2.4"/><circle cx="160.6" cy="533.8" r="2.4"/><circle cx="208.7" cy="457.7" r="2.4"/><circle cx="177" cy="485" r="2.4"/><circle cx="162.8" cy="495.3" r="2.4"/><circle cx="166.9" cy="494.6" r="2.4"/><circle cx="159.5" cy="514" r="2.4"/><circle cx="144.4" cy="518" r="2.4"/><circle cx="155" cy="491.2" r="2.4"/><circle cx="178.9" cy="466" r="2.4"/><circle cx="231.4" cy="437" r="2.4"/><circle cx="172.8" cy="492.1" r="2.4"/><circle cx="200.3" cy="481.4" r="2.4"/><circle cx="225.2" cy="455.4" r="2.4"/><circle cx="176.7" cy="473.6" r="2.4"/><circle cx="168.2" cy="486.8" r="2.4"/><circle cx="206.3" cy="484.1" r="2.4"/><circle cx="235.2" cy="451.7" r="2.4"/><circle cx="163.9" cy="450.3" r="2.4"/><circle cx="177.4" cy="459.5" r="2.4"/><circle cx="172.8" cy="511.1" r="2.4"/><circle cx="172.9" cy="471.7" r="2.4"/><circle cx="215.6" cy="452" r="2.4"/><circle cx="209.9" cy="431.6" r="2.4"/><circle cx="225.5" cy="453" r="2.4"/><circle cx="196.9" cy="460" r="2.4"/><circle cx="157.3" cy="517.4" r="2.4"/><circle cx="166.2" cy="504.8" r="2.4"/><circle cx="189.6" cy="462.7" r="2.4"/><circle cx="164.1" cy="494.2" r="2.4"/><circle cx="225" cy="465.4" r="2.4"/><circle cx="192.8" cy="444.8" r="2.4"/><circle cx="201.3" cy="470.1" r="2.4"/><circle cx="134.9" cy="536.6" r="2.4"/><circle cx="172.4" cy="501.4" r="2.4"/><circle cx="147" cy="512.9" r="2.4"/><circle cx="171.3" cy="431.9" r="2.4"/><circle cx="180.9" cy="496.4" r="2.4"/><circle cx="173.2" cy="476.3" r="2.4"/><circle cx="223" cy="434.4" r="2.4"/><circle cx="165.7" cy="505.4" r="2.4"/><circle cx="160.6" cy="501.1" r="2.4"/><circle cx="170.9" cy="464.5" r="2.4"/><circle cx="160.6" cy="465.4" r="2.4"/><circle cx="176.2" cy="508" r="2.4"/><circle cx="220.5" cy="494.1" r="2.4"/><circle cx="174.6" cy="485.7" r="2.4"/><circle cx="168.6" cy="479.2" r="2.4"/><circle cx="134.9" cy="506.6" r="2.4"/><circle cx="207.8" cy="467.2" r="2.4"/><circle cx="234.9" cy="430.6" r="2.4"/><circle cx="162.2" cy="485.3" r="2.4"/><circle cx="174.6" cy="506.2" r="2.4"/><circle cx="266.5" cy="441.1" r="2.4"/><circle cx="210.1" cy="450.8" r="2.4"/><circle cx="202.3" cy="469.3" r="2.4"/><circle cx="223.5" cy="459.8" r="2.4"/><circle cx="179.4" cy="486.9" r="2.4"/><circle cx="196.8" cy="464.5" r="2.4"/><circle cx="185.8" cy="491" r="2.4"/><circle cx="178.6" cy="513.6" r="2.4"/><circle cx="230.5" cy="421.3" r="2.4"/><circle cx="177.8" cy="501" r="2.4"/><circle cx="192.2" cy="467.2" r="2.4"/><circle cx="188.1" cy="455.6" r="2.4"/><circle cx="220.7" cy="456.5" r="2.4"/><circle cx="184.4" cy="506.9" r="2.4"/><circle cx="187.4" cy="471.4" r="2.4"/><circle cx="194.8" cy="437.1" r="2.4"/><circle cx="213.5" cy="445.5" r="2.4"/><circle cx="188.5" cy="487.5" r="2.4"/><circle cx="197.8" cy="505.1" r="2.4"/><circle cx="175.1" cy="493.3" r="2.4"/><circle cx="155.1" cy="516.9" r="2.4"/><circle cx="182.7" cy="447" r="2.4"/><circle cx="177.9" cy="437.5" r="2.4"/><circle cx="202.2" cy="439.4" r="2.4"/><circle cx="170.3" cy="513.3" r="2.4"/><circle cx="169.5" cy="490.9" r="2.4"/><circle cx="191.6" cy="480.8" r="2.4"/><circle cx="211.1" cy="463.5" r="2.4"/><circle cx="212.9" cy="462.4" r="2.4"/><circle cx="180.4" cy="509" r="2.4"/><circle cx="221.4" cy="458.6" r="2.4"/><circle cx="157.2" cy="495.5" r="2.4"/><circle cx="188.9" cy="491.1" r="2.4"/><circle cx="205.5" cy="486.4" r="2.4"/><circle cx="155.5" cy="462.1" r="2.4"/><circle cx="162.6" cy="491.3" r="2.4"/><circle cx="167.5" cy="473.3" r="2.4"/><circle cx="151.4" cy="512.1" r="2.4"/><circle cx="148.1" cy="528.7" r="2.4"/><circle cx="228.3" cy="438" r="2.4"/><circle cx="159" cy="500.3" r="2.4"/><circle cx="188.2" cy="429.7" r="2.4"/><circle cx="206.6" cy="426.4" r="2.4"/><circle cx="194.3" cy="459.1" r="2.4"/><circle cx="246.3" cy="408.4" r="2.4"/><circle cx="169.2" cy="464.9" r="2.4"/><circle cx="177.3" cy="480.9" r="2.4"/><circle cx="194.8" cy="412.8" r="2.4"/><circle cx="214.2" cy="446.9" r="2.4"/><circle cx="187.1" cy="445.9" r="2.4"/><circle cx="189.4" cy="444.2" r="2.4"/><circle cx="208.5" cy="479" r="2.4"/><circle cx="172" cy="495.1" r="2.4"/><circle cx="121.3" cy="520.6" r="2.4"/><circle cx="173.9" cy="503.7" r="2.4"/><circle cx="168.2" cy="490.8" r="2.4"/><circle cx="185.5" cy="497.3" r="2.4"/><circle cx="191.1" cy="444.3" r="2.4"/><circle cx="201.3" cy="457.7" r="2.4"/><circle cx="218.1" cy="432" r="2.4"/><circle cx="169.4" cy="488.8" r="2.4"/><circle cx="168.5" cy="488.3" r="2.4"/><circle cx="195.4" cy="460.2" r="2.4"/><circle cx="169.9" cy="470.7" r="2.4"/><circle cx="215.4" cy="465.3" r="2.4"/><circle cx="185.8" cy="462" r="2.4"/><circle cx="175.8" cy="520.1" r="2.4"/><circle cx="161.7" cy="508.2" r="2.4"/><circle cx="212.5" cy="467.8" r="2.4"/><circle cx="175" cy="484.9" r="2.4"/><circle cx="203.7" cy="456.2" r="2.4"/><circle cx="189.2" cy="480.5" r="2.4"/></g>
<g opacity="0.06"><polyline points="98.5,530.8 104.6,526.9 110.8,523 116.9,519.1 123,515.2 129.1,511.3 135.3,507.4 141.4,503.5 147.5,499.6 153.6,495.6 159.8,491.7 165.9,487.7 172,483.6 178.1,479.5 184.3,475.3 190.4,471 196.5,466.6 202.7,462.1 208.8,457.6 214.9,453 221,448.4 227.2,443.7 233.3,439.1 239.4,434.4 245.5,429.7 251.7,425.1 257.8,420.4 263.9,415.7 270,411 276.2,406.3 282.3,401.6" fill="none" stroke="#111" stroke-width="0.9" stroke-dasharray="2.4 1"/><polyline points="98.5,543.5 104.6,538.8 110.8,534.1 116.9,529.4 123,524.7 129.1,520 135.3,515.3 141.4,510.7 147.5,506 153.6,501.4 159.8,496.8 165.9,492.2 172,487.7 178.1,483.2 184.3,478.8 190.4,474.5 196.5,470.4 202.7,466.3 208.8,462.2 214.9,458.2 221,454.3 227.2,450.3 233.3,446.4 239.4,442.5 245.5,438.6 251.7,434.7 257.8,430.8 263.9,426.9 270,423 276.2,419.1 282.3,415.2" fill="none" stroke="#111" stroke-width="0.9" stroke-dasharray="2.4 1"/><line x1="98.5" y1="537.1" x2="282.3" y2="408.4" stroke="#111" stroke-width="1.3"/></g>
<path d="M98.5 373.6V558.1H282.9" fill="none" stroke="#000" stroke-width="1.4"/>
<path d="M98.5 558.1h-5.8M98.5 521.3h-5.8M98.5 484.5h-5.8M98.5 447.8h-5.8M98.5 411h-5.8M98.5 374.2h-5.8M98.5 558.1v5.8M135.3 558.1v5.8M172 558.1v5.8M208.8 558.1v5.8M245.5 558.1v5.8M282.3 558.1v5.8" fill="none" stroke="#000" stroke-width="1.4"/>
<g font-size="11.7" fill="#000" class="s">
<text x="90.9" y="562.3" text-anchor="end">50</text>
<text x="90.9" y="525.5" text-anchor="end">60</text>
<text x="90.9" y="488.7" text-anchor="end">70</text>
<text x="90.9" y="452" text-anchor="end">80</text>
<text x="90.9" y="415.2" text-anchor="end">90</text>
<text x="90.9" y="378.4" text-anchor="end">100</text>
<text x="98.5" y="577.5" text-anchor="middle">50</text>
<text x="135.3" y="577.5" text-anchor="middle">60</text>
<text x="172" y="577.5" text-anchor="middle">70</text>
<text x="208.8" y="577.5" text-anchor="middle">80</text>
<text x="245.5" y="577.5" text-anchor="middle">90</text>
<text x="282.3" y="577.5" text-anchor="middle">100</text>
</g>
<text x="190.4" y="599.1" text-anchor="middle" font-size="16.6" fill="#000">Chronological age</text>
<text transform="translate(71.1 464.5) rotate(-90)" text-anchor="middle" font-size="16.5" fill="#000">Predicted brain age</text>
<text x="52.4" y="350.6" font-size="28" fill="#000">d</text>
<text x="278.1" y="377.2" text-anchor="end" font-size="11.6" fill="#000" class="s">R<tspan dy="-4.4" font-size="8">2</tspan><tspan dy="4.4"> = 0.4879, β =0.6996</tspan></text>
</g>
<g>
<line x1="349.2" y1="464.9" x2="533.1" y2="464.9" stroke="#e4e4e4" stroke-width="0.8"/>
<polyline points="349.2,430.6 355.3,433.4 361.5,436.3 367.6,439.1 373.7,441.9 379.9,444.7 386,447.5 392.1,450.2 398.2,453 404.4,455.7 410.5,458.5 416.6,461.1 422.8,463.7 428.9,466.3 435,468.7 441.1,471 447.3,473.2 453.4,475.2 459.5,477.2 465.7,479.2 471.8,481.1 477.9,482.9 484.1,484.8 490.2,486.6 496.3,488.5 502.5,490.3 508.6,492.1 514.7,493.9 520.8,495.7 527,497.5 533.1,499.3" fill="none" stroke="#111" stroke-width="0.9" stroke-dasharray="2.4 1"/>
<polyline points="349.2,446.5 355.3,448.3 361.5,450.1 367.6,451.9 373.7,453.7 379.9,455.6 386,457.4 392.1,459.2 398.2,461.1 404.4,463 410.5,464.9 416.6,466.8 422.8,468.8 428.9,470.9 435,473.1 441.1,475.4 447.3,477.9 453.4,480.4 459.5,483.1 465.7,485.7 471.8,488.5 477.9,491.2 484.1,494 490.2,496.8 496.3,499.5 502.5,502.3 508.6,505.2 514.7,508 520.8,510.8 527,513.6 533.1,516.4" fill="none" stroke="#111" stroke-width="0.9" stroke-dasharray="2.4 1"/>
<line x1="349.2" y1="438.6" x2="533.1" y2="507.9" stroke="#1a1a1a" stroke-width="1.3"/>
<g fill="#2e9579" fill-opacity="0.62" stroke="#0c4034" stroke-width="0.95"><circle cx="434.6" cy="479.7" r="2.4"/><circle cx="437" cy="469.5" r="2.4"/><circle cx="422.7" cy="452" r="2.4"/><circle cx="438.7" cy="494.3" r="2.4"/><circle cx="453.2" cy="452.1" r="2.4"/><circle cx="426.3" cy="480.7" r="2.4"/><circle cx="483.1" cy="506.8" r="2.4"/><circle cx="433.8" cy="455.1" r="2.4"/><circle cx="403.1" cy="456.3" r="2.4"/><circle cx="476.6" cy="464.1" r="2.4"/><circle cx="454.1" cy="469.5" r="2.4"/><circle cx="408.8" cy="512.5" r="2.4"/><circle cx="448.3" cy="452.3" r="2.4"/><circle cx="412.8" cy="501.6" r="2.4"/><circle cx="465" cy="478.2" r="2.4"/><circle cx="444.5" cy="466" r="2.4"/><circle cx="434" cy="480.8" r="2.4"/><circle cx="451" cy="475.2" r="2.4"/><circle cx="371.3" cy="474.1" r="2.4"/><circle cx="424.6" cy="513.4" r="2.4"/><circle cx="405.6" cy="489.7" r="2.4"/><circle cx="438" cy="463.8" r="2.4"/><circle cx="442.7" cy="511.6" r="2.4"/><circle cx="409.6" cy="443.9" r="2.4"/><circle cx="482.9" cy="487.3" r="2.4"/><circle cx="416.5" cy="470.1" r="2.4"/><circle cx="466.4" cy="481" r="2.4"/><circle cx="433.8" cy="499.8" r="2.4"/><circle cx="432.1" cy="460" r="2.4"/><circle cx="426.6" cy="487.7" r="2.4"/><circle cx="442" cy="452.3" r="2.4"/><circle cx="449.7" cy="493.2" r="2.4"/><circle cx="465.3" cy="460.5" r="2.4"/><circle cx="460.7" cy="472.8" r="2.4"/><circle cx="480.7" cy="493.5" r="2.4"/><circle cx="484.6" cy="520.8" r="2.4"/><circle cx="434.2" cy="474.7" r="2.4"/><circle cx="421.7" cy="490" r="2.4"/><circle cx="454" cy="477.8" r="2.4"/><circle cx="463.6" cy="472.3" r="2.4"/><circle cx="406.7" cy="474.9" r="2.4"/><circle cx="444.2" cy="458.1" r="2.4"/><circle cx="436.5" cy="492.8" r="2.4"/><circle cx="433.3" cy="480.4" r="2.4"/><circle cx="475" cy="519.4" r="2.4"/><circle cx="433.8" cy="487.5" r="2.4"/><circle cx="458.7" cy="473.4" r="2.4"/><circle cx="446" cy="454.4" r="2.4"/><circle cx="419.9" cy="438.3" r="2.4"/><circle cx="446" cy="473.9" r="2.4"/><circle cx="471.8" cy="474.9" r="2.4"/><circle cx="454.8" cy="475.6" r="2.4"/><circle cx="435.6" cy="481.8" r="2.4"/><circle cx="426" cy="486.2" r="2.4"/><circle cx="449.6" cy="440" r="2.4"/><circle cx="456.2" cy="449.2" r="2.4"/><circle cx="425.2" cy="449.4" r="2.4"/><circle cx="466.5" cy="500" r="2.4"/><circle cx="440" cy="494.4" r="2.4"/><circle cx="477.8" cy="476" r="2.4"/><circle cx="431.5" cy="472.8" r="2.4"/><circle cx="431.2" cy="457.9" r="2.4"/><circle cx="413.5" cy="458.4" r="2.4"/><circle cx="440.2" cy="450.3" r="2.4"/><circle cx="426.2" cy="435.4" r="2.4"/><circle cx="411.2" cy="484.9" r="2.4"/><circle cx="431.4" cy="484.2" r="2.4"/><circle cx="413.6" cy="455.4" r="2.4"/><circle cx="414.2" cy="462.6" r="2.4"/><circle cx="446.7" cy="489.2" r="2.4"/><circle cx="480.9" cy="502.1" r="2.4"/><circle cx="465.7" cy="476.7" r="2.4"/><circle cx="427.8" cy="492.7" r="2.4"/><circle cx="463.6" cy="466" r="2.4"/><circle cx="442.6" cy="434" r="2.4"/><circle cx="455.5" cy="485.7" r="2.4"/><circle cx="419.8" cy="455.2" r="2.4"/><circle cx="417.3" cy="496" r="2.4"/><circle cx="437.8" cy="448.1" r="2.4"/><circle cx="421.4" cy="439.2" r="2.4"/><circle cx="460" cy="472.9" r="2.4"/><circle cx="482.1" cy="500" r="2.4"/><circle cx="450.9" cy="473.1" r="2.4"/><circle cx="423.3" cy="453.8" r="2.4"/><circle cx="422.4" cy="456.7" r="2.4"/><circle cx="414.8" cy="438.2" r="2.4"/><circle cx="474.4" cy="476.4" r="2.4"/><circle cx="440.1" cy="502" r="2.4"/><circle cx="449.8" cy="473.4" r="2.4"/><circle cx="443.7" cy="394.2" r="2.4"/><circle cx="413" cy="459.4" r="2.4"/><circle cx="385.2" cy="470" r="2.4"/><circle cx="492.6" cy="481.8" r="2.4"/><circle cx="434.8" cy="511" r="2.4"/><circle cx="402.8" cy="458.3" r="2.4"/><circle cx="465.4" cy="512.9" r="2.4"/><circle cx="418.2" cy="476.5" r="2.4"/><circle cx="467.2" cy="494.8" r="2.4"/><circle cx="476.9" cy="507.3" r="2.4"/><circle cx="445.7" cy="484.2" r="2.4"/><circle cx="437" cy="495.7" r="2.4"/><circle cx="444.4" cy="486.5" r="2.4"/><circle cx="446.8" cy="465.7" r="2.4"/><circle cx="405.9" cy="440.8" r="2.4"/><circle cx="420.2" cy="448.7" r="2.4"/><circle cx="433.5" cy="484.7" r="2.4"/><circle cx="450.9" cy="492.6" r="2.4"/><circle cx="440.1" cy="465.1" r="2.4"/><circle cx="475.4" cy="489.2" r="2.4"/><circle cx="432.2" cy="482.4" r="2.4"/><circle cx="436.1" cy="489.5" r="2.4"/><circle cx="462.9" cy="458.6" r="2.4"/><circle cx="408.8" cy="525" r="2.4"/><circle cx="408.2" cy="481.5" r="2.4"/><circle cx="406.2" cy="425.6" r="2.4"/><circle cx="464.6" cy="483.7" r="2.4"/><circle cx="424.9" cy="453.1" r="2.4"/><circle cx="409" cy="483.3" r="2.4"/><circle cx="450.1" cy="477.5" r="2.4"/><circle cx="423.1" cy="434.4" r="2.4"/><circle cx="439.7" cy="482.3" r="2.4"/><circle cx="496" cy="528.2" r="2.4"/><circle cx="464.5" cy="463.8" r="2.4"/><circle cx="408.8" cy="453.3" r="2.4"/><circle cx="413" cy="458" r="2.4"/><circle cx="397" cy="430.2" r="2.4"/><circle cx="411.8" cy="442.3" r="2.4"/><circle cx="471.9" cy="487.3" r="2.4"/><circle cx="416.6" cy="471.6" r="2.4"/><circle cx="424.2" cy="488.6" r="2.4"/><circle cx="456.8" cy="478.4" r="2.4"/><circle cx="428.3" cy="487.3" r="2.4"/><circle cx="432.1" cy="452.4" r="2.4"/><circle cx="434" cy="460.1" r="2.4"/><circle cx="424.1" cy="482.4" r="2.4"/><circle cx="413.7" cy="481.8" r="2.4"/><circle cx="413.5" cy="442.8" r="2.4"/><circle cx="406.3" cy="465.1" r="2.4"/><circle cx="435.8" cy="452.9" r="2.4"/><circle cx="468.4" cy="488.7" r="2.4"/><circle cx="430.5" cy="425.2" r="2.4"/><circle cx="445.2" cy="501.3" r="2.4"/><circle cx="420.2" cy="518.5" r="2.4"/><circle cx="402.8" cy="462.8" r="2.4"/><circle cx="405.7" cy="453" r="2.4"/><circle cx="500" cy="484.3" r="2.4"/><circle cx="415.4" cy="475" r="2.4"/><circle cx="467.5" cy="470.3" r="2.4"/><circle cx="463.9" cy="488.6" r="2.4"/><circle cx="445.7" cy="505.4" r="2.4"/><circle cx="455.8" cy="453.3" r="2.4"/><circle cx="413.5" cy="481.9" r="2.4"/><circle cx="443.6" cy="485.4" r="2.4"/><circle cx="422.8" cy="496.4" r="2.4"/><circle cx="417.9" cy="474.9" r="2.4"/><circle cx="441.4" cy="461.1" r="2.4"/><circle cx="459.4" cy="503.3" r="2.4"/><circle cx="425.4" cy="501.1" r="2.4"/><circle cx="476.6" cy="495.3" r="2.4"/><circle cx="429.3" cy="476.9" r="2.4"/><circle cx="468.4" cy="457.4" r="2.4"/><circle cx="444.9" cy="464.1" r="2.4"/><circle cx="404.7" cy="466" r="2.4"/><circle cx="481.6" cy="509.7" r="2.4"/><circle cx="414.4" cy="464" r="2.4"/><circle cx="471.7" cy="489.3" r="2.4"/><circle cx="416.3" cy="488.7" r="2.4"/><circle cx="421.9" cy="492.6" r="2.4"/><circle cx="458.3" cy="474.4" r="2.4"/><circle cx="410.6" cy="467.7" r="2.4"/><circle cx="426" cy="482" r="2.4"/><circle cx="429.7" cy="472.1" r="2.4"/><circle cx="462.6" cy="465.9" r="2.4"/><circle cx="481.5" cy="482.4" r="2.4"/><circle cx="379.4" cy="450.6" r="2.4"/><circle cx="406" cy="473.4" r="2.4"/><circle cx="412.9" cy="494.7" r="2.4"/><circle cx="429.2" cy="491.6" r="2.4"/><circle cx="447.3" cy="482.3" r="2.4"/><circle cx="483.7" cy="496.6" r="2.4"/><circle cx="419.1" cy="475.5" r="2.4"/><circle cx="403.4" cy="456.8" r="2.4"/><circle cx="450.6" cy="489.9" r="2.4"/><circle cx="448.7" cy="511.9" r="2.4"/><circle cx="474.3" cy="467.7" r="2.4"/><circle cx="403.7" cy="454.7" r="2.4"/><circle cx="405.4" cy="446.5" r="2.4"/><circle cx="411.9" cy="484.5" r="2.4"/><circle cx="440.4" cy="451.2" r="2.4"/><circle cx="428.6" cy="500.8" r="2.4"/><circle cx="415.2" cy="493" r="2.4"/><circle cx="426" cy="460.5" r="2.4"/><circle cx="402.7" cy="477.7" r="2.4"/><circle cx="453" cy="443.2" r="2.4"/><circle cx="454.1" cy="488.7" r="2.4"/><circle cx="431" cy="475.1" r="2.4"/><circle cx="435.9" cy="496" r="2.4"/><circle cx="434.5" cy="468.7" r="2.4"/><circle cx="447.4" cy="468.7" r="2.4"/><circle cx="458.6" cy="480.4" r="2.4"/><circle cx="449.2" cy="495.4" r="2.4"/><circle cx="409.1" cy="456.1" r="2.4"/><circle cx="418.8" cy="439.2" r="2.4"/><circle cx="407.2" cy="454.5" r="2.4"/><circle cx="465.4" cy="475.8" r="2.4"/><circle cx="462.8" cy="457.7" r="2.4"/><circle cx="409.2" cy="462.5" r="2.4"/><circle cx="416.5" cy="416.9" r="2.4"/><circle cx="448.2" cy="477.5" r="2.4"/><circle cx="461.4" cy="496.1" r="2.4"/><circle cx="425.3" cy="449.3" r="2.4"/><circle cx="444.3" cy="494.6" r="2.4"/><circle cx="404.7" cy="433.9" r="2.4"/><circle cx="469.1" cy="462.4" r="2.4"/><circle cx="439.9" cy="466.2" r="2.4"/><circle cx="445.4" cy="455.8" r="2.4"/><circle cx="433.4" cy="509.3" r="2.4"/><circle cx="409.3" cy="455.8" r="2.4"/><circle cx="482.1" cy="484" r="2.4"/><circle cx="432.5" cy="439.9" r="2.4"/><circle cx="460.8" cy="484.8" r="2.4"/><circle cx="403.1" cy="449.9" r="2.4"/><circle cx="438.5" cy="459.8" r="2.4"/><circle cx="435.2" cy="458.1" r="2.4"/><circle cx="393" cy="488.9" r="2.4"/><circle cx="391.9" cy="481.5" r="2.4"/><circle cx="433" cy="458.9" r="2.4"/><circle cx="405.5" cy="491.2" r="2.4"/><circle cx="442.3" cy="457.1" r="2.4"/><circle cx="445.8" cy="451.2" r="2.4"/><circle cx="434.5" cy="475.6" r="2.4"/><circle cx="443.3" cy="464.9" r="2.4"/><circle cx="415.1" cy="458.3" r="2.4"/><circle cx="429.5" cy="445.9" r="2.4"/><circle cx="419.7" cy="478.5" r="2.4"/><circle cx="404.7" cy="495.4" r="2.4"/><circle cx="418.5" cy="465.7" r="2.4"/><circle cx="463.8" cy="468.2" r="2.4"/><circle cx="421.5" cy="459.9" r="2.4"/><circle cx="428.9" cy="466.6" r="2.4"/><circle cx="423.6" cy="479.2" r="2.4"/><circle cx="416.2" cy="483.3" r="2.4"/><circle cx="480.1" cy="477.9" r="2.4"/><circle cx="427.1" cy="481.7" r="2.4"/><circle cx="421.4" cy="496.7" r="2.4"/><circle cx="410.7" cy="440.2" r="2.4"/><circle cx="462.5" cy="502.3" r="2.4"/><circle cx="467.3" cy="512.9" r="2.4"/><circle cx="476.5" cy="531.9" r="2.4"/><circle cx="430.3" cy="460.5" r="2.4"/><circle cx="479.4" cy="486.5" r="2.4"/><circle cx="429.7" cy="456.3" r="2.4"/><circle cx="423.8" cy="445.9" r="2.4"/><circle cx="426.8" cy="430.8" r="2.4"/><circle cx="433.1" cy="523.1" r="2.4"/><circle cx="430" cy="468.1" r="2.4"/><circle cx="481.3" cy="464.1" r="2.4"/><circle cx="426.8" cy="495" r="2.4"/><circle cx="404.5" cy="454.7" r="2.4"/><circle cx="431.5" cy="464.9" r="2.4"/><circle cx="410.1" cy="474.8" r="2.4"/><circle cx="428.1" cy="494.3" r="2.4"/><circle cx="414.1" cy="437.2" r="2.4"/><circle cx="427.2" cy="441.5" r="2.4"/><circle cx="497.1" cy="508.8" r="2.4"/><circle cx="404" cy="462.8" r="2.4"/><circle cx="420.2" cy="476.7" r="2.4"/><circle cx="410.8" cy="469.7" r="2.4"/><circle cx="446.4" cy="487.6" r="2.4"/><circle cx="421.7" cy="483.1" r="2.4"/><circle cx="422.2" cy="456.9" r="2.4"/><circle cx="426" cy="477.3" r="2.4"/><circle cx="460.7" cy="480.8" r="2.4"/><circle cx="436.4" cy="390.5" r="2.4"/><circle cx="435.4" cy="481.1" r="2.4"/><circle cx="444.1" cy="510.6" r="2.4"/><circle cx="410.5" cy="475.9" r="2.4"/><circle cx="429.8" cy="465.3" r="2.4"/><circle cx="478.8" cy="461" r="2.4"/><circle cx="445.1" cy="466" r="2.4"/><circle cx="423.6" cy="480.2" r="2.4"/><circle cx="463.6" cy="487.5" r="2.4"/><circle cx="435.3" cy="427" r="2.4"/><circle cx="415.8" cy="428.9" r="2.4"/><circle cx="402.8" cy="449.3" r="2.4"/><circle cx="408" cy="475.8" r="2.4"/><circle cx="474.3" cy="447.3" r="2.4"/><circle cx="442.1" cy="470.1" r="2.4"/><circle cx="463.2" cy="489.2" r="2.4"/><circle cx="409.6" cy="440.6" r="2.4"/><circle cx="426.8" cy="476.4" r="2.4"/><circle cx="423.9" cy="481.8" r="2.4"/><circle cx="424.7" cy="500" r="2.4"/><circle cx="403" cy="472.4" r="2.4"/><circle cx="421.5" cy="481.9" r="2.4"/><circle cx="468.1" cy="488.4" r="2.4"/><circle cx="444.3" cy="492.5" r="2.4"/><circle cx="413.1" cy="449.7" r="2.4"/><circle cx="429.4" cy="476.1" r="2.4"/><circle cx="432.9" cy="476.5" r="2.4"/><circle cx="401.4" cy="423.1" r="2.4"/><circle cx="418.7" cy="480.9" r="2.4"/><circle cx="420.9" cy="479.7" r="2.4"/><circle cx="412" cy="436" r="2.4"/><circle cx="412.4" cy="445.6" r="2.4"/><circle cx="408.3" cy="457.8" r="2.4"/><circle cx="421.1" cy="458.9" r="2.4"/><circle cx="403.3" cy="483.8" r="2.4"/><circle cx="433.1" cy="464.5" r="2.4"/><circle cx="415" cy="472.1" r="2.4"/><circle cx="407.8" cy="437.5" r="2.4"/><circle cx="420.3" cy="443.9" r="2.4"/><circle cx="484" cy="483.7" r="2.4"/><circle cx="470.5" cy="479.5" r="2.4"/><circle cx="446.1" cy="482.8" r="2.4"/><circle cx="431.3" cy="466" r="2.4"/><circle cx="442.1" cy="468.4" r="2.4"/><circle cx="440.5" cy="465.5" r="2.4"/><circle cx="420.2" cy="500.7" r="2.4"/><circle cx="410.4" cy="467.9" r="2.4"/><circle cx="494.5" cy="506.5" r="2.4"/><circle cx="476.7" cy="487.4" r="2.4"/><circle cx="447.7" cy="502.9" r="2.4"/><circle cx="412.5" cy="471.3" r="2.4"/><circle cx="428.3" cy="487.6" r="2.4"/><circle cx="485.8" cy="483.1" r="2.4"/><circle cx="431.3" cy="492.4" r="2.4"/><circle cx="426.1" cy="502.5" r="2.4"/><circle cx="428" cy="469.3" r="2.4"/><circle cx="453.1" cy="456.4" r="2.4"/><circle cx="428.8" cy="490.4" r="2.4"/><circle cx="409.8" cy="456.1" r="2.4"/><circle cx="422.2" cy="448.2" r="2.4"/><circle cx="457" cy="518" r="2.4"/><circle cx="433.5" cy="471.9" r="2.4"/><circle cx="428.8" cy="474.8" r="2.4"/><circle cx="439" cy="473.7" r="2.4"/><circle cx="425.2" cy="449.3" r="2.4"/><circle cx="448.7" cy="483.4" r="2.4"/><circle cx="467" cy="474.1" r="2.4"/><circle cx="456.4" cy="488.9" r="2.4"/><circle cx="408.7" cy="453.1" r="2.4"/><circle cx="419" cy="486.6" r="2.4"/><circle cx="427.2" cy="481.1" r="2.4"/><circle cx="457.1" cy="509.9" r="2.4"/><circle cx="442.3" cy="469.3" r="2.4"/><circle cx="410.2" cy="463.7" r="2.4"/><circle cx="394.4" cy="434.9" r="2.4"/><circle cx="485.8" cy="486.2" r="2.4"/><circle cx="449" cy="506.8" r="2.4"/><circle cx="441.3" cy="441.1" r="2.4"/><circle cx="439.7" cy="474.3" r="2.4"/><circle cx="464.8" cy="473.9" r="2.4"/><circle cx="450" cy="468" r="2.4"/><circle cx="452.9" cy="437.6" r="2.4"/><circle cx="414.3" cy="475.8" r="2.4"/><circle cx="430" cy="465.2" r="2.4"/><circle cx="417.3" cy="458.2" r="2.4"/><circle cx="431.2" cy="488.9" r="2.4"/><circle cx="411.4" cy="512.5" r="2.4"/><circle cx="459.5" cy="477.3" r="2.4"/><circle cx="427.8" cy="471.8" r="2.4"/><circle cx="413.5" cy="466.8" r="2.4"/><circle cx="417.6" cy="471.1" r="2.4"/><circle cx="410.2" cy="486.1" r="2.4"/><circle cx="395.2" cy="472.3" r="2.4"/><circle cx="405.7" cy="451.9" r="2.4"/><circle cx="429.6" cy="450.3" r="2.4"/><circle cx="482.2" cy="479.8" r="2.4"/><circle cx="423.6" cy="475.5" r="2.4"/><circle cx="451.1" cy="496.5" r="2.4"/><circle cx="476" cy="495.1" r="2.4"/><circle cx="427.4" cy="457" r="2.4"/><circle cx="419" cy="463" r="2.4"/><circle cx="457" cy="507.5" r="2.4"/><circle cx="486" cy="503.1" r="2.4"/><circle cx="414.7" cy="411.8" r="2.4"/><circle cx="428.1" cy="440.2" r="2.4"/><circle cx="423.6" cy="499.3" r="2.4"/><circle cx="423.6" cy="449.8" r="2.4"/><circle cx="466.3" cy="478.8" r="2.4"/><circle cx="460.6" cy="446" r="2.4"/><circle cx="476.3" cy="492.6" r="2.4"/><circle cx="447.7" cy="465.5" r="2.4"/><circle cx="408" cy="487.6" r="2.4"/><circle cx="416.9" cy="483" r="2.4"/><circle cx="440.3" cy="459.5" r="2.4"/><circle cx="414.9" cy="467.1" r="2.4"/><circle cx="475.7" cy="507.4" r="2.4"/><circle cx="443.6" cy="441.1" r="2.4"/><circle cx="452.1" cy="483.7" r="2.4"/><circle cx="385.6" cy="483.6" r="2.4"/><circle cx="423.2" cy="486.6" r="2.4"/><circle cx="397.7" cy="469.1" r="2.4"/><circle cx="422" cy="397.9" r="2.4"/><circle cx="431.6" cy="491" r="2.4"/><circle cx="424" cy="456" r="2.4"/><circle cx="473.7" cy="465.9" r="2.4"/><circle cx="416.5" cy="483.2" r="2.4"/><circle cx="411.3" cy="471.4" r="2.4"/><circle cx="421.7" cy="438.3" r="2.4"/><circle cx="411.4" cy="426.6" r="2.4"/><circle cx="426.9" cy="499.6" r="2.4"/><circle cx="471.3" cy="537.9" r="2.4"/><circle cx="425.4" cy="469.7" r="2.4"/><circle cx="419.4" cy="453.9" r="2.4"/><circle cx="385.6" cy="446" r="2.4"/><circle cx="458.5" cy="488.1" r="2.4"/><circle cx="485.7" cy="476.2" r="2.4"/><circle cx="412.9" cy="453.5" r="2.4"/><circle cx="425.4" cy="495.4" r="2.4"/><circle cx="517.3" cy="529.1" r="2.4"/><circle cx="460.9" cy="470.3" r="2.4"/><circle cx="453" cy="483.8" r="2.4"/><circle cx="474.2" cy="498.4" r="2.4"/><circle cx="430.1" cy="477.1" r="2.4"/><circle cx="447.6" cy="470.8" r="2.4"/><circle cx="436.5" cy="490.3" r="2.4"/><circle cx="429.4" cy="509.7" r="2.4"/><circle cx="481.2" cy="458.9" r="2.4"/><circle cx="428.6" cy="492.9" r="2.4"/><circle cx="443" cy="468.6" r="2.4"/><circle cx="438.8" cy="448.7" r="2.4"/><circle cx="471.4" cy="490.8" r="2.4"/><circle cx="435.2" cy="508.6" r="2.4"/><circle cx="438.2" cy="467.8" r="2.4"/><circle cx="445.6" cy="433.9" r="2.4"/><circle cx="464.2" cy="467.9" r="2.4"/><circle cx="439.2" cy="489.3" r="2.4"/><circle cx="448.5" cy="523.1" r="2.4"/><circle cx="425.8" cy="479.8" r="2.4"/><circle cx="405.8" cy="484.3" r="2.4"/><circle cx="433.4" cy="431.2" r="2.4"/><circle cx="428.6" cy="413.2" r="2.4"/><circle cx="453" cy="446.2" r="2.4"/><circle cx="421" cy="498.8" r="2.4"/><circle cx="420.2" cy="469.7" r="2.4"/><circle cx="442.3" cy="484.8" r="2.4"/><circle cx="461.9" cy="487.6" r="2.4"/><circle cx="463.6" cy="488.4" r="2.4"/><circle cx="431.2" cy="506.1" r="2.4"/><circle cx="472.2" cy="494.4" r="2.4"/><circle cx="407.9" cy="460" r="2.4"/><circle cx="439.6" cy="494.3" r="2.4"/><circle cx="456.2" cy="509.3" r="2.4"/><circle cx="406.2" cy="415.9" r="2.4"/><circle cx="413.3" cy="461.5" r="2.4"/><circle cx="418.2" cy="445.1" r="2.4"/><circle cx="402.2" cy="473.7" r="2.4"/><circle cx="398.9" cy="490.3" r="2.4"/><circle cx="479.1" cy="477.2" r="2.4"/><circle cx="409.7" cy="468.3" r="2.4"/><circle cx="438.9" cy="416.4" r="2.4"/><circle cx="457.3" cy="435.3" r="2.4"/><circle cx="445" cy="460.9" r="2.4"/><circle cx="497.1" cy="462.6" r="2.4"/><circle cx="420" cy="436.7" r="2.4"/><circle cx="428" cy="466.9" r="2.4"/><circle cx="445.6" cy="403.5" r="2.4"/><circle cx="464.9" cy="470.6" r="2.4"/><circle cx="437.8" cy="435.3" r="2.4"/><circle cx="440.1" cy="436" r="2.4"/><circle cx="459.3" cy="503.9" r="2.4"/><circle cx="422.8" cy="478.3" r="2.4"/><circle cx="372" cy="446.4" r="2.4"/><circle cx="424.6" cy="491.3" r="2.4"/><circle cx="419" cy="468" r="2.4"/><circle cx="436.3" cy="497.9" r="2.4"/><circle cx="441.9" cy="438.3" r="2.4"/><circle cx="452.1" cy="468" r="2.4"/><circle cx="468.9" cy="456.8" r="2.4"/><circle cx="420.1" cy="467" r="2.4"/><circle cx="419.2" cy="465.1" r="2.4"/><circle cx="446.2" cy="463.7" r="2.4"/><circle cx="420.6" cy="444.8" r="2.4"/><circle cx="466.1" cy="495.1" r="2.4"/><circle cx="436.5" cy="453.9" r="2.4"/><circle cx="426.5" cy="514.2" r="2.4"/><circle cx="412.4" cy="481.7" r="2.4"/><circle cx="463.3" cy="494.7" r="2.4"/><circle cx="425.7" cy="469" r="2.4"/><circle cx="454.5" cy="469.2" r="2.4"/><circle cx="439.9" cy="481.4" r="2.4"/></g>
<g opacity="0.06"><polyline points="349.2,430.6 355.3,433.4 361.5,436.3 367.6,439.1 373.7,441.9 379.9,444.7 386,447.5 392.1,450.2 398.2,453 404.4,455.7 410.5,458.5 416.6,461.1 422.8,463.7 428.9,466.3 435,468.7 441.1,471 447.3,473.2 453.4,475.2 459.5,477.2 465.7,479.2 471.8,481.1 477.9,482.9 484.1,484.8 490.2,486.6 496.3,488.5 502.5,490.3 508.6,492.1 514.7,493.9 520.8,495.7 527,497.5 533.1,499.3" fill="none" stroke="#111" stroke-width="0.9" stroke-dasharray="2.4 1"/><polyline points="349.2,446.5 355.3,448.3 361.5,450.1 367.6,451.9 373.7,453.7 379.9,455.6 386,457.4 392.1,459.2 398.2,461.1 404.4,463 410.5,464.9 416.6,466.8 422.8,468.8 428.9,470.9 435,473.1 441.1,475.4 447.3,477.9 453.4,480.4 459.5,483.1 465.7,485.7 471.8,488.5 477.9,491.2 484.1,494 490.2,496.8 496.3,499.5 502.5,502.3 508.6,505.2 514.7,508 520.8,510.8 527,513.6 533.1,516.4" fill="none" stroke="#111" stroke-width="0.9" stroke-dasharray="2.4 1"/><line x1="349.2" y1="438.6" x2="533.1" y2="507.9" stroke="#111" stroke-width="1.3"/></g>
<path d="M349.2 371.9V557.3H533.7" fill="none" stroke="#000" stroke-width="1.4"/>
<path d="M349.2 557.3h-5.8M349.2 511.1h-5.8M349.2 464.9h-5.8M349.2 418.7h-5.8M349.2 372.5h-5.8M349.2 557.3v5.8M386 557.3v5.8M422.8 557.3v5.8M459.5 557.3v5.8M496.3 557.3v5.8M533.1 557.3v5.8" fill="none" stroke="#000" stroke-width="1.4"/>
<g font-size="11.7" fill="#000" class="s">
<text x="341.6" y="561.5" text-anchor="end">-20</text>
<text x="341.6" y="515.3" text-anchor="end">-10</text>
<text x="341.6" y="469.1" text-anchor="end">0</text>
<text x="341.6" y="422.9" text-anchor="end">10</text>
<text x="341.6" y="376.7" text-anchor="end">20</text>
<text x="349.2" y="576.3" text-anchor="middle">50</text>
<text x="386" y="576.3" text-anchor="middle">60</text>
<text x="422.8" y="576.3" text-anchor="middle">70</text>
<text x="459.5" y="576.3" text-anchor="middle">80</text>
<text x="496.3" y="576.3" text-anchor="middle">90</text>
<text x="533.1" y="576.3" text-anchor="middle">100</text>
</g>
<text x="441.1" y="597.8" text-anchor="middle" font-size="16.6" fill="#000">Chronological age</text>
<text transform="translate(320.8 465) rotate(-90) scale(0.9182 1)" text-anchor="middle" font-size="15" fill="#000" class="dj2">Brain age gap (uncorrected)</text>
<text x="304.3" y="350.6" font-size="28" fill="#000">e</text>
<text x="531.3" y="369.2" text-anchor="end" font-size="11.6" fill="#000" class="s">MAE = 4.2092</text>
<text x="531.3" y="383.9" text-anchor="end" font-size="11.6" fill="#000" class="s">Spearman r = -0.3839</text>
</g>
<g>
<line x1="600" y1="464.9" x2="783.8" y2="464.9" stroke="#e4e4e4" stroke-width="0.8"/>
<polyline points="600,450 606.1,451.1 612.3,452.1 618.4,453.2 624.5,454.2 630.6,455.2 636.8,456.2 642.9,457.2 649,458.2 655.1,459.2 661.3,460.2 667.4,461.1 673.5,461.9 679.6,462.7 685.8,463.3 691.9,463.8 698,464.2 704.2,464.5 710.3,464.8 716.4,464.9 722.5,465.1 728.7,465.2 734.8,465.2 740.9,465.3 747,465.4 753.2,465.4 759.3,465.5 765.4,465.5 771.5,465.5 777.7,465.6 783.8,465.6" fill="none" stroke="#111" stroke-width="0.9" stroke-dasharray="2.4 1"/>
<polyline points="600,465.9 606.1,465.9 612.3,466 618.4,466 624.5,466.1 630.6,466.1 636.8,466.2 642.9,466.2 649,466.3 655.1,466.4 661.3,466.6 667.4,466.7 673.5,467 679.6,467.3 685.8,467.7 691.9,468.3 698,468.9 704.2,469.7 710.3,470.6 716.4,471.5 722.5,472.4 728.7,473.4 734.8,474.4 740.9,475.4 747,476.4 753.2,477.5 759.3,478.5 765.4,479.6 771.5,480.6 777.7,481.6 783.8,482.7" fill="none" stroke="#111" stroke-width="0.9" stroke-dasharray="2.4 1"/>
<line x1="600" y1="458" x2="783.8" y2="474.1" stroke="#1a1a1a" stroke-width="1.3"/>
<g fill="#2e9579" fill-opacity="0.62" stroke="#0c4034" stroke-width="0.95"><circle cx="685.3" cy="474.5" r="2.4"/><circle cx="687.7" cy="463.6" r="2.4"/><circle cx="673.5" cy="450.2" r="2.4"/><circle cx="689.4" cy="487.9" r="2.4"/><circle cx="704" cy="441.4" r="2.4"/><circle cx="677" cy="477.9" r="2.4"/><circle cx="733.9" cy="487.5" r="2.4"/><circle cx="684.6" cy="450.1" r="2.4"/><circle cx="653.9" cy="460.2" r="2.4"/><circle cx="727.3" cy="446.7" r="2.4"/><circle cx="704.8" cy="458.6" r="2.4"/><circle cx="659.6" cy="514.7" r="2.4"/><circle cx="699" cy="443.2" r="2.4"/><circle cx="663.6" cy="502.6" r="2.4"/><circle cx="715.7" cy="464.2" r="2.4"/><circle cx="695.3" cy="457.9" r="2.4"/><circle cx="684.7" cy="475.7" r="2.4"/><circle cx="701.8" cy="465.3" r="2.4"/><circle cx="622.1" cy="487.2" r="2.4"/><circle cx="675.4" cy="511.1" r="2.4"/><circle cx="656.4" cy="492.8" r="2.4"/><circle cx="688.8" cy="457.6" r="2.4"/><circle cx="693.5" cy="504" r="2.4"/><circle cx="660.4" cy="445.9" r="2.4"/><circle cx="733.6" cy="468.1" r="2.4"/><circle cx="667.3" cy="470.1" r="2.4"/><circle cx="717.1" cy="466.5" r="2.4"/><circle cx="684.6" cy="494.8" r="2.4"/><circle cx="682.8" cy="455.5" r="2.4"/><circle cx="677.4" cy="484.8" r="2.4"/><circle cx="692.8" cy="444.9" r="2.4"/><circle cx="700.5" cy="483.6" r="2.4"/><circle cx="716" cy="446.4" r="2.4"/><circle cx="711.5" cy="460.1" r="2.4"/><circle cx="731.5" cy="475" r="2.4"/><circle cx="735.3" cy="501.1" r="2.4"/><circle cx="685" cy="469.6" r="2.4"/><circle cx="672.5" cy="488.5" r="2.4"/><circle cx="704.8" cy="466.9" r="2.4"/><circle cx="714.3" cy="458.7" r="2.4"/><circle cx="657.5" cy="477.7" r="2.4"/><circle cx="694.9" cy="450.1" r="2.4"/><circle cx="687.3" cy="487.1" r="2.4"/><circle cx="684.1" cy="475.5" r="2.4"/><circle cx="725.7" cy="502.5" r="2.4"/><circle cx="684.6" cy="482.5" r="2.4"/><circle cx="709.4" cy="461.2" r="2.4"/><circle cx="696.8" cy="445.9" r="2.4"/><circle cx="670.6" cy="437.3" r="2.4"/><circle cx="696.7" cy="465.3" r="2.4"/><circle cx="722.6" cy="458.9" r="2.4"/><circle cx="705.6" cy="464.5" r="2.4"/><circle cx="686.3" cy="476.3" r="2.4"/><circle cx="676.7" cy="483.5" r="2.4"/><circle cx="700.4" cy="430.4" r="2.4"/><circle cx="707" cy="437.7" r="2.4"/><circle cx="676" cy="446.9" r="2.4"/><circle cx="717.3" cy="485.6" r="2.4"/><circle cx="690.8" cy="487.6" r="2.4"/><circle cx="728.6" cy="458.3" r="2.4"/><circle cx="682.3" cy="468.5" r="2.4"/><circle cx="681.9" cy="453.7" r="2.4"/><circle cx="664.3" cy="459.3" r="2.4"/><circle cx="691" cy="443.4" r="2.4"/><circle cx="677" cy="432.6" r="2.4"/><circle cx="661.9" cy="486.5" r="2.4"/><circle cx="682.2" cy="479.9" r="2.4"/><circle cx="664.4" cy="456.3" r="2.4"/><circle cx="665" cy="463.2" r="2.4"/><circle cx="697.5" cy="480.4" r="2.4"/><circle cx="731.6" cy="483.5" r="2.4"/><circle cx="716.4" cy="462.5" r="2.4"/><circle cx="678.6" cy="489.4" r="2.4"/><circle cx="714.3" cy="452.4" r="2.4"/><circle cx="693.4" cy="426.4" r="2.4"/><circle cx="706.3" cy="474.4" r="2.4"/><circle cx="670.6" cy="454.2" r="2.4"/><circle cx="668" cy="495.8" r="2.4"/><circle cx="688.6" cy="442" r="2.4"/><circle cx="672.1" cy="437.8" r="2.4"/><circle cx="710.8" cy="460.4" r="2.4"/><circle cx="732.8" cy="481.1" r="2.4"/><circle cx="701.6" cy="463.2" r="2.4"/><circle cx="674" cy="451.9" r="2.4"/><circle cx="673.2" cy="455" r="2.4"/><circle cx="665.5" cy="438.7" r="2.4"/><circle cx="725.2" cy="459.7" r="2.4"/><circle cx="690.8" cy="495.1" r="2.4"/><circle cx="700.6" cy="463.7" r="2.4"/><circle cx="694.5" cy="386.4" r="2.4"/><circle cx="663.8" cy="460.4" r="2.4"/><circle cx="636" cy="479" r="2.4"/><circle cx="743.4" cy="459.8" r="2.4"/><circle cx="685.6" cy="505.8" r="2.4"/><circle cx="653.5" cy="462.3" r="2.4"/><circle cx="716.2" cy="498.8" r="2.4"/><circle cx="669" cy="476.1" r="2.4"/><circle cx="717.9" cy="480.2" r="2.4"/><circle cx="727.6" cy="489.9" r="2.4"/><circle cx="696.4" cy="475.8" r="2.4"/><circle cx="687.7" cy="489.8" r="2.4"/><circle cx="695.2" cy="478.5" r="2.4"/><circle cx="697.5" cy="457" r="2.4"/><circle cx="656.7" cy="443.9" r="2.4"/><circle cx="670.9" cy="447.6" r="2.4"/><circle cx="684.3" cy="479.8" r="2.4"/><circle cx="701.7" cy="482.7" r="2.4"/><circle cx="690.8" cy="458.3" r="2.4"/><circle cx="726.1" cy="472.1" r="2.4"/><circle cx="682.9" cy="477.9" r="2.4"/><circle cx="686.9" cy="483.9" r="2.4"/><circle cx="713.7" cy="445.2" r="2.4"/><circle cx="659.6" cy="527.2" r="2.4"/><circle cx="658.9" cy="483.9" r="2.4"/><circle cx="657" cy="428.6" r="2.4"/><circle cx="715.3" cy="469.8" r="2.4"/><circle cx="675.6" cy="450.7" r="2.4"/><circle cx="659.8" cy="485.5" r="2.4"/><circle cx="700.8" cy="467.8" r="2.4"/><circle cx="673.9" cy="432.5" r="2.4"/><circle cx="690.5" cy="475.6" r="2.4"/><circle cx="746.7" cy="505.2" r="2.4"/><circle cx="715.2" cy="449.9" r="2.4"/><circle cx="659.5" cy="455.6" r="2.4"/><circle cx="663.8" cy="459" r="2.4"/><circle cx="647.8" cy="435.9" r="2.4"/><circle cx="662.6" cy="443.6" r="2.4"/><circle cx="722.6" cy="471.3" r="2.4"/><circle cx="667.3" cy="471.5" r="2.4"/><circle cx="674.9" cy="486.4" r="2.4"/><circle cx="707.5" cy="466.8" r="2.4"/><circle cx="679.1" cy="483.9" r="2.4"/><circle cx="682.8" cy="447.9" r="2.4"/><circle cx="684.7" cy="455.1" r="2.4"/><circle cx="674.8" cy="480.2" r="2.4"/><circle cx="664.5" cy="482.6" r="2.4"/><circle cx="664.2" cy="443.7" r="2.4"/><circle cx="657.1" cy="468" r="2.4"/><circle cx="686.6" cy="447.3" r="2.4"/><circle cx="719.1" cy="473.7" r="2.4"/><circle cx="681.2" cy="421.1" r="2.4"/><circle cx="695.9" cy="493" r="2.4"/><circle cx="670.9" cy="517.4" r="2.4"/><circle cx="653.5" cy="466.8" r="2.4"/><circle cx="656.4" cy="456.2" r="2.4"/><circle cx="750.7" cy="460.2" r="2.4"/><circle cx="666.2" cy="475.3" r="2.4"/><circle cx="718.3" cy="455.6" r="2.4"/><circle cx="714.6" cy="474.9" r="2.4"/><circle cx="696.4" cy="497" r="2.4"/><circle cx="706.6" cy="441.9" r="2.4"/><circle cx="664.2" cy="482.7" r="2.4"/><circle cx="694.4" cy="477.6" r="2.4"/><circle cx="673.6" cy="494.6" r="2.4"/><circle cx="668.7" cy="474.5" r="2.4"/><circle cx="692.1" cy="453.9" r="2.4"/><circle cx="710.2" cy="490.9" r="2.4"/><circle cx="676.2" cy="498.5" r="2.4"/><circle cx="727.3" cy="478" r="2.4"/><circle cx="680" cy="473.2" r="2.4"/><circle cx="719.2" cy="442.4" r="2.4"/><circle cx="695.7" cy="455.9" r="2.4"/><circle cx="655.5" cy="469.4" r="2.4"/><circle cx="732.3" cy="490.9" r="2.4"/><circle cx="665.2" cy="464.6" r="2.4"/><circle cx="722.5" cy="473.3" r="2.4"/><circle cx="667" cy="488.8" r="2.4"/><circle cx="672.7" cy="491" r="2.4"/><circle cx="709" cy="462.4" r="2.4"/><circle cx="661.4" cy="469.4" r="2.4"/><circle cx="676.7" cy="479.3" r="2.4"/><circle cx="680.5" cy="468.2" r="2.4"/><circle cx="713.4" cy="452.6" r="2.4"/><circle cx="732.3" cy="463.6" r="2.4"/><circle cx="630.1" cy="461.3" r="2.4"/><circle cx="656.8" cy="476.5" r="2.4"/><circle cx="663.7" cy="495.7" r="2.4"/><circle cx="679.9" cy="487.9" r="2.4"/><circle cx="698.1" cy="473.4" r="2.4"/><circle cx="734.4" cy="477.2" r="2.4"/><circle cx="669.9" cy="474.7" r="2.4"/><circle cx="654.2" cy="460.6" r="2.4"/><circle cx="701.3" cy="480" r="2.4"/><circle cx="699.4" cy="502.6" r="2.4"/><circle cx="725" cy="451" r="2.4"/><circle cx="654.4" cy="458.4" r="2.4"/><circle cx="656.1" cy="449.7" r="2.4"/><circle cx="662.7" cy="485.8" r="2.4"/><circle cx="691.1" cy="444.3" r="2.4"/><circle cx="679.3" cy="497.3" r="2.4"/><circle cx="666" cy="493.3" r="2.4"/><circle cx="676.7" cy="457.8" r="2.4"/><circle cx="653.5" cy="481.7" r="2.4"/><circle cx="703.8" cy="432.7" r="2.4"/><circle cx="704.8" cy="477.9" r="2.4"/><circle cx="681.8" cy="470.9" r="2.4"/><circle cx="686.7" cy="490.4" r="2.4"/><circle cx="685.2" cy="463.5" r="2.4"/><circle cx="698.2" cy="459.7" r="2.4"/><circle cx="709.4" cy="468.2" r="2.4"/><circle cx="699.9" cy="485.9" r="2.4"/><circle cx="659.9" cy="458.2" r="2.4"/><circle cx="669.5" cy="438.6" r="2.4"/><circle cx="657.9" cy="457.2" r="2.4"/><circle cx="716.1" cy="461.7" r="2.4"/><circle cx="713.5" cy="444.3" r="2.4"/><circle cx="660" cy="464.6" r="2.4"/><circle cx="667.3" cy="416.9" r="2.4"/><circle cx="698.9" cy="468.4" r="2.4"/><circle cx="712.2" cy="483.1" r="2.4"/><circle cx="676.1" cy="446.8" r="2.4"/><circle cx="695" cy="486.6" r="2.4"/><circle cx="655.5" cy="437.3" r="2.4"/><circle cx="719.8" cy="447.2" r="2.4"/><circle cx="690.7" cy="459.5" r="2.4"/><circle cx="696.1" cy="447.5" r="2.4"/><circle cx="684.2" cy="504.4" r="2.4"/><circle cx="660.1" cy="457.9" r="2.4"/><circle cx="732.8" cy="465" r="2.4"/><circle cx="683.3" cy="435.3" r="2.4"/><circle cx="711.5" cy="472" r="2.4"/><circle cx="653.9" cy="453.8" r="2.4"/><circle cx="689.2" cy="453.4" r="2.4"/><circle cx="685.9" cy="452.7" r="2.4"/><circle cx="643.7" cy="495.7" r="2.4"/><circle cx="642.6" cy="488.7" r="2.4"/><circle cx="683.8" cy="454.1" r="2.4"/><circle cx="656.2" cy="494.4" r="2.4"/><circle cx="693.1" cy="449.7" r="2.4"/><circle cx="696.5" cy="442.7" r="2.4"/><circle cx="685.3" cy="470.4" r="2.4"/><circle cx="694.1" cy="457.2" r="2.4"/><circle cx="665.9" cy="458.7" r="2.4"/><circle cx="680.2" cy="442.2" r="2.4"/><circle cx="670.4" cy="477.6" r="2.4"/><circle cx="655.5" cy="498.8" r="2.4"/><circle cx="669.2" cy="465.1" r="2.4"/><circle cx="714.5" cy="454.5" r="2.4"/><circle cx="672.3" cy="458.5" r="2.4"/><circle cx="679.7" cy="463" r="2.4"/><circle cx="674.3" cy="477.1" r="2.4"/><circle cx="667" cy="483.3" r="2.4"/><circle cx="730.9" cy="459.6" r="2.4"/><circle cx="677.8" cy="478.7" r="2.4"/><circle cx="672.2" cy="495.3" r="2.4"/><circle cx="661.4" cy="441.9" r="2.4"/><circle cx="713.3" cy="489" r="2.4"/><circle cx="718" cy="498.3" r="2.4"/><circle cx="727.2" cy="514.6" r="2.4"/><circle cx="681.1" cy="456.5" r="2.4"/><circle cx="730.1" cy="468.4" r="2.4"/><circle cx="680.5" cy="452.5" r="2.4"/><circle cx="674.6" cy="443.8" r="2.4"/><circle cx="677.5" cy="427.8" r="2.4"/><circle cx="683.8" cy="518.3" r="2.4"/><circle cx="680.8" cy="464.2" r="2.4"/><circle cx="732" cy="445.4" r="2.4"/><circle cx="677.6" cy="492" r="2.4"/><circle cx="655.2" cy="458.2" r="2.4"/><circle cx="682.2" cy="460.6" r="2.4"/><circle cx="660.9" cy="476.6" r="2.4"/><circle cx="678.9" cy="491" r="2.4"/><circle cx="664.8" cy="438" r="2.4"/><circle cx="677.9" cy="438.4" r="2.4"/><circle cx="747.8" cy="485.5" r="2.4"/><circle cx="654.8" cy="466.4" r="2.4"/><circle cx="671" cy="475.7" r="2.4"/><circle cx="661.6" cy="471.4" r="2.4"/><circle cx="697.2" cy="478.9" r="2.4"/><circle cx="672.5" cy="481.6" r="2.4"/><circle cx="673" cy="455.2" r="2.4"/><circle cx="676.8" cy="474.6" r="2.4"/><circle cx="711.5" cy="468" r="2.4"/><circle cx="687.1" cy="384.8" r="2.4"/><circle cx="686.2" cy="475.7" r="2.4"/><circle cx="694.8" cy="502.7" r="2.4"/><circle cx="661.3" cy="477.7" r="2.4"/><circle cx="680.5" cy="461.5" r="2.4"/><circle cx="729.5" cy="443" r="2.4"/><circle cx="695.9" cy="457.7" r="2.4"/><circle cx="674.4" cy="478.1" r="2.4"/><circle cx="714.3" cy="473.9" r="2.4"/><circle cx="686" cy="421.6" r="2.4"/><circle cx="666.5" cy="429.1" r="2.4"/><circle cx="653.6" cy="453.3" r="2.4"/><circle cx="658.8" cy="478.3" r="2.4"/><circle cx="725" cy="430.7" r="2.4"/><circle cx="692.8" cy="462.7" r="2.4"/><circle cx="713.9" cy="475.7" r="2.4"/><circle cx="660.4" cy="442.6" r="2.4"/><circle cx="677.6" cy="473.4" r="2.4"/><circle cx="674.7" cy="479.6" r="2.4"/><circle cx="675.4" cy="497.7" r="2.4"/><circle cx="653.8" cy="476.3" r="2.4"/><circle cx="672.3" cy="480.4" r="2.4"/><circle cx="718.9" cy="473.5" r="2.4"/><circle cx="695" cy="484.5" r="2.4"/><circle cx="663.9" cy="450.7" r="2.4"/><circle cx="680.2" cy="472.4" r="2.4"/><circle cx="683.7" cy="471.7" r="2.4"/><circle cx="652.2" cy="427.4" r="2.4"/><circle cx="669.5" cy="480.3" r="2.4"/><circle cx="671.7" cy="478.5" r="2.4"/><circle cx="662.7" cy="437.3" r="2.4"/><circle cx="663.2" cy="446.8" r="2.4"/><circle cx="659.1" cy="460.1" r="2.4"/><circle cx="671.9" cy="457.5" r="2.4"/><circle cx="654.1" cy="487.6" r="2.4"/><circle cx="683.9" cy="459.7" r="2.4"/><circle cx="665.7" cy="472.5" r="2.4"/><circle cx="658.6" cy="440" r="2.4"/><circle cx="671.1" cy="442.8" r="2.4"/><circle cx="734.8" cy="464.2" r="2.4"/><circle cx="721.2" cy="463.9" r="2.4"/><circle cx="696.8" cy="474.3" r="2.4"/><circle cx="682.1" cy="461.8" r="2.4"/><circle cx="692.8" cy="461" r="2.4"/><circle cx="691.3" cy="458.5" r="2.4"/><circle cx="671" cy="499.6" r="2.4"/><circle cx="661.2" cy="469.6" r="2.4"/><circle cx="745.2" cy="484" r="2.4"/><circle cx="727.4" cy="470" r="2.4"/><circle cx="698.5" cy="493.9" r="2.4"/><circle cx="663.2" cy="472.5" r="2.4"/><circle cx="679" cy="484.2" r="2.4"/><circle cx="736.5" cy="463.1" r="2.4"/><circle cx="682" cy="488.1" r="2.4"/><circle cx="676.8" cy="499.7" r="2.4"/><circle cx="678.7" cy="466" r="2.4"/><circle cx="703.9" cy="445.8" r="2.4"/><circle cx="679.6" cy="486.8" r="2.4"/><circle cx="660.6" cy="458.1" r="2.4"/><circle cx="673" cy="446.6" r="2.4"/><circle cx="707.7" cy="506.3" r="2.4"/><circle cx="684.3" cy="467" r="2.4"/><circle cx="679.6" cy="471.3" r="2.4"/><circle cx="689.8" cy="467.2" r="2.4"/><circle cx="675.9" cy="446.8" r="2.4"/><circle cx="699.5" cy="474.1" r="2.4"/><circle cx="717.7" cy="459.5" r="2.4"/><circle cx="707.2" cy="477.3" r="2.4"/><circle cx="659.4" cy="455.4" r="2.4"/><circle cx="669.8" cy="485.9" r="2.4"/><circle cx="677.9" cy="478" r="2.4"/><circle cx="707.9" cy="498.2" r="2.4"/><circle cx="693.1" cy="461.9" r="2.4"/><circle cx="661" cy="465.5" r="2.4"/><circle cx="645.2" cy="441.2" r="2.4"/><circle cx="736.5" cy="466.2" r="2.4"/><circle cx="699.8" cy="497.4" r="2.4"/><circle cx="692.1" cy="433.9" r="2.4"/><circle cx="690.4" cy="467.6" r="2.4"/><circle cx="715.6" cy="460" r="2.4"/><circle cx="700.7" cy="458.4" r="2.4"/><circle cx="703.7" cy="427.1" r="2.4"/><circle cx="665.1" cy="476.4" r="2.4"/><circle cx="680.7" cy="461.3" r="2.4"/><circle cx="668" cy="457.9" r="2.4"/><circle cx="682" cy="484.7" r="2.4"/><circle cx="662.1" cy="514" r="2.4"/><circle cx="710.2" cy="464.9" r="2.4"/><circle cx="678.5" cy="468.5" r="2.4"/><circle cx="664.3" cy="467.6" r="2.4"/><circle cx="668.4" cy="470.8" r="2.4"/><circle cx="661" cy="488" r="2.4"/><circle cx="646" cy="478.5" r="2.4"/><circle cx="656.5" cy="455" r="2.4"/><circle cx="680.4" cy="446.5" r="2.4"/><circle cx="732.9" cy="460.9" r="2.4"/><circle cx="674.3" cy="473.4" r="2.4"/><circle cx="701.8" cy="486.5" r="2.4"/><circle cx="726.7" cy="478" r="2.4"/><circle cx="678.2" cy="453.8" r="2.4"/><circle cx="669.7" cy="462.2" r="2.4"/><circle cx="707.8" cy="495.8" r="2.4"/><circle cx="736.7" cy="483" r="2.4"/><circle cx="665.4" cy="412.3" r="2.4"/><circle cx="678.9" cy="436.8" r="2.4"/><circle cx="674.3" cy="497.2" r="2.4"/><circle cx="674.4" cy="447.7" r="2.4"/><circle cx="717.1" cy="464.4" r="2.4"/><circle cx="711.4" cy="433.2" r="2.4"/><circle cx="727" cy="475.3" r="2.4"/><circle cx="698.4" cy="456.4" r="2.4"/><circle cx="658.8" cy="490.1" r="2.4"/><circle cx="667.7" cy="482.9" r="2.4"/><circle cx="691.1" cy="452.7" r="2.4"/><circle cx="665.6" cy="467.6" r="2.4"/><circle cx="726.5" cy="490.3" r="2.4"/><circle cx="694.3" cy="433.3" r="2.4"/><circle cx="702.8" cy="473.4" r="2.4"/><circle cx="636.4" cy="492.5" r="2.4"/><circle cx="673.9" cy="484.7" r="2.4"/><circle cx="648.5" cy="474.5" r="2.4"/><circle cx="672.8" cy="396.3" r="2.4"/><circle cx="682.4" cy="486.6" r="2.4"/><circle cx="674.7" cy="453.9" r="2.4"/><circle cx="724.5" cy="449.4" r="2.4"/><circle cx="667.2" cy="483.2" r="2.4"/><circle cx="662.1" cy="472.8" r="2.4"/><circle cx="672.4" cy="436.8" r="2.4"/><circle cx="662.1" cy="428" r="2.4"/><circle cx="677.7" cy="496.6" r="2.4"/><circle cx="722" cy="522.1" r="2.4"/><circle cx="676.1" cy="467.1" r="2.4"/><circle cx="670.1" cy="453.1" r="2.4"/><circle cx="636.4" cy="454.9" r="2.4"/><circle cx="709.3" cy="475.9" r="2.4"/><circle cx="736.4" cy="456.2" r="2.4"/><circle cx="663.7" cy="454.5" r="2.4"/><circle cx="676.1" cy="492.9" r="2.4"/><circle cx="768" cy="500" r="2.4"/><circle cx="711.6" cy="457.5" r="2.4"/><circle cx="703.8" cy="473.3" r="2.4"/><circle cx="725" cy="481.8" r="2.4"/><circle cx="680.9" cy="473.1" r="2.4"/><circle cx="698.3" cy="461.9" r="2.4"/><circle cx="687.3" cy="484.5" r="2.4"/><circle cx="680.1" cy="506" r="2.4"/><circle cx="732" cy="440.2" r="2.4"/><circle cx="679.3" cy="489.4" r="2.4"/><circle cx="693.7" cy="460.9" r="2.4"/><circle cx="689.6" cy="442.2" r="2.4"/><circle cx="722.2" cy="474.9" r="2.4"/><circle cx="685.9" cy="503.2" r="2.4"/><circle cx="688.9" cy="461.5" r="2.4"/><circle cx="696.3" cy="425.6" r="2.4"/><circle cx="715" cy="454.2" r="2.4"/><circle cx="690" cy="482.7" r="2.4"/><circle cx="699.3" cy="513.9" r="2.4"/><circle cx="676.6" cy="477.1" r="2.4"/><circle cx="656.6" cy="487.4" r="2.4"/><circle cx="684.2" cy="426.3" r="2.4"/><circle cx="679.4" cy="409.6" r="2.4"/><circle cx="703.7" cy="435.6" r="2.4"/><circle cx="671.8" cy="497.5" r="2.4"/><circle cx="671" cy="468.6" r="2.4"/><circle cx="693.1" cy="477.4" r="2.4"/><circle cx="712.6" cy="474.5" r="2.4"/><circle cx="714.4" cy="474.8" r="2.4"/><circle cx="681.9" cy="501.9" r="2.4"/><circle cx="722.9" cy="478.3" r="2.4"/><circle cx="658.7" cy="462.4" r="2.4"/><circle cx="690.4" cy="487.6" r="2.4"/><circle cx="707" cy="497.8" r="2.4"/><circle cx="657" cy="418.9" r="2.4"/><circle cx="664.1" cy="462.5" r="2.4"/><circle cx="669" cy="444.6" r="2.4"/><circle cx="652.9" cy="477.8" r="2.4"/><circle cx="649.6" cy="495.4" r="2.4"/><circle cx="729.8" cy="459.1" r="2.4"/><circle cx="660.5" cy="470.2" r="2.4"/><circle cx="689.7" cy="409.9" r="2.4"/><circle cx="708.1" cy="423.5" r="2.4"/><circle cx="695.8" cy="452.7" r="2.4"/><circle cx="747.8" cy="439.3" r="2.4"/><circle cx="670.7" cy="435.7" r="2.4"/><circle cx="678.8" cy="463.5" r="2.4"/><circle cx="696.3" cy="395.1" r="2.4"/><circle cx="715.7" cy="456.6" r="2.4"/><circle cx="688.6" cy="429.2" r="2.4"/><circle cx="690.9" cy="429.2" r="2.4"/><circle cx="710" cy="491.5" r="2.4"/><circle cx="673.5" cy="476.4" r="2.4"/><circle cx="622.8" cy="459.3" r="2.4"/><circle cx="675.4" cy="489" r="2.4"/><circle cx="669.7" cy="467.3" r="2.4"/><circle cx="687" cy="492.2" r="2.4"/><circle cx="692.6" cy="431" r="2.4"/><circle cx="702.8" cy="457.7" r="2.4"/><circle cx="719.6" cy="441.7" r="2.4"/><circle cx="670.9" cy="465.9" r="2.4"/><circle cx="670" cy="464.3" r="2.4"/><circle cx="696.9" cy="455.2" r="2.4"/><circle cx="671.4" cy="443.7" r="2.4"/><circle cx="716.9" cy="480.8" r="2.4"/><circle cx="687.3" cy="448.2" r="2.4"/><circle cx="677.3" cy="511.3" r="2.4"/><circle cx="663.2" cy="482.9" r="2.4"/><circle cx="714" cy="481.2" r="2.4"/><circle cx="676.5" cy="466.4" r="2.4"/><circle cx="705.2" cy="458.2" r="2.4"/><circle cx="690.7" cy="474.7" r="2.4"/></g>
<g opacity="0.06"><polyline points="600,450 606.1,451.1 612.3,452.1 618.4,453.2 624.5,454.2 630.6,455.2 636.8,456.2 642.9,457.2 649,458.2 655.1,459.2 661.3,460.2 667.4,461.1 673.5,461.9 679.6,462.7 685.8,463.3 691.9,463.8 698,464.2 704.2,464.5 710.3,464.8 716.4,464.9 722.5,465.1 728.7,465.2 734.8,465.2 740.9,465.3 747,465.4 753.2,465.4 759.3,465.5 765.4,465.5 771.5,465.5 777.7,465.6 783.8,465.6" fill="none" stroke="#111" stroke-width="0.9" stroke-dasharray="2.4 1"/><polyline points="600,465.9 606.1,465.9 612.3,466 618.4,466 624.5,466.1 630.6,466.1 636.8,466.2 642.9,466.2 649,466.3 655.1,466.4 661.3,466.6 667.4,466.7 673.5,467 679.6,467.3 685.8,467.7 691.9,468.3 698,468.9 704.2,469.7 710.3,470.6 716.4,471.5 722.5,472.4 728.7,473.4 734.8,474.4 740.9,475.4 747,476.4 753.2,477.5 759.3,478.5 765.4,479.6 771.5,480.6 777.7,481.6 783.8,482.7" fill="none" stroke="#111" stroke-width="0.9" stroke-dasharray="2.4 1"/><line x1="600" y1="458" x2="783.8" y2="474.1" stroke="#111" stroke-width="1.3"/></g>
<path d="M600 371.9V557.3H784.4" fill="none" stroke="#000" stroke-width="1.4"/>
<path d="M600 557.3h-5.8M600 511.1h-5.8M600 464.9h-5.8M600 418.7h-5.8M600 372.5h-5.8M600 557.3v5.8M636.8 557.3v5.8M673.5 557.3v5.8M710.3 557.3v5.8M747 557.3v5.8M783.8 557.3v5.8" fill="none" stroke="#000" stroke-width="1.4"/>
<g font-size="11.7" fill="#000" class="s">
<text x="592.4" y="561.5" text-anchor="end">-20</text>
<text x="592.4" y="515.3" text-anchor="end">-10</text>
<text x="592.4" y="469.1" text-anchor="end">0</text>
<text x="592.4" y="422.9" text-anchor="end">10</text>
<text x="592.4" y="376.7" text-anchor="end">20</text>
<text x="600" y="576.3" text-anchor="middle">50</text>
<text x="636.8" y="576.3" text-anchor="middle">60</text>
<text x="673.5" y="576.3" text-anchor="middle">70</text>
<text x="710.3" y="576.3" text-anchor="middle">80</text>
<text x="747" y="576.3" text-anchor="middle">90</text>
<text x="783.8" y="576.3" text-anchor="middle">100</text>
</g>
<text x="691.9" y="597.8" text-anchor="middle" font-size="16.6" fill="#000">Chronological age</text>
<text transform="translate(570.7 463) rotate(-90) scale(0.9340 1)" text-anchor="middle" font-size="15" fill="#000" class="dj2">Brain age gap (corrected)</text>
<text x="560.3" y="350.6" font-size="28" fill="#000">f</text>
<text x="783.5" y="369.2" text-anchor="end" font-size="11.6" fill="#000" class="s">MAE = 3.6279</text>
<text x="783.5" y="383.9" text-anchor="end" font-size="11.6" fill="#000" class="s">Spearman r = -0.1012</text>
</g>
<g>
<polyline points="867.7,526.5 873.8,522 879.9,517.5 886.1,513.1 892.2,508.6 898.3,504.1 904.4,499.6 910.6,495.2 916.7,490.7 922.8,486.2 928.9,481.7 935.1,477.2 941.2,472.7 947.3,468.2 953.4,463.7 959.6,459.1 965.7,454.6 971.8,450 977.9,445.3 984,440.7 990.2,436 996.3,431.2 1002.4,426.4 1008.5,421.6 1014.7,416.8 1020.8,412 1026.9,407.2 1033,402.4 1039.2,397.6 1045.3,392.7 1051.4,387.9" fill="none" stroke="#111" stroke-width="0.9" stroke-dasharray="2.4 1"/>
<polyline points="867.7,533.6 873.8,528.8 879.9,523.9 886.1,519.1 892.2,514.2 898.3,509.4 904.4,504.6 910.6,499.7 916.7,494.9 922.8,490.1 928.9,485.2 935.1,480.4 941.2,475.6 947.3,470.8 953.4,466 959.6,461.3 965.7,456.5 971.8,451.8 977.9,447.1 984,442.5 990.2,437.9 996.3,433.3 1002.4,428.8 1008.5,424.3 1014.7,419.7 1020.8,415.2 1026.9,410.7 1033,406.3 1039.2,401.8 1045.3,397.3 1051.4,392.8" fill="none" stroke="#111" stroke-width="0.9" stroke-dasharray="2.4 1"/>
<line x1="867.7" y1="530" x2="1051.4" y2="390.4" stroke="#1a1a1a" stroke-width="1.3"/>
<g fill="#2e9579" fill-opacity="0.62" stroke="#0c4034" stroke-width="0.95"><circle cx="970.6" cy="459.2" r="2.4"/><circle cx="998.5" cy="417.7" r="2.4"/><circle cx="1014.3" cy="412.2" r="2.4"/><circle cx="959.6" cy="477.7" r="2.4"/><circle cx="1025.8" cy="403.2" r="2.4"/><circle cx="967.2" cy="457" r="2.4"/><circle cx="996.8" cy="424.8" r="2.4"/><circle cx="976" cy="439" r="2.4"/><circle cx="908.8" cy="497.4" r="2.4"/><circle cx="1024.1" cy="413.7" r="2.4"/><circle cx="941.9" cy="464.5" r="2.4"/><circle cx="991.3" cy="440.8" r="2.4"/><circle cx="960.9" cy="443.5" r="2.4"/><circle cx="984.4" cy="443.7" r="2.4"/><circle cx="1008.3" cy="417.8" r="2.4"/><circle cx="936" cy="490.3" r="2.4"/><circle cx="1033" cy="399.2" r="2.4"/><circle cx="979.1" cy="436.7" r="2.4"/><circle cx="951.2" cy="483.6" r="2.4"/><circle cx="971.5" cy="453" r="2.4"/><circle cx="999.7" cy="435.2" r="2.4"/><circle cx="1002.7" cy="415" r="2.4"/><circle cx="1005.7" cy="430.1" r="2.4"/><circle cx="959.5" cy="458.5" r="2.4"/><circle cx="1012.5" cy="423.3" r="2.4"/><circle cx="934.2" cy="476.7" r="2.4"/><circle cx="1018.6" cy="433.2" r="2.4"/><circle cx="924.5" cy="495.5" r="2.4"/><circle cx="963.1" cy="450.5" r="2.4"/><circle cx="975.1" cy="434.8" r="2.4"/><circle cx="999.6" cy="444.3" r="2.4"/><circle cx="977.6" cy="452.4" r="2.4"/><circle cx="994.2" cy="439.6" r="2.4"/><circle cx="1018.7" cy="414.2" r="2.4"/><circle cx="977.4" cy="462.9" r="2.4"/><circle cx="980.5" cy="450.8" r="2.4"/><circle cx="957.9" cy="450.7" r="2.4"/><circle cx="1007.5" cy="418.8" r="2.4"/><circle cx="951.9" cy="457.3" r="2.4"/><circle cx="986" cy="456.6" r="2.4"/><circle cx="979.5" cy="438.3" r="2.4"/><circle cx="988.8" cy="435.1" r="2.4"/><circle cx="883.9" cy="508.2" r="2.4"/><circle cx="995.9" cy="443.1" r="2.4"/><circle cx="906.4" cy="487.6" r="2.4"/><circle cx="985" cy="457.4" r="2.4"/><circle cx="954" cy="479.4" r="2.4"/><circle cx="950.8" cy="482.9" r="2.4"/><circle cx="950" cy="458.8" r="2.4"/><circle cx="962.2" cy="475.5" r="2.4"/><circle cx="994.2" cy="421.6" r="2.4"/><circle cx="938.5" cy="490.9" r="2.4"/><circle cx="957.5" cy="469.6" r="2.4"/><circle cx="951.2" cy="458.8" r="2.4"/><circle cx="984.4" cy="438.1" r="2.4"/><circle cx="995.5" cy="444.5" r="2.4"/><circle cx="971.1" cy="456.1" r="2.4"/><circle cx="965" cy="457.5" r="2.4"/><circle cx="970.7" cy="440.7" r="2.4"/><circle cx="969.6" cy="447.2" r="2.4"/><circle cx="933.1" cy="486.3" r="2.4"/><circle cx="941.4" cy="475.7" r="2.4"/><circle cx="991.3" cy="443" r="2.4"/><circle cx="884.4" cy="479.3" r="2.4"/><circle cx="995.6" cy="447.6" r="2.4"/><circle cx="999.1" cy="429.7" r="2.4"/><circle cx="939.8" cy="485.6" r="2.4"/><circle cx="997.5" cy="433.4" r="2.4"/><circle cx="1019.9" cy="409.9" r="2.4"/><circle cx="1017.5" cy="407.1" r="2.4"/><circle cx="965.7" cy="428.3" r="2.4"/><circle cx="998.5" cy="428.1" r="2.4"/><circle cx="966.7" cy="450.5" r="2.4"/><circle cx="990.6" cy="420.9" r="2.4"/><circle cx="984" cy="442.5" r="2.4"/><circle cx="967.4" cy="470" r="2.4"/><circle cx="968.8" cy="445.8" r="2.4"/><circle cx="1027.4" cy="415.8" r="2.4"/><circle cx="950" cy="468.7" r="2.4"/><circle cx="934.3" cy="497" r="2.4"/><circle cx="1006" cy="417.4" r="2.4"/><circle cx="965.9" cy="445.7" r="2.4"/><circle cx="1009" cy="429.2" r="2.4"/><circle cx="958.6" cy="455.3" r="2.4"/><circle cx="991.3" cy="439.7" r="2.4"/><circle cx="949.8" cy="458" r="2.4"/><circle cx="942.7" cy="467.8" r="2.4"/><circle cx="922.3" cy="487.2" r="2.4"/><circle cx="1009" cy="409.4" r="2.4"/><circle cx="989.2" cy="435.7" r="2.4"/><circle cx="912.5" cy="488.9" r="2.4"/><circle cx="970.5" cy="458.9" r="2.4"/><circle cx="982" cy="430.1" r="2.4"/><circle cx="934.1" cy="477.3" r="2.4"/><circle cx="985.5" cy="434.3" r="2.4"/><circle cx="948.2" cy="470.7" r="2.4"/><circle cx="948.4" cy="459.8" r="2.4"/><circle cx="970.6" cy="438.5" r="2.4"/><circle cx="1006.5" cy="413.8" r="2.4"/><circle cx="970.6" cy="451.2" r="2.4"/><circle cx="987.8" cy="424.6" r="2.4"/><circle cx="1008.8" cy="414.4" r="2.4"/><circle cx="1010.7" cy="414.2" r="2.4"/><circle cx="959.6" cy="466.2" r="2.4"/><circle cx="943.8" cy="479.1" r="2.4"/><circle cx="966" cy="461.2" r="2.4"/><circle cx="990.9" cy="420.2" r="2.4"/><circle cx="945.3" cy="480.8" r="2.4"/><circle cx="966.4" cy="460" r="2.4"/><circle cx="1018.4" cy="412.9" r="2.4"/><circle cx="980.9" cy="432.6" r="2.4"/><circle cx="1003.7" cy="432.8" r="2.4"/><circle cx="995.2" cy="441.2" r="2.4"/><circle cx="955.2" cy="465.7" r="2.4"/><circle cx="985.8" cy="435" r="2.4"/><circle cx="1012.6" cy="428.7" r="2.4"/><circle cx="1008.3" cy="417.8" r="2.4"/><circle cx="1015.9" cy="416.1" r="2.4"/><circle cx="990.8" cy="433.7" r="2.4"/><circle cx="999.8" cy="416.7" r="2.4"/><circle cx="964.7" cy="432.3" r="2.4"/><circle cx="941.5" cy="477.6" r="2.4"/><circle cx="952.7" cy="467.8" r="2.4"/><circle cx="1026.3" cy="405.3" r="2.4"/><circle cx="935.2" cy="486.4" r="2.4"/><circle cx="945.8" cy="459.7" r="2.4"/><circle cx="931.6" cy="497.7" r="2.4"/><circle cx="982.6" cy="443.1" r="2.4"/><circle cx="1000.8" cy="434.2" r="2.4"/><circle cx="1012.6" cy="410.5" r="2.4"/><circle cx="947.3" cy="454.8" r="2.4"/><circle cx="995.3" cy="438.9" r="2.4"/><circle cx="993" cy="434.4" r="2.4"/><circle cx="1008.3" cy="408.7" r="2.4"/><circle cx="970.5" cy="449.6" r="2.4"/><circle cx="951.5" cy="475.2" r="2.4"/><circle cx="958.4" cy="446.7" r="2.4"/><circle cx="947.4" cy="478.5" r="2.4"/><circle cx="997.3" cy="413.4" r="2.4"/><circle cx="935.7" cy="485" r="2.4"/><circle cx="1007.4" cy="422.4" r="2.4"/><circle cx="953.1" cy="466.4" r="2.4"/><circle cx="998.9" cy="434.8" r="2.4"/><circle cx="963.4" cy="461.7" r="2.4"/><circle cx="1006.3" cy="426.9" r="2.4"/><circle cx="1011.3" cy="421" r="2.4"/><circle cx="1002.8" cy="441.2" r="2.4"/><circle cx="1008.1" cy="411.7" r="2.4"/><circle cx="994.9" cy="417.1" r="2.4"/><circle cx="999.8" cy="424.6" r="2.4"/><circle cx="952.3" cy="481.9" r="2.4"/><circle cx="912.5" cy="494.8" r="2.4"/><circle cx="993.6" cy="439.1" r="2.4"/><circle cx="957.6" cy="447.9" r="2.4"/><circle cx="945.8" cy="458.3" r="2.4"/><circle cx="986.5" cy="442" r="2.4"/><circle cx="959.4" cy="458.9" r="2.4"/><circle cx="1006.8" cy="412.9" r="2.4"/><circle cx="1021" cy="417.9" r="2.4"/><circle cx="948.9" cy="471.3" r="2.4"/><circle cx="984" cy="432.4" r="2.4"/><circle cx="978.4" cy="423.7" r="2.4"/><circle cx="942.3" cy="478.2" r="2.4"/><circle cx="1010.9" cy="425.3" r="2.4"/><circle cx="917.4" cy="500.4" r="2.4"/><circle cx="1021.9" cy="408.2" r="2.4"/><circle cx="961.5" cy="465.6" r="2.4"/><circle cx="947.4" cy="473.7" r="2.4"/><circle cx="976.7" cy="439.6" r="2.4"/><circle cx="945.3" cy="474.3" r="2.4"/><circle cx="993.2" cy="437.5" r="2.4"/><circle cx="974.1" cy="462.6" r="2.4"/><circle cx="989" cy="434.6" r="2.4"/><circle cx="963.9" cy="470.1" r="2.4"/><circle cx="996.8" cy="437.8" r="2.4"/><circle cx="937.8" cy="465.8" r="2.4"/><circle cx="995.4" cy="420.9" r="2.4"/><circle cx="941.8" cy="485.6" r="2.4"/><circle cx="1026.8" cy="409.6" r="2.4"/><circle cx="1002.6" cy="419.1" r="2.4"/><circle cx="940.8" cy="468.9" r="2.4"/><circle cx="984.2" cy="426.4" r="2.4"/><circle cx="974.8" cy="457" r="2.4"/><circle cx="941.1" cy="477.6" r="2.4"/><circle cx="962.2" cy="455.5" r="2.4"/><circle cx="1027.4" cy="389.9" r="2.4"/><circle cx="993.7" cy="439.6" r="2.4"/><circle cx="974.2" cy="454" r="2.4"/><circle cx="985.3" cy="442.8" r="2.4"/><circle cx="1007.3" cy="425.3" r="2.4"/><circle cx="973" cy="444.9" r="2.4"/><circle cx="976.1" cy="444.1" r="2.4"/><circle cx="996.9" cy="441.3" r="2.4"/><circle cx="999" cy="430.5" r="2.4"/><circle cx="942.4" cy="471.3" r="2.4"/><circle cx="1005.6" cy="423.1" r="2.4"/><circle cx="894.9" cy="496.7" r="2.4"/><circle cx="952.4" cy="471.6" r="2.4"/><circle cx="912.5" cy="506.8" r="2.4"/><circle cx="951.2" cy="468.3" r="2.4"/><circle cx="987.5" cy="437.5" r="2.4"/><circle cx="971" cy="456.5" r="2.4"/><circle cx="1005.6" cy="426.9" r="2.4"/><circle cx="904.9" cy="476.1" r="2.4"/><circle cx="949.7" cy="473.9" r="2.4"/><circle cx="994.8" cy="427.5" r="2.4"/><circle cx="1013.3" cy="414.6" r="2.4"/><circle cx="967" cy="454.6" r="2.4"/><circle cx="992.9" cy="436.2" r="2.4"/><circle cx="970.8" cy="460" r="2.4"/><circle cx="995.7" cy="424.4" r="2.4"/><circle cx="954.7" cy="469" r="2.4"/><circle cx="1010" cy="419.9" r="2.4"/><circle cx="959.8" cy="430.8" r="2.4"/><circle cx="993" cy="426.9" r="2.4"/><circle cx="994.9" cy="428.7" r="2.4"/><circle cx="1022" cy="408.4" r="2.4"/><circle cx="964.6" cy="454.1" r="2.4"/><circle cx="982.1" cy="442.1" r="2.4"/><circle cx="1026.4" cy="416.3" r="2.4"/><circle cx="950.3" cy="472" r="2.4"/><circle cx="1003.8" cy="428.6" r="2.4"/><circle cx="964.5" cy="458.1" r="2.4"/><circle cx="940.4" cy="468.2" r="2.4"/><circle cx="961.9" cy="466" r="2.4"/><circle cx="958.4" cy="454.7" r="2.4"/><circle cx="1004.1" cy="425.3" r="2.4"/><circle cx="1013.6" cy="416.6" r="2.4"/><circle cx="971" cy="443" r="2.4"/><circle cx="961.3" cy="457.9" r="2.4"/><circle cx="988.6" cy="440" r="2.4"/><circle cx="1015.6" cy="417.8" r="2.4"/><circle cx="1026.1" cy="408.6" r="2.4"/><circle cx="933.3" cy="493.2" r="2.4"/><circle cx="951.4" cy="478.6" r="2.4"/><circle cx="958.7" cy="449.1" r="2.4"/><circle cx="958.5" cy="459.3" r="2.4"/><circle cx="986.8" cy="441.8" r="2.4"/><circle cx="988" cy="458.7" r="2.4"/><circle cx="949.5" cy="478.4" r="2.4"/><circle cx="945.9" cy="479.1" r="2.4"/><circle cx="935.8" cy="490.4" r="2.4"/><circle cx="886.1" cy="510.4" r="2.4"/><circle cx="949.1" cy="478.1" r="2.4"/><circle cx="990.5" cy="438.9" r="2.4"/><circle cx="982.1" cy="452.8" r="2.4"/><circle cx="948.5" cy="490.3" r="2.4"/><circle cx="958.3" cy="487.4" r="2.4"/><circle cx="973.3" cy="454.3" r="2.4"/><circle cx="938.1" cy="472.6" r="2.4"/><circle cx="1016.8" cy="413.7" r="2.4"/><circle cx="1013.4" cy="409.9" r="2.4"/><circle cx="979.3" cy="454.6" r="2.4"/><circle cx="937.8" cy="497.6" r="2.4"/><circle cx="974.1" cy="439.5" r="2.4"/><circle cx="964.4" cy="441.3" r="2.4"/><circle cx="943.5" cy="487.5" r="2.4"/><circle cx="1005.8" cy="431.5" r="2.4"/><circle cx="961.2" cy="465.8" r="2.4"/><circle cx="948.6" cy="475.8" r="2.4"/><circle cx="900.3" cy="495.5" r="2.4"/><circle cx="965.2" cy="461.8" r="2.4"/><circle cx="944.9" cy="489.7" r="2.4"/><circle cx="1011.4" cy="409.5" r="2.4"/><circle cx="1004.6" cy="423.5" r="2.4"/><circle cx="997.3" cy="427.2" r="2.4"/><circle cx="951.8" cy="457.4" r="2.4"/><circle cx="1002.8" cy="437.7" r="2.4"/><circle cx="975.7" cy="468.8" r="2.4"/><circle cx="1007.6" cy="455.1" r="2.4"/><circle cx="1005.7" cy="429.4" r="2.4"/><circle cx="960.4" cy="471" r="2.4"/><circle cx="946.7" cy="464.1" r="2.4"/><circle cx="967.7" cy="449" r="2.4"/><circle cx="1024" cy="403.5" r="2.4"/><circle cx="963.5" cy="482.7" r="2.4"/><circle cx="1040.6" cy="384.8" r="2.4"/><circle cx="968.2" cy="458.9" r="2.4"/><circle cx="999.8" cy="437" r="2.4"/><circle cx="995.4" cy="423.5" r="2.4"/><circle cx="998.2" cy="440.7" r="2.4"/><circle cx="984" cy="449.6" r="2.4"/><circle cx="993.9" cy="422.1" r="2.4"/><circle cx="967.1" cy="453.5" r="2.4"/><circle cx="995.8" cy="423.1" r="2.4"/><circle cx="1016" cy="418.9" r="2.4"/><circle cx="935.8" cy="493.6" r="2.4"/><circle cx="956.1" cy="467.4" r="2.4"/><circle cx="987.3" cy="428.7" r="2.4"/><circle cx="1006.1" cy="424.3" r="2.4"/><circle cx="980.4" cy="442.6" r="2.4"/><circle cx="1019.7" cy="416.5" r="2.4"/><circle cx="1003" cy="409.4" r="2.4"/><circle cx="1011.5" cy="412.4" r="2.4"/><circle cx="1010.5" cy="436.9" r="2.4"/><circle cx="971.7" cy="452.6" r="2.4"/><circle cx="982.6" cy="443" r="2.4"/><circle cx="928.7" cy="465.3" r="2.4"/><circle cx="987" cy="434.1" r="2.4"/><circle cx="965.9" cy="450.1" r="2.4"/><circle cx="1009.6" cy="425.6" r="2.4"/><circle cx="964.6" cy="458" r="2.4"/><circle cx="932.6" cy="472.9" r="2.4"/><circle cx="955.3" cy="474.3" r="2.4"/><circle cx="1016.8" cy="413" r="2.4"/><circle cx="1006" cy="419.7" r="2.4"/><circle cx="970.5" cy="446.8" r="2.4"/><circle cx="943.6" cy="495.7" r="2.4"/><circle cx="986.4" cy="422.3" r="2.4"/><circle cx="991.8" cy="431.2" r="2.4"/><circle cx="1025.2" cy="407.1" r="2.4"/><circle cx="965.5" cy="470" r="2.4"/><circle cx="976.7" cy="459.9" r="2.4"/><circle cx="973.5" cy="478.8" r="2.4"/><circle cx="957.4" cy="468.3" r="2.4"/><circle cx="1010" cy="427.4" r="2.4"/><circle cx="979.6" cy="441.2" r="2.4"/><circle cx="1019.8" cy="428.1" r="2.4"/><circle cx="958" cy="450.2" r="2.4"/><circle cx="968.9" cy="451.2" r="2.4"/><circle cx="997.3" cy="449.4" r="2.4"/><circle cx="949.8" cy="480.4" r="2.4"/><circle cx="957.1" cy="464.3" r="2.4"/><circle cx="988.6" cy="440.3" r="2.4"/><circle cx="970.6" cy="464.5" r="2.4"/><circle cx="1023.9" cy="403.3" r="2.4"/><circle cx="985.8" cy="446.9" r="2.4"/><circle cx="999" cy="427.5" r="2.4"/><circle cx="959.7" cy="468" r="2.4"/><circle cx="1032.5" cy="400.2" r="2.4"/><circle cx="943.1" cy="469.2" r="2.4"/><circle cx="985" cy="455.5" r="2.4"/><circle cx="1028" cy="406.1" r="2.4"/><circle cx="986.4" cy="431.8" r="2.4"/><circle cx="935.1" cy="487.2" r="2.4"/><circle cx="973" cy="459.7" r="2.4"/><circle cx="993.6" cy="435.3" r="2.4"/><circle cx="962.1" cy="460.6" r="2.4"/><circle cx="981.4" cy="445.8" r="2.4"/><circle cx="1012.7" cy="407.3" r="2.4"/><circle cx="1002.2" cy="427.6" r="2.4"/><circle cx="1002.8" cy="436.9" r="2.4"/><circle cx="941.2" cy="478.5" r="2.4"/><circle cx="1004.5" cy="410.4" r="2.4"/><circle cx="1011.5" cy="422.6" r="2.4"/><circle cx="934.7" cy="485.5" r="2.4"/><circle cx="946.4" cy="478.9" r="2.4"/><circle cx="1006.2" cy="423.7" r="2.4"/><circle cx="1009.5" cy="421.5" r="2.4"/><circle cx="1018.9" cy="404.2" r="2.4"/><circle cx="948" cy="461.7" r="2.4"/><circle cx="984.5" cy="438.8" r="2.4"/><circle cx="1008.8" cy="408.5" r="2.4"/><circle cx="975.7" cy="449.1" r="2.4"/><circle cx="951.3" cy="470.2" r="2.4"/><circle cx="965.8" cy="455.4" r="2.4"/><circle cx="1028.6" cy="404.4" r="2.4"/><circle cx="977" cy="443.9" r="2.4"/><circle cx="1002" cy="430.7" r="2.4"/><circle cx="1007.2" cy="429.9" r="2.4"/><circle cx="956.3" cy="469" r="2.4"/><circle cx="950.5" cy="488.9" r="2.4"/><circle cx="958.9" cy="466.5" r="2.4"/><circle cx="986.2" cy="441.5" r="2.4"/><circle cx="983.5" cy="451.1" r="2.4"/><circle cx="1024.9" cy="398.4" r="2.4"/><circle cx="959.5" cy="457.8" r="2.4"/><circle cx="980.3" cy="430.2" r="2.4"/><circle cx="1004" cy="425.6" r="2.4"/><circle cx="938.2" cy="479.3" r="2.4"/><circle cx="941.2" cy="481.6" r="2.4"/><circle cx="995" cy="424.8" r="2.4"/><circle cx="960.4" cy="462" r="2.4"/><circle cx="959.8" cy="480" r="2.4"/><circle cx="909.8" cy="474.4" r="2.4"/><circle cx="988.9" cy="417.3" r="2.4"/><circle cx="988" cy="433.7" r="2.4"/><circle cx="944.8" cy="478.9" r="2.4"/><circle cx="1004.4" cy="424" r="2.4"/><circle cx="897.6" cy="492.3" r="2.4"/><circle cx="1008.1" cy="409.2" r="2.4"/><circle cx="986.3" cy="448.5" r="2.4"/><circle cx="972.8" cy="455.2" r="2.4"/><circle cx="970.3" cy="458.2" r="2.4"/><circle cx="1006.6" cy="423.1" r="2.4"/><circle cx="1022.6" cy="406.1" r="2.4"/><circle cx="960.5" cy="476.3" r="2.4"/><circle cx="1017.3" cy="404.5" r="2.4"/><circle cx="945.6" cy="480.2" r="2.4"/><circle cx="979.8" cy="444.9" r="2.4"/><circle cx="955.4" cy="453.2" r="2.4"/><circle cx="963.5" cy="458.3" r="2.4"/><circle cx="957.2" cy="461" r="2.4"/><circle cx="901.7" cy="498.4" r="2.4"/><circle cx="1021.9" cy="414.4" r="2.4"/><circle cx="998.1" cy="422.5" r="2.4"/><circle cx="925.3" cy="486.4" r="2.4"/><circle cx="935.4" cy="482.5" r="2.4"/><circle cx="956.9" cy="455.4" r="2.4"/><circle cx="957.5" cy="445.7" r="2.4"/><circle cx="976" cy="456.3" r="2.4"/><circle cx="991.7" cy="419.4" r="2.4"/><circle cx="1006.1" cy="429" r="2.4"/><circle cx="1025.7" cy="428.6" r="2.4"/><circle cx="963.6" cy="453.6" r="2.4"/><circle cx="956.3" cy="463.1" r="2.4"/><circle cx="995.6" cy="447.6" r="2.4"/><circle cx="963.7" cy="454.6" r="2.4"/><circle cx="1007.8" cy="416.1" r="2.4"/><circle cx="995.8" cy="439.1" r="2.4"/><circle cx="1007.4" cy="421.2" r="2.4"/><circle cx="1017.6" cy="419.1" r="2.4"/><circle cx="1020.6" cy="415" r="2.4"/><circle cx="950.6" cy="471.2" r="2.4"/><circle cx="997.8" cy="452.6" r="2.4"/><circle cx="969.8" cy="469" r="2.4"/></g>
<g opacity="0.06"><polyline points="867.7,526.5 873.8,522 879.9,517.5 886.1,513.1 892.2,508.6 898.3,504.1 904.4,499.6 910.6,495.2 916.7,490.7 922.8,486.2 928.9,481.7 935.1,477.2 941.2,472.7 947.3,468.2 953.4,463.7 959.6,459.1 965.7,454.6 971.8,450 977.9,445.3 984,440.7 990.2,436 996.3,431.2 1002.4,426.4 1008.5,421.6 1014.7,416.8 1020.8,412 1026.9,407.2 1033,402.4 1039.2,397.6 1045.3,392.7 1051.4,387.9" fill="none" stroke="#111" stroke-width="0.9" stroke-dasharray="2.4 1"/><polyline points="867.7,533.6 873.8,528.8 879.9,523.9 886.1,519.1 892.2,514.2 898.3,509.4 904.4,504.6 910.6,499.7 916.7,494.9 922.8,490.1 928.9,485.2 935.1,480.4 941.2,475.6 947.3,470.8 953.4,466 959.6,461.3 965.7,456.5 971.8,451.8 977.9,447.1 984,442.5 990.2,437.9 996.3,433.3 1002.4,428.8 1008.5,424.3 1014.7,419.7 1020.8,415.2 1026.9,410.7 1033,406.3 1039.2,401.8 1045.3,397.3 1051.4,392.8" fill="none" stroke="#111" stroke-width="0.9" stroke-dasharray="2.4 1"/><line x1="867.7" y1="530" x2="1051.4" y2="390.4" stroke="#111" stroke-width="1.3"/></g>
<path d="M867.7 372.6V557H1052" fill="none" stroke="#000" stroke-width="1.4"/>
<path d="M867.7 520.2h-5.8M867.7 471.2h-5.8M867.7 422.2h-5.8M867.7 373.2h-5.8M904.4 557v5.8M953.4 557v5.8M1002.4 557v5.8M1051.4 557v5.8" fill="none" stroke="#000" stroke-width="1.4"/>
<g font-size="11.7" fill="#000" class="s">
<text x="860.1" y="524.4" text-anchor="end">40</text>
<text x="860.1" y="475.4" text-anchor="end">60</text>
<text x="860.1" y="426.4" text-anchor="end">80</text>
<text x="860.1" y="377.4" text-anchor="end">100</text>
<text x="904.4" y="576.4" text-anchor="middle">40</text>
<text x="953.4" y="576.4" text-anchor="middle">60</text>
<text x="1002.4" y="576.4" text-anchor="middle">80</text>
<text x="1051.4" y="576.4" text-anchor="middle">100</text>
</g>
<text x="959.6" y="596.9" text-anchor="middle" font-size="16.6" fill="#000">Chronological age</text>
<text transform="translate(840.4 463.5) rotate(-90)" text-anchor="middle" font-size="16.5" fill="#000">Predicted brain age</text>
<text x="822.5" y="347.2" font-size="28" fill="#000">j</text>
<text x="1050" y="376.3" text-anchor="end" font-size="11.6" fill="#000" class="s">R<tspan dy="-4.4" font-size="8">2</tspan><tspan dy="4.4"> = 0.8313, β = 0.7600</tspan></text>
</g>
<g>
<line x1="1118.5" y1="474.4" x2="1301.9" y2="474.4" stroke="#e4e4e4" stroke-width="0.8"/>
<polyline points="1118.5,423.6 1124.6,426.3 1130.7,429.1 1136.8,431.9 1143,434.6 1149.1,437.4 1155.2,440.1 1161.3,442.8 1167.4,445.6 1173.5,448.3 1179.6,451.1 1185.7,453.8 1191.9,456.5 1198,459.2 1204.1,461.8 1210.2,464.5 1216.3,467.1 1222.4,469.6 1228.5,472.1 1234.7,474.5 1240.8,476.9 1246.9,479.2 1253,481.4 1259.1,483.7 1265.2,485.9 1271.3,488 1277.4,490.2 1283.6,492.4 1289.7,494.5 1295.8,496.7 1301.9,498.9" fill="none" stroke="#111" stroke-width="0.9" stroke-dasharray="2.4 1"/>
<polyline points="1118.5,435.5 1124.6,437.6 1130.7,439.7 1136.8,441.9 1143,444 1149.1,446.2 1155.2,448.3 1161.3,450.5 1167.4,452.6 1173.5,454.8 1179.6,456.9 1185.7,459.1 1191.9,461.3 1198,463.5 1204.1,465.7 1210.2,468 1216.3,470.3 1222.4,472.6 1228.5,475.1 1234.7,477.5 1240.8,480.1 1246.9,482.7 1253,485.3 1259.1,488 1265.2,490.7 1271.3,493.4 1277.4,496.1 1283.6,498.8 1289.7,501.6 1295.8,504.3 1301.9,507.1" fill="none" stroke="#111" stroke-width="0.9" stroke-dasharray="2.4 1"/>
<line x1="1118.5" y1="429.5" x2="1301.9" y2="503" stroke="#1a1a1a" stroke-width="1.3"/>
<g fill="#2e9579" fill-opacity="0.62" stroke="#0c4034" stroke-width="0.95"><circle cx="1221.3" cy="483" r="2.4"/><circle cx="1249.1" cy="460.3" r="2.4"/><circle cx="1264.9" cy="477.5" r="2.4"/><circle cx="1210.3" cy="495.5" r="2.4"/><circle cx="1276.3" cy="481.6" r="2.4"/><circle cx="1217.8" cy="473.6" r="2.4"/><circle cx="1247.4" cy="469.3" r="2.4"/><circle cx="1226.6" cy="458.5" r="2.4"/><circle cx="1159.6" cy="443.8" r="2.4"/><circle cx="1274.6" cy="496.3" r="2.4"/><circle cx="1192.6" cy="444.1" r="2.4"/><circle cx="1241.9" cy="486.9" r="2.4"/><circle cx="1211.5" cy="440.7" r="2.4"/><circle cx="1235" cy="480.3" r="2.4"/><circle cx="1258.9" cy="476.9" r="2.4"/><circle cx="1186.7" cy="477.3" r="2.4"/><circle cx="1283.6" cy="487" r="2.4"/><circle cx="1229.7" cy="459.7" r="2.4"/><circle cx="1201.9" cy="491.3" r="2.4"/><circle cx="1222.2" cy="474.2" r="2.4"/><circle cx="1250.3" cy="491.5" r="2.4"/><circle cx="1253.3" cy="462.9" r="2.4"/><circle cx="1256.2" cy="493" r="2.4"/><circle cx="1210.1" cy="463.2" r="2.4"/><circle cx="1263.1" cy="493" r="2.4"/><circle cx="1184.9" cy="451.5" r="2.4"/><circle cx="1269.1" cy="519.7" r="2.4"/><circle cx="1175.2" cy="466.6" r="2.4"/><circle cx="1213.8" cy="456.1" r="2.4"/><circle cx="1225.7" cy="449.8" r="2.4"/><circle cx="1250.2" cy="506.5" r="2.4"/><circle cx="1228.3" cy="483.4" r="2.4"/><circle cx="1244.8" cy="489.7" r="2.4"/><circle cx="1269.2" cy="488.1" r="2.4"/><circle cx="1228.1" cy="500.5" r="2.4"/><circle cx="1231.1" cy="485.4" r="2.4"/><circle cx="1208.6" cy="447.8" r="2.4"/><circle cx="1258.1" cy="477.2" r="2.4"/><circle cx="1202.6" cy="448.7" r="2.4"/><circle cx="1236.6" cy="504.2" r="2.4"/><circle cx="1230.1" cy="462.9" r="2.4"/><circle cx="1239.4" cy="473.2" r="2.4"/><circle cx="1134.6" cy="420.1" r="2.4"/><circle cx="1246.5" cy="498.3" r="2.4"/><circle cx="1157.1" cy="423.4" r="2.4"/><circle cx="1235.6" cy="504" r="2.4"/><circle cx="1204.7" cy="489.1" r="2.4"/><circle cx="1201.4" cy="489.4" r="2.4"/><circle cx="1200.6" cy="447.9" r="2.4"/><circle cx="1212.8" cy="496" r="2.4"/><circle cx="1244.8" cy="459.8" r="2.4"/><circle cx="1189.2" cy="482.3" r="2.4"/><circle cx="1208.2" cy="478.4" r="2.4"/><circle cx="1201.9" cy="450.1" r="2.4"/><circle cx="1235" cy="471" r="2.4"/><circle cx="1246.1" cy="500" r="2.4"/><circle cx="1221.8" cy="478.7" r="2.4"/><circle cx="1215.7" cy="471" r="2.4"/><circle cx="1221.3" cy="452.2" r="2.4"/><circle cx="1220.3" cy="461.5" r="2.4"/><circle cx="1183.7" cy="465.6" r="2.4"/><circle cx="1192.1" cy="461.8" r="2.4"/><circle cx="1241.9" cy="490.4" r="2.4"/><circle cx="1135.1" cy="372.8" r="2.4"/><circle cx="1246.2" cy="505.4" r="2.4"/><circle cx="1249.7" cy="481.4" r="2.4"/><circle cx="1190.5" cy="475.6" r="2.4"/><circle cx="1248.1" cy="484.8" r="2.4"/><circle cx="1270.5" cy="483" r="2.4"/><circle cx="1268" cy="474.3" r="2.4"/><circle cx="1216.3" cy="423.4" r="2.4"/><circle cx="1249.1" cy="477.6" r="2.4"/><circle cx="1217.3" cy="462" r="2.4"/><circle cx="1241.2" cy="452.5" r="2.4"/><circle cx="1234.6" cy="477.4" r="2.4"/><circle cx="1218" cy="495.6" r="2.4"/><circle cx="1219.4" cy="457.7" r="2.4"/><circle cx="1277.9" cy="505.4" r="2.4"/><circle cx="1200.6" cy="464.5" r="2.4"/><circle cx="1185" cy="485.4" r="2.4"/><circle cx="1256.5" cy="472.3" r="2.4"/><circle cx="1216.6" cy="452.7" r="2.4"/><circle cx="1259.6" cy="497" r="2.4"/><circle cx="1209.2" cy="456.5" r="2.4"/><circle cx="1241.9" cy="484.9" r="2.4"/><circle cx="1200.5" cy="446.3" r="2.4"/><circle cx="1193.4" cy="450.9" r="2.4"/><circle cx="1173" cy="449.1" r="2.4"/><circle cx="1259.6" cy="464.1" r="2.4"/><circle cx="1239.8" cy="474.8" r="2.4"/><circle cx="1163.2" cy="435.6" r="2.4"/><circle cx="1221.1" cy="482.4" r="2.4"/><circle cx="1232.6" cy="453.6" r="2.4"/><circle cx="1184.8" cy="452.4" r="2.4"/><circle cx="1236.1" cy="466.3" r="2.4"/><circle cx="1198.9" cy="464.8" r="2.4"/><circle cx="1199.1" cy="447" r="2.4"/><circle cx="1221.2" cy="448.6" r="2.4"/><circle cx="1257.1" cy="467.2" r="2.4"/><circle cx="1221.2" cy="469.6" r="2.4"/><circle cx="1238.4" cy="454" r="2.4"/><circle cx="1259.4" cy="472.1" r="2.4"/><circle cx="1261.3" cy="474.8" r="2.4"/><circle cx="1210.2" cy="476.2" r="2.4"/><circle cx="1194.5" cy="471.5" r="2.4"/><circle cx="1216.7" cy="478.7" r="2.4"/><circle cx="1241.5" cy="452" r="2.4"/><circle cx="1196" cy="476.8" r="2.4"/><circle cx="1217" cy="477.4" r="2.4"/><circle cx="1269" cy="485.6" r="2.4"/><circle cx="1231.5" cy="455.9" r="2.4"/><circle cx="1254.3" cy="494.1" r="2.4"/><circle cx="1245.7" cy="493.9" r="2.4"/><circle cx="1205.9" cy="468.2" r="2.4"/><circle cx="1236.4" cy="467.9" r="2.4"/><circle cx="1263.2" cy="502.3" r="2.4"/><circle cx="1258.9" cy="476.9" r="2.4"/><circle cx="1266.4" cy="486.6" r="2.4"/><circle cx="1241.4" cy="474.2" r="2.4"/><circle cx="1250.3" cy="460.8" r="2.4"/><circle cx="1215.3" cy="428.3" r="2.4"/><circle cx="1192.1" cy="465" r="2.4"/><circle cx="1203.4" cy="467.6" r="2.4"/><circle cx="1276.8" cy="486" r="2.4"/><circle cx="1185.9" cy="469.4" r="2.4"/><circle cx="1196.4" cy="442.4" r="2.4"/><circle cx="1182.3" cy="482.2" r="2.4"/><circle cx="1233.2" cy="476.2" r="2.4"/><circle cx="1251.4" cy="491.6" r="2.4"/><circle cx="1263.2" cy="471.9" r="2.4"/><circle cx="1198" cy="436.9" r="2.4"/><circle cx="1245.9" cy="490.4" r="2.4"/><circle cx="1243.6" cy="479.1" r="2.4"/><circle cx="1258.8" cy="461.7" r="2.4"/><circle cx="1221.2" cy="466.8" r="2.4"/><circle cx="1202.1" cy="477.8" r="2.4"/><circle cx="1209" cy="441.8" r="2.4"/><circle cx="1198.1" cy="476.5" r="2.4"/><circle cx="1247.9" cy="451.1" r="2.4"/><circle cx="1186.4" cy="467.8" r="2.4"/><circle cx="1258" cy="483.1" r="2.4"/><circle cx="1203.8" cy="465.9" r="2.4"/><circle cx="1249.5" cy="489.4" r="2.4"/><circle cx="1214.1" cy="475.3" r="2.4"/><circle cx="1256.9" cy="488.6" r="2.4"/><circle cx="1261.9" cy="487.3" r="2.4"/><circle cx="1253.4" cy="506.6" r="2.4"/><circle cx="1258.7" cy="466.5" r="2.4"/><circle cx="1245.5" cy="453.4" r="2.4"/><circle cx="1250.4" cy="474" r="2.4"/><circle cx="1202.9" cy="490.3" r="2.4"/><circle cx="1163.2" cy="445.4" r="2.4"/><circle cx="1244.2" cy="487.8" r="2.4"/><circle cx="1208.2" cy="442.5" r="2.4"/><circle cx="1196.5" cy="440.2" r="2.4"/><circle cx="1237.1" cy="480.8" r="2.4"/><circle cx="1210.1" cy="463.9" r="2.4"/><circle cx="1257.3" cy="466.2" r="2.4"/><circle cx="1271.5" cy="498.2" r="2.4"/><circle cx="1199.5" cy="467" r="2.4"/><circle cx="1234.6" cy="460.6" r="2.4"/><circle cx="1229" cy="436.9" r="2.4"/><circle cx="1192.9" cy="467.4" r="2.4"/><circle cx="1261.4" cy="493.6" r="2.4"/><circle cx="1168.1" cy="463" r="2.4"/><circle cx="1272.5" cy="483.5" r="2.4"/><circle cx="1212.2" cy="478.5" r="2.4"/><circle cx="1198.1" cy="468.5" r="2.4"/><circle cx="1227.3" cy="460.6" r="2.4"/><circle cx="1196" cy="466" r="2.4"/><circle cx="1243.8" cy="484.5" r="2.4"/><circle cx="1224.7" cy="494.5" r="2.4"/><circle cx="1239.6" cy="472.7" r="2.4"/><circle cx="1214.5" cy="489.9" r="2.4"/><circle cx="1247.4" cy="491" r="2.4"/><circle cx="1188.4" cy="439.3" r="2.4"/><circle cx="1245.9" cy="460.4" r="2.4"/><circle cx="1192.5" cy="478.9" r="2.4"/><circle cx="1277.3" cy="494" r="2.4"/><circle cx="1253.2" cy="469.6" r="2.4"/><circle cx="1191.4" cy="449.5" r="2.4"/><circle cx="1234.8" cy="451.1" r="2.4"/><circle cx="1225.5" cy="486.4" r="2.4"/><circle cx="1191.8" cy="464.5" r="2.4"/><circle cx="1212.8" cy="462.7" r="2.4"/><circle cx="1277.9" cy="462.2" r="2.4"/><circle cx="1244.3" cy="488.8" r="2.4"/><circle cx="1224.8" cy="480.3" r="2.4"/><circle cx="1236" cy="480.2" r="2.4"/><circle cx="1257.8" cy="487.6" r="2.4"/><circle cx="1223.6" cy="463.1" r="2.4"/><circle cx="1226.7" cy="467" r="2.4"/><circle cx="1247.5" cy="497" r="2.4"/><circle cx="1249.6" cy="482.6" r="2.4"/><circle cx="1193" cy="456.1" r="2.4"/><circle cx="1256.2" cy="481.2" r="2.4"/><circle cx="1145.6" cy="419.3" r="2.4"/><circle cx="1203" cy="473.3" r="2.4"/><circle cx="1163.2" cy="465.4" r="2.4"/><circle cx="1201.9" cy="465.9" r="2.4"/><circle cx="1238.1" cy="475" r="2.4"/><circle cx="1221.7" cy="479.2" r="2.4"/><circle cx="1256.2" cy="487.5" r="2.4"/><circle cx="1155.7" cy="401.8" r="2.4"/><circle cx="1200.4" cy="472.7" r="2.4"/><circle cx="1245.4" cy="470.4" r="2.4"/><circle cx="1263.9" cy="479.9" r="2.4"/><circle cx="1217.6" cy="469.2" r="2.4"/><circle cx="1243.5" cy="481.9" r="2.4"/><circle cx="1221.4" cy="484.6" r="2.4"/><circle cx="1246.3" cy="466.9" r="2.4"/><circle cx="1205.3" cy="472.8" r="2.4"/><circle cx="1260.6" cy="483.2" r="2.4"/><circle cx="1210.4" cy="417.7" r="2.4"/><circle cx="1243.6" cy="466.6" r="2.4"/><circle cx="1245.4" cy="472.6" r="2.4"/><circle cx="1272.6" cy="484" r="2.4"/><circle cx="1215.3" cy="464.6" r="2.4"/><circle cx="1232.7" cy="473.7" r="2.4"/><circle cx="1277" cy="504.6" r="2.4"/><circle cx="1201" cy="470.5" r="2.4"/><circle cx="1254.4" cy="487.4" r="2.4"/><circle cx="1215.2" cy="471" r="2.4"/><circle cx="1191" cy="447.6" r="2.4"/><circle cx="1212.6" cy="479.8" r="2.4"/><circle cx="1209.1" cy="455.2" r="2.4"/><circle cx="1254.6" cy="482.4" r="2.4"/><circle cx="1264.2" cy="483.7" r="2.4"/><circle cx="1221.6" cy="456.6" r="2.4"/><circle cx="1212" cy="465.3" r="2.4"/><circle cx="1239.2" cy="481" r="2.4"/><circle cx="1266.2" cy="489" r="2.4"/><circle cx="1276.6" cy="491.3" r="2.4"/><circle cx="1184" cy="477.5" r="2.4"/><circle cx="1202.1" cy="483.4" r="2.4"/><circle cx="1209.3" cy="446.2" r="2.4"/><circle cx="1209.2" cy="463" r="2.4"/><circle cx="1237.5" cy="481.1" r="2.4"/><circle cx="1238.6" cy="511.1" r="2.4"/><circle cx="1200.1" cy="479.8" r="2.4"/><circle cx="1196.6" cy="475.1" r="2.4"/><circle cx="1186.5" cy="476.9" r="2.4"/><circle cx="1136.8" cy="427.5" r="2.4"/><circle cx="1199.7" cy="478.5" r="2.4"/><circle cx="1241.1" cy="482.5" r="2.4"/><circle cx="1232.7" cy="491.5" r="2.4"/><circle cx="1199.2" cy="498.1" r="2.4"/><circle cx="1209" cy="509.5" r="2.4"/><circle cx="1224" cy="479.4" r="2.4"/><circle cx="1188.8" cy="451.2" r="2.4"/><circle cx="1267.3" cy="484.2" r="2.4"/><circle cx="1263.9" cy="472.1" r="2.4"/><circle cx="1229.9" cy="489.8" r="2.4"/><circle cx="1188.4" cy="492.1" r="2.4"/><circle cx="1224.8" cy="456" r="2.4"/><circle cx="1215" cy="442.8" r="2.4"/><circle cx="1194.2" cy="485.1" r="2.4"/><circle cx="1256.4" cy="495.6" r="2.4"/><circle cx="1211.8" cy="478.3" r="2.4"/><circle cx="1199.3" cy="474" r="2.4"/><circle cx="1151" cy="426.3" r="2.4"/><circle cx="1215.9" cy="478.4" r="2.4"/><circle cx="1195.5" cy="490.9" r="2.4"/><circle cx="1261.9" cy="468.2" r="2.4"/><circle cx="1255.1" cy="480.1" r="2.4"/><circle cx="1247.9" cy="474.3" r="2.4"/><circle cx="1202.5" cy="448.7" r="2.4"/><circle cx="1253.3" cy="500.8" r="2.4"/><circle cx="1226.3" cy="507.4" r="2.4"/><circle cx="1258.1" cy="537.6" r="2.4"/><circle cx="1256.3" cy="491.9" r="2.4"/><circle cx="1211" cy="485.6" r="2.4"/><circle cx="1197.4" cy="451.5" r="2.4"/><circle cx="1218.4" cy="461.2" r="2.4"/><circle cx="1274.5" cy="479.1" r="2.4"/><circle cx="1214.1" cy="510.3" r="2.4"/><circle cx="1291.1" cy="475.8" r="2.4"/><circle cx="1218.8" cy="478.4" r="2.4"/><circle cx="1250.4" cy="494.6" r="2.4"/><circle cx="1246" cy="464.8" r="2.4"/><circle cx="1248.8" cy="498" r="2.4"/><circle cx="1234.6" cy="489.3" r="2.4"/><circle cx="1244.5" cy="460" r="2.4"/><circle cx="1217.7" cy="467.7" r="2.4"/><circle cx="1246.4" cy="464.8" r="2.4"/><circle cx="1266.6" cy="491.6" r="2.4"/><circle cx="1186.5" cy="482.3" r="2.4"/><circle cx="1206.7" cy="472.4" r="2.4"/><circle cx="1237.9" cy="459.9" r="2.4"/><circle cx="1256.7" cy="484" r="2.4"/><circle cx="1231" cy="471.8" r="2.4"/><circle cx="1270.2" cy="493.7" r="2.4"/><circle cx="1253.6" cy="454.1" r="2.4"/><circle cx="1262.1" cy="473.3" r="2.4"/><circle cx="1261.1" cy="512.3" r="2.4"/><circle cx="1222.3" cy="473.8" r="2.4"/><circle cx="1233.2" cy="476.1" r="2.4"/><circle cx="1179.4" cy="423.4" r="2.4"/><circle cx="1237.6" cy="468.5" r="2.4"/><circle cx="1216.5" cy="460" r="2.4"/><circle cx="1260.2" cy="492" r="2.4"/><circle cx="1215.2" cy="471" r="2.4"/><circle cx="1183.3" cy="442.6" r="2.4"/><circle cx="1206" cy="482.6" r="2.4"/><circle cx="1267.4" cy="483.1" r="2.4"/><circle cx="1256.5" cy="476.2" r="2.4"/><circle cx="1221.1" cy="462.2" r="2.4"/><circle cx="1194.3" cy="498.9" r="2.4"/><circle cx="1237" cy="447.9" r="2.4"/><circle cx="1242.4" cy="471.7" r="2.4"/><circle cx="1275.7" cy="487.2" r="2.4"/><circle cx="1216.2" cy="492.4" r="2.4"/><circle cx="1227.3" cy="494.4" r="2.4"/><circle cx="1224.1" cy="520.5" r="2.4"/><circle cx="1208" cy="476" r="2.4"/><circle cx="1260.6" cy="495.7" r="2.4"/><circle cx="1230.2" cy="468" r="2.4"/><circle cx="1270.4" cy="513.2" r="2.4"/><circle cx="1208.7" cy="447.1" r="2.4"/><circle cx="1219.5" cy="466.9" r="2.4"/><circle cx="1247.9" cy="511.1" r="2.4"/><circle cx="1200.4" cy="483.6" r="2.4"/><circle cx="1207.7" cy="469" r="2.4"/><circle cx="1239.2" cy="481.5" r="2.4"/><circle cx="1221.3" cy="491.8" r="2.4"/><circle cx="1274.4" cy="478.7" r="2.4"/><circle cx="1236.4" cy="487.9" r="2.4"/><circle cx="1249.5" cy="477.5" r="2.4"/><circle cx="1210.3" cy="479.4" r="2.4"/><circle cx="1283.1" cy="487.9" r="2.4"/><circle cx="1193.8" cy="453.9" r="2.4"/><circle cx="1235.6" cy="500.8" r="2.4"/><circle cx="1278.5" cy="490.1" r="2.4"/><circle cx="1237" cy="463.7" r="2.4"/><circle cx="1185.8" cy="470.4" r="2.4"/><circle cx="1223.6" cy="487.8" r="2.4"/><circle cx="1244.2" cy="481.5" r="2.4"/><circle cx="1212.8" cy="471.1" r="2.4"/><circle cx="1232" cy="478.6" r="2.4"/><circle cx="1263.3" cy="466.7" r="2.4"/><circle cx="1252.8" cy="483" r="2.4"/><circle cx="1253.4" cy="499.4" r="2.4"/><circle cx="1191.9" cy="466.2" r="2.4"/><circle cx="1255.1" cy="458.2" r="2.4"/><circle cx="1262" cy="490.1" r="2.4"/><circle cx="1185.4" cy="467" r="2.4"/><circle cx="1197.1" cy="475.4" r="2.4"/><circle cx="1256.7" cy="483.1" r="2.4"/><circle cx="1260.1" cy="485.1" r="2.4"/><circle cx="1269.4" cy="471.9" r="2.4"/><circle cx="1198.7" cy="449.5" r="2.4"/><circle cx="1235.1" cy="472.1" r="2.4"/><circle cx="1259.4" cy="462.2" r="2.4"/><circle cx="1226.3" cy="474.6" r="2.4"/><circle cx="1202" cy="469.1" r="2.4"/><circle cx="1216.4" cy="468.7" r="2.4"/><circle cx="1279.2" cy="488.4" r="2.4"/><circle cx="1227.6" cy="468.1" r="2.4"/><circle cx="1252.6" cy="487.8" r="2.4"/><circle cx="1257.8" cy="495.2" r="2.4"/><circle cx="1207" cy="475.5" r="2.4"/><circle cx="1201.2" cy="498.9" r="2.4"/><circle cx="1209.6" cy="475.7" r="2.4"/><circle cx="1236.8" cy="479.5" r="2.4"/><circle cx="1234.2" cy="491" r="2.4"/><circle cx="1275.5" cy="472.4" r="2.4"/><circle cx="1210.2" cy="462.2" r="2.4"/><circle cx="1230.9" cy="450.7" r="2.4"/><circle cx="1254.6" cy="482.7" r="2.4"/><circle cx="1188.9" cy="462.5" r="2.4"/><circle cx="1191.9" cy="471.3" r="2.4"/><circle cx="1245.6" cy="466.5" r="2.4"/><circle cx="1211" cy="470.6" r="2.4"/><circle cx="1210.4" cy="499.7" r="2.4"/><circle cx="1160.6" cy="407.1" r="2.4"/><circle cx="1239.5" cy="443.8" r="2.4"/><circle cx="1238.6" cy="469.4" r="2.4"/><circle cx="1195.5" cy="472.8" r="2.4"/><circle cx="1255" cy="480.7" r="2.4"/><circle cx="1148.3" cy="416.5" r="2.4"/><circle cx="1258.6" cy="462.1" r="2.4"/><circle cx="1236.9" cy="491.4" r="2.4"/><circle cx="1223.5" cy="480" r="2.4"/><circle cx="1221" cy="480.9" r="2.4"/><circle cx="1257.2" cy="482.9" r="2.4"/><circle cx="1273.1" cy="481.2" r="2.4"/><circle cx="1211.2" cy="494.6" r="2.4"/><circle cx="1267.9" cy="469.8" r="2.4"/><circle cx="1196.2" cy="476.2" r="2.4"/><circle cx="1230.4" cy="474.6" r="2.4"/><circle cx="1206.1" cy="447.7" r="2.4"/><circle cx="1214.1" cy="469.6" r="2.4"/><circle cx="1207.8" cy="463.6" r="2.4"/><circle cx="1152.5" cy="433.6" r="2.4"/><circle cx="1272.4" cy="493.8" r="2.4"/><circle cx="1248.7" cy="467.7" r="2.4"/><circle cx="1176" cy="452.8" r="2.4"/><circle cx="1186.1" cy="463.1" r="2.4"/><circle cx="1207.5" cy="453.9" r="2.4"/><circle cx="1208.2" cy="438.7" r="2.4"/><circle cx="1226.7" cy="487.2" r="2.4"/><circle cx="1242.3" cy="451.9" r="2.4"/><circle cx="1256.7" cy="491.8" r="2.4"/><circle cx="1276.2" cy="523.8" r="2.4"/><circle cx="1214.3" cy="462.1" r="2.4"/><circle cx="1206.9" cy="465.7" r="2.4"/><circle cx="1246.2" cy="505.3" r="2.4"/><circle cx="1214.4" cy="463.8" r="2.4"/><circle cx="1258.4" cy="473.2" r="2.4"/><circle cx="1246.4" cy="491.5" r="2.4"/><circle cx="1257.9" cy="481" r="2.4"/><circle cx="1268.1" cy="494.5" r="2.4"/><circle cx="1271.2" cy="492.7" r="2.4"/><circle cx="1201.2" cy="469.7" r="2.4"/><circle cx="1248.3" cy="517.2" r="2.4"/><circle cx="1220.5" cy="498.1" r="2.4"/></g>
<g opacity="0.06"><polyline points="1118.5,423.6 1124.6,426.3 1130.7,429.1 1136.8,431.9 1143,434.6 1149.1,437.4 1155.2,440.1 1161.3,442.8 1167.4,445.6 1173.5,448.3 1179.6,451.1 1185.7,453.8 1191.9,456.5 1198,459.2 1204.1,461.8 1210.2,464.5 1216.3,467.1 1222.4,469.6 1228.5,472.1 1234.7,474.5 1240.8,476.9 1246.9,479.2 1253,481.4 1259.1,483.7 1265.2,485.9 1271.3,488 1277.4,490.2 1283.6,492.4 1289.7,494.5 1295.8,496.7 1301.9,498.9" fill="none" stroke="#111" stroke-width="0.9" stroke-dasharray="2.4 1"/><polyline points="1118.5,435.5 1124.6,437.6 1130.7,439.7 1136.8,441.9 1143,444 1149.1,446.2 1155.2,448.3 1161.3,450.5 1167.4,452.6 1173.5,454.8 1179.6,456.9 1185.7,459.1 1191.9,461.3 1198,463.5 1204.1,465.7 1210.2,468 1216.3,470.3 1222.4,472.6 1228.5,475.1 1234.7,477.5 1240.8,480.1 1246.9,482.7 1253,485.3 1259.1,488 1265.2,490.7 1271.3,493.4 1277.4,496.1 1283.6,498.8 1289.7,501.6 1295.8,504.3 1301.9,507.1" fill="none" stroke="#111" stroke-width="0.9" stroke-dasharray="2.4 1"/><line x1="1118.5" y1="429.5" x2="1301.9" y2="503" stroke="#111" stroke-width="1.3"/></g>
<path d="M1118.5 371.8V556H1302.5" fill="none" stroke="#000" stroke-width="1.4"/>
<path d="M1118.5 556h-5.8M1118.5 515.2h-5.8M1118.5 474.4h-5.8M1118.5 433.6h-5.8M1118.5 392.8h-5.8M1155.2 556v5.8M1204.1 556v5.8M1253 556v5.8M1301.9 556v5.8" fill="none" stroke="#000" stroke-width="1.4"/>
<g font-size="11.7" fill="#000" class="s">
<text x="1110.9" y="560.2" text-anchor="end">-20</text>
<text x="1110.9" y="519.4" text-anchor="end">-10</text>
<text x="1110.9" y="478.6" text-anchor="end">0</text>
<text x="1110.9" y="437.8" text-anchor="end">10</text>
<text x="1110.9" y="397" text-anchor="end">20</text>
<text x="1155.2" y="575.4" text-anchor="middle">40</text>
<text x="1204.1" y="575.4" text-anchor="middle">60</text>
<text x="1253" y="575.4" text-anchor="middle">80</text>
<text x="1301.9" y="575.4" text-anchor="middle">100</text>
</g>
<text x="1210.2" y="597" text-anchor="middle" font-size="16.6" fill="#000">Chronological age</text>
<text transform="translate(1090.6 464.5) rotate(-90) scale(0.9210 1)" text-anchor="middle" font-size="15" fill="#000" class="dj2">Brain age gap (uncorrected)</text>
<text x="1072.8" y="347.2" font-size="28" fill="#000">k</text>
<text x="1298.6" y="368.2" text-anchor="end" font-size="11.6" fill="#000" class="s">MAE = 3.3086</text>
<text x="1298.6" y="382.7" text-anchor="end" font-size="11.6" fill="#000" class="s">Spearman r = -0.4702</text>
</g>
<g>
<line x1="1369" y1="476.4" x2="1552.6" y2="476.4" stroke="#e4e4e4" stroke-width="0.8"/>
<polyline points="1369,470.5 1375.1,470.8 1381.2,471.1 1387.4,471.4 1393.5,471.7 1399.6,472 1405.7,472.3 1411.8,472.6 1418,472.9 1424.1,473.2 1430.2,473.5 1436.3,473.7 1442.4,474 1448.6,474.2 1454.7,474.5 1460.8,474.6 1466.9,474.8 1473,474.9 1479.2,474.9 1485.3,474.9 1491.4,474.8 1497.5,474.6 1503.6,474.5 1509.8,474.2 1515.9,474 1522,473.7 1528.1,473.5 1534.2,473.2 1540.4,472.9 1546.5,472.6 1552.6,472.3" fill="none" stroke="#111" stroke-width="0.9" stroke-dasharray="2.4 1"/>
<polyline points="1369,482.3 1375.1,482 1381.2,481.7 1387.4,481.4 1393.5,481.1 1399.6,480.8 1405.7,480.5 1411.8,480.2 1418,479.9 1424.1,479.6 1430.2,479.3 1436.3,479.1 1442.4,478.8 1448.6,478.6 1454.7,478.3 1460.8,478.2 1466.9,478 1473,477.9 1479.2,477.9 1485.3,477.9 1491.4,478 1497.5,478.2 1503.6,478.3 1509.8,478.6 1515.9,478.8 1522,479.1 1528.1,479.3 1534.2,479.6 1540.4,479.9 1546.5,480.2 1552.6,480.5" fill="none" stroke="#111" stroke-width="0.9" stroke-dasharray="2.4 1"/>
<line x1="1369" y1="476.4" x2="1552.6" y2="476.4" stroke="#1a1a1a" stroke-width="1.3"/>
<g fill="#2e9579" fill-opacity="0.62" stroke="#0c4034" stroke-width="0.95"><circle cx="1471.9" cy="487.7" r="2.4"/><circle cx="1499.7" cy="453.9" r="2.4"/><circle cx="1515.5" cy="464.9" r="2.4"/><circle cx="1460.9" cy="504.5" r="2.4"/><circle cx="1527" cy="464.5" r="2.4"/><circle cx="1468.4" cy="479.7" r="2.4"/><circle cx="1498" cy="463.7" r="2.4"/><circle cx="1477.3" cy="461" r="2.4"/><circle cx="1410.1" cy="473" r="2.4"/><circle cx="1525.3" cy="479.8" r="2.4"/><circle cx="1443.2" cy="460.2" r="2.4"/><circle cx="1492.6" cy="483.4" r="2.4"/><circle cx="1462.1" cy="449.3" r="2.4"/><circle cx="1485.7" cy="479.5" r="2.4"/><circle cx="1509.5" cy="466.6" r="2.4"/><circle cx="1437.3" cy="495.7" r="2.4"/><circle cx="1534.2" cy="467" r="2.4"/><circle cx="1480.4" cy="461.1" r="2.4"/><circle cx="1452.5" cy="503.7" r="2.4"/><circle cx="1472.8" cy="478.5" r="2.4"/><circle cx="1500.9" cy="484.6" r="2.4"/><circle cx="1503.9" cy="454.8" r="2.4"/><circle cx="1506.9" cy="483.8" r="2.4"/><circle cx="1460.7" cy="472.4" r="2.4"/><circle cx="1513.7" cy="481.1" r="2.4"/><circle cx="1435.5" cy="470.6" r="2.4"/><circle cx="1519.8" cy="505.4" r="2.4"/><circle cx="1425.8" cy="489.6" r="2.4"/><circle cx="1464.4" cy="463.7" r="2.4"/><circle cx="1476.3" cy="452.7" r="2.4"/><circle cx="1500.9" cy="499.7" r="2.4"/><circle cx="1478.9" cy="485.3" r="2.4"/><circle cx="1495.5" cy="485.1" r="2.4"/><circle cx="1519.9" cy="473.7" r="2.4"/><circle cx="1478.7" cy="502.5" r="2.4"/><circle cx="1481.7" cy="486.2" r="2.4"/><circle cx="1459.2" cy="457.5" r="2.4"/><circle cx="1508.7" cy="467.3" r="2.4"/><circle cx="1453.2" cy="460.8" r="2.4"/><circle cx="1487.2" cy="502.8" r="2.4"/><circle cx="1480.7" cy="464.1" r="2.4"/><circle cx="1490" cy="470.7" r="2.4"/><circle cx="1385.2" cy="459.2" r="2.4"/><circle cx="1497.1" cy="493" r="2.4"/><circle cx="1407.7" cy="453.6" r="2.4"/><circle cx="1486.3" cy="503" r="2.4"/><circle cx="1455.3" cy="500.3" r="2.4"/><circle cx="1452" cy="501.9" r="2.4"/><circle cx="1451.2" cy="460.8" r="2.4"/><circle cx="1463.4" cy="504.1" r="2.4"/><circle cx="1495.5" cy="455.2" r="2.4"/><circle cx="1439.8" cy="499.7" r="2.4"/><circle cx="1458.8" cy="488.3" r="2.4"/><circle cx="1452.5" cy="462.5" r="2.4"/><circle cx="1485.7" cy="470.2" r="2.4"/><circle cx="1496.7" cy="494.8" r="2.4"/><circle cx="1472.4" cy="483.2" r="2.4"/><circle cx="1466.3" cy="477.9" r="2.4"/><circle cx="1471.9" cy="456.9" r="2.4"/><circle cx="1470.9" cy="466.6" r="2.4"/><circle cx="1434.3" cy="485.2" r="2.4"/><circle cx="1442.7" cy="478.1" r="2.4"/><circle cx="1492.5" cy="487" r="2.4"/><circle cx="1385.6" cy="411.7" r="2.4"/><circle cx="1496.9" cy="500.1" r="2.4"/><circle cx="1500.3" cy="474.8" r="2.4"/><circle cx="1441.1" cy="492.5" r="2.4"/><circle cx="1498.7" cy="478.9" r="2.4"/><circle cx="1521.1" cy="468.2" r="2.4"/><circle cx="1518.7" cy="460.4" r="2.4"/><circle cx="1466.9" cy="430.1" r="2.4"/><circle cx="1499.7" cy="471.3" r="2.4"/><circle cx="1467.9" cy="468.2" r="2.4"/><circle cx="1491.9" cy="449.3" r="2.4"/><circle cx="1485.2" cy="476.8" r="2.4"/><circle cx="1468.6" cy="501.6" r="2.4"/><circle cx="1470" cy="463.1" r="2.4"/><circle cx="1528.6" cy="487.6" r="2.4"/><circle cx="1451.2" cy="477.3" r="2.4"/><circle cx="1435.6" cy="504.5" r="2.4"/><circle cx="1507.2" cy="463" r="2.4"/><circle cx="1467.2" cy="459.3" r="2.4"/><circle cx="1510.2" cy="486.5" r="2.4"/><circle cx="1459.8" cy="465.9" r="2.4"/><circle cx="1492.5" cy="481.4" r="2.4"/><circle cx="1451.1" cy="459.2" r="2.4"/><circle cx="1444" cy="466.6" r="2.4"/><circle cx="1423.6" cy="473" r="2.4"/><circle cx="1510.2" cy="453.5" r="2.4"/><circle cx="1490.4" cy="472.1" r="2.4"/><circle cx="1413.8" cy="463.4" r="2.4"/><circle cx="1471.7" cy="487.1" r="2.4"/><circle cx="1483.3" cy="453.7" r="2.4"/><circle cx="1435.4" cy="471.6" r="2.4"/><circle cx="1486.7" cy="465.1" r="2.4"/><circle cx="1449.4" cy="478.4" r="2.4"/><circle cx="1449.7" cy="460.5" r="2.4"/><circle cx="1471.9" cy="453.3" r="2.4"/><circle cx="1507.8" cy="457.7" r="2.4"/><circle cx="1471.9" cy="474.3" r="2.4"/><circle cx="1489" cy="451.9" r="2.4"/><circle cx="1510.1" cy="461.7" r="2.4"/><circle cx="1511.9" cy="463.6" r="2.4"/><circle cx="1460.8" cy="485.3" r="2.4"/><circle cx="1445.1" cy="486.9" r="2.4"/><circle cx="1467.3" cy="485.3" r="2.4"/><circle cx="1492.2" cy="448.6" r="2.4"/><circle cx="1446.5" cy="491.6" r="2.4"/><circle cx="1467.6" cy="483.8" r="2.4"/><circle cx="1519.6" cy="471.3" r="2.4"/><circle cx="1482.2" cy="456.5" r="2.4"/><circle cx="1504.9" cy="485.7" r="2.4"/><circle cx="1496.4" cy="488.9" r="2.4"/><circle cx="1456.5" cy="479" r="2.4"/><circle cx="1487" cy="466.6" r="2.4"/><circle cx="1513.9" cy="490.3" r="2.4"/><circle cx="1509.5" cy="466.7" r="2.4"/><circle cx="1517.1" cy="473.4" r="2.4"/><circle cx="1492" cy="470.9" r="2.4"/><circle cx="1501" cy="454" r="2.4"/><circle cx="1465.9" cy="435.3" r="2.4"/><circle cx="1442.7" cy="481.3" r="2.4"/><circle cx="1454" cy="479.4" r="2.4"/><circle cx="1527.5" cy="468.6" r="2.4"/><circle cx="1436.5" cy="488.2" r="2.4"/><circle cx="1447" cy="457" r="2.4"/><circle cx="1432.9" cy="502.3" r="2.4"/><circle cx="1483.9" cy="476.2" r="2.4"/><circle cx="1502" cy="484.3" r="2.4"/><circle cx="1513.8" cy="459.9" r="2.4"/><circle cx="1448.6" cy="450.8" r="2.4"/><circle cx="1496.5" cy="485.3" r="2.4"/><circle cx="1494.2" cy="474.9" r="2.4"/><circle cx="1509.5" cy="451.5" r="2.4"/><circle cx="1471.8" cy="471.5" r="2.4"/><circle cx="1452.7" cy="490" r="2.4"/><circle cx="1459.6" cy="451.4" r="2.4"/><circle cx="1448.7" cy="490.4" r="2.4"/><circle cx="1498.5" cy="445.3" r="2.4"/><circle cx="1437" cy="486.3" r="2.4"/><circle cx="1508.7" cy="473.2" r="2.4"/><circle cx="1454.4" cy="477.5" r="2.4"/><circle cx="1500.1" cy="482.9" r="2.4"/><circle cx="1464.7" cy="482.8" r="2.4"/><circle cx="1507.5" cy="479.2" r="2.4"/><circle cx="1512.6" cy="475.9" r="2.4"/><circle cx="1504.1" cy="498.6" r="2.4"/><circle cx="1509.3" cy="456.3" r="2.4"/><circle cx="1496.1" cy="448.5" r="2.4"/><circle cx="1501.1" cy="467.2" r="2.4"/><circle cx="1453.5" cy="502.3" r="2.4"/><circle cx="1413.8" cy="473.2" r="2.4"/><circle cx="1494.8" cy="483.4" r="2.4"/><circle cx="1458.8" cy="452.4" r="2.4"/><circle cx="1447" cy="454.7" r="2.4"/><circle cx="1487.7" cy="479.2" r="2.4"/><circle cx="1460.7" cy="473" r="2.4"/><circle cx="1508" cy="456.6" r="2.4"/><circle cx="1522.2" cy="483" r="2.4"/><circle cx="1450.1" cy="480.3" r="2.4"/><circle cx="1485.2" cy="460" r="2.4"/><circle cx="1479.6" cy="438.5" r="2.4"/><circle cx="1443.5" cy="483.4" r="2.4"/><circle cx="1512.1" cy="482.4" r="2.4"/><circle cx="1418.7" cy="488.8" r="2.4"/><circle cx="1523.2" cy="467.9" r="2.4"/><circle cx="1462.8" cy="486.8" r="2.4"/><circle cx="1448.7" cy="482.4" r="2.4"/><circle cx="1478" cy="462.8" r="2.4"/><circle cx="1446.6" cy="480.7" r="2.4"/><circle cx="1494.4" cy="480.2" r="2.4"/><circle cx="1475.3" cy="497.8" r="2.4"/><circle cx="1490.2" cy="470.1" r="2.4"/><circle cx="1465.1" cy="497.2" r="2.4"/><circle cx="1498.1" cy="485.3" r="2.4"/><circle cx="1439" cy="457" r="2.4"/><circle cx="1496.6" cy="455.3" r="2.4"/><circle cx="1443.1" cy="495.1" r="2.4"/><circle cx="1528" cy="476.4" r="2.4"/><circle cx="1503.9" cy="461.6" r="2.4"/><circle cx="1442" cy="466" r="2.4"/><circle cx="1485.5" cy="450.4" r="2.4"/><circle cx="1476.1" cy="489.4" r="2.4"/><circle cx="1442.4" cy="480.9" r="2.4"/><circle cx="1463.4" cy="470.8" r="2.4"/><circle cx="1528.6" cy="444.4" r="2.4"/><circle cx="1494.9" cy="484.4" r="2.4"/><circle cx="1475.4" cy="483.6" r="2.4"/><circle cx="1486.6" cy="479.1" r="2.4"/><circle cx="1508.5" cy="477.8" r="2.4"/><circle cx="1474.2" cy="466.9" r="2.4"/><circle cx="1477.3" cy="469.6" r="2.4"/><circle cx="1498.2" cy="491.2" r="2.4"/><circle cx="1500.2" cy="476.1" r="2.4"/><circle cx="1443.6" cy="472" r="2.4"/><circle cx="1506.8" cy="472" r="2.4"/><circle cx="1396.2" cy="454" r="2.4"/><circle cx="1453.6" cy="485.2" r="2.4"/><circle cx="1413.8" cy="493.2" r="2.4"/><circle cx="1452.5" cy="478.3" r="2.4"/><circle cx="1488.7" cy="473" r="2.4"/><circle cx="1472.3" cy="483.7" r="2.4"/><circle cx="1506.8" cy="478.3" r="2.4"/><circle cx="1406.2" cy="432.5" r="2.4"/><circle cx="1451" cy="485.7" r="2.4"/><circle cx="1496" cy="465.5" r="2.4"/><circle cx="1514.5" cy="467.7" r="2.4"/><circle cx="1468.2" cy="475.4" r="2.4"/><circle cx="1494.2" cy="477.7" r="2.4"/><circle cx="1472" cy="489.3" r="2.4"/><circle cx="1496.9" cy="461.6" r="2.4"/><circle cx="1455.9" cy="483.8" r="2.4"/><circle cx="1511.2" cy="472.3" r="2.4"/><circle cx="1461" cy="426.7" r="2.4"/><circle cx="1494.2" cy="462.5" r="2.4"/><circle cx="1496.1" cy="467.7" r="2.4"/><circle cx="1523.3" cy="468.4" r="2.4"/><circle cx="1465.9" cy="471.7" r="2.4"/><circle cx="1483.3" cy="473.8" r="2.4"/><circle cx="1527.6" cy="487.2" r="2.4"/><circle cx="1451.5" cy="483.2" r="2.4"/><circle cx="1505" cy="478.9" r="2.4"/><circle cx="1465.8" cy="478.1" r="2.4"/><circle cx="1441.6" cy="464.3" r="2.4"/><circle cx="1463.2" cy="488" r="2.4"/><circle cx="1459.7" cy="464.7" r="2.4"/><circle cx="1505.3" cy="473.8" r="2.4"/><circle cx="1514.8" cy="471.3" r="2.4"/><circle cx="1472.2" cy="461.1" r="2.4"/><circle cx="1462.6" cy="473.7" r="2.4"/><circle cx="1489.8" cy="478.6" r="2.4"/><circle cx="1516.8" cy="475.8" r="2.4"/><circle cx="1527.3" cy="474" r="2.4"/><circle cx="1434.6" cy="497" r="2.4"/><circle cx="1452.7" cy="495.7" r="2.4"/><circle cx="1459.9" cy="455.7" r="2.4"/><circle cx="1459.8" cy="472.5" r="2.4"/><circle cx="1488.1" cy="479.3" r="2.4"/><circle cx="1489.2" cy="508.9" r="2.4"/><circle cx="1450.7" cy="492.9" r="2.4"/><circle cx="1447.2" cy="489.6" r="2.4"/><circle cx="1437" cy="495.4" r="2.4"/><circle cx="1387.4" cy="465.7" r="2.4"/><circle cx="1450.3" cy="491.8" r="2.4"/><circle cx="1491.8" cy="479.3" r="2.4"/><circle cx="1483.3" cy="491.6" r="2.4"/><circle cx="1449.8" cy="511.5" r="2.4"/><circle cx="1459.6" cy="519.1" r="2.4"/><circle cx="1474.6" cy="483" r="2.4"/><circle cx="1439.3" cy="468.8" r="2.4"/><circle cx="1518" cy="470.6" r="2.4"/><circle cx="1514.6" cy="459.9" r="2.4"/><circle cx="1480.6" cy="491" r="2.4"/><circle cx="1439" cy="509.9" r="2.4"/><circle cx="1475.4" cy="459.3" r="2.4"/><circle cx="1465.6" cy="450" r="2.4"/><circle cx="1444.8" cy="500.5" r="2.4"/><circle cx="1507.1" cy="486.3" r="2.4"/><circle cx="1462.4" cy="486.8" r="2.4"/><circle cx="1449.9" cy="487.4" r="2.4"/><circle cx="1401.6" cy="458.8" r="2.4"/><circle cx="1466.5" cy="485.2" r="2.4"/><circle cx="1446.1" cy="505.8" r="2.4"/><circle cx="1512.6" cy="456.8" r="2.4"/><circle cx="1505.8" cy="471.3" r="2.4"/><circle cx="1498.6" cy="468.4" r="2.4"/><circle cx="1453.1" cy="460.8" r="2.4"/><circle cx="1504" cy="492.8" r="2.4"/><circle cx="1477" cy="510.1" r="2.4"/><circle cx="1508.8" cy="527.7" r="2.4"/><circle cx="1507" cy="482.7" r="2.4"/><circle cx="1461.6" cy="494.3" r="2.4"/><circle cx="1448" cy="465.6" r="2.4"/><circle cx="1469" cy="467.1" r="2.4"/><circle cx="1525.2" cy="462.6" r="2.4"/><circle cx="1464.7" cy="517.8" r="2.4"/><circle cx="1541.8" cy="452.8" r="2.4"/><circle cx="1469.4" cy="484.1" r="2.4"/><circle cx="1501" cy="487.7" r="2.4"/><circle cx="1496.6" cy="459.7" r="2.4"/><circle cx="1499.4" cy="491.8" r="2.4"/><circle cx="1485.2" cy="488.7" r="2.4"/><circle cx="1495.1" cy="455.4" r="2.4"/><circle cx="1468.3" cy="473.8" r="2.4"/><circle cx="1497" cy="459.5" r="2.4"/><circle cx="1517.3" cy="478.3" r="2.4"/><circle cx="1437.1" cy="500.8" r="2.4"/><circle cx="1457.3" cy="482.9" r="2.4"/><circle cx="1488.5" cy="458" r="2.4"/><circle cx="1507.3" cy="474.6" r="2.4"/><circle cx="1481.7" cy="472.6" r="2.4"/><circle cx="1520.9" cy="478.9" r="2.4"/><circle cx="1504.2" cy="446" r="2.4"/><circle cx="1512.8" cy="461.8" r="2.4"/><circle cx="1511.7" cy="501.2" r="2.4"/><circle cx="1472.9" cy="478.1" r="2.4"/><circle cx="1483.9" cy="476" r="2.4"/><circle cx="1430" cy="444.7" r="2.4"/><circle cx="1488.3" cy="466.7" r="2.4"/><circle cx="1467.1" cy="466.6" r="2.4"/><circle cx="1510.8" cy="481.3" r="2.4"/><circle cx="1465.8" cy="478.1" r="2.4"/><circle cx="1433.9" cy="462.3" r="2.4"/><circle cx="1456.6" cy="493.3" r="2.4"/><circle cx="1518" cy="469.5" r="2.4"/><circle cx="1507.2" cy="466.8" r="2.4"/><circle cx="1471.8" cy="466.9" r="2.4"/><circle cx="1444.9" cy="514.3" r="2.4"/><circle cx="1487.7" cy="446.4" r="2.4"/><circle cx="1493" cy="468" r="2.4"/><circle cx="1526.4" cy="470.3" r="2.4"/><circle cx="1466.8" cy="499.2" r="2.4"/><circle cx="1478" cy="496.6" r="2.4"/><circle cx="1474.8" cy="524.1" r="2.4"/><circle cx="1458.6" cy="486" r="2.4"/><circle cx="1511.3" cy="484.7" r="2.4"/><circle cx="1480.8" cy="469.1" r="2.4"/><circle cx="1521" cy="498.4" r="2.4"/><circle cx="1459.3" cy="456.8" r="2.4"/><circle cx="1470.1" cy="472.3" r="2.4"/><circle cx="1498.5" cy="505.3" r="2.4"/><circle cx="1451" cy="496.6" r="2.4"/><circle cx="1458.3" cy="479.1" r="2.4"/><circle cx="1489.8" cy="479.1" r="2.4"/><circle cx="1471.9" cy="496.5" r="2.4"/><circle cx="1525.1" cy="462.3" r="2.4"/><circle cx="1487" cy="486.6" r="2.4"/><circle cx="1500.2" cy="471" r="2.4"/><circle cx="1460.9" cy="488.5" r="2.4"/><circle cx="1533.8" cy="468" r="2.4"/><circle cx="1444.4" cy="469.5" r="2.4"/><circle cx="1486.2" cy="499.8" r="2.4"/><circle cx="1529.2" cy="472.1" r="2.4"/><circle cx="1487.6" cy="462.1" r="2.4"/><circle cx="1436.3" cy="489.2" r="2.4"/><circle cx="1474.2" cy="491.5" r="2.4"/><circle cx="1494.9" cy="477.1" r="2.4"/><circle cx="1463.4" cy="479.2" r="2.4"/><circle cx="1482.6" cy="479" r="2.4"/><circle cx="1513.9" cy="454.7" r="2.4"/><circle cx="1503.5" cy="475.2" r="2.4"/><circle cx="1504" cy="491.4" r="2.4"/><circle cx="1442.5" cy="482.5" r="2.4"/><circle cx="1505.7" cy="449.5" r="2.4"/><circle cx="1512.7" cy="478.6" r="2.4"/><circle cx="1436" cy="485.9" r="2.4"/><circle cx="1447.6" cy="489.8" r="2.4"/><circle cx="1507.4" cy="473.7" r="2.4"/><circle cx="1510.7" cy="474.4" r="2.4"/><circle cx="1520.1" cy="457.5" r="2.4"/><circle cx="1449.3" cy="463.1" r="2.4"/><circle cx="1485.7" cy="471.3" r="2.4"/><circle cx="1510" cy="451.7" r="2.4"/><circle cx="1476.9" cy="477.3" r="2.4"/><circle cx="1452.6" cy="481.5" r="2.4"/><circle cx="1467" cy="475.3" r="2.4"/><circle cx="1529.8" cy="470.1" r="2.4"/><circle cx="1478.2" cy="470.3" r="2.4"/><circle cx="1503.2" cy="480.1" r="2.4"/><circle cx="1508.4" cy="485.4" r="2.4"/><circle cx="1457.6" cy="485.9" r="2.4"/><circle cx="1451.7" cy="511.6" r="2.4"/><circle cx="1460.2" cy="485" r="2.4"/><circle cx="1487.4" cy="478" r="2.4"/><circle cx="1484.8" cy="490.6" r="2.4"/><circle cx="1526.2" cy="455.5" r="2.4"/><circle cx="1460.8" cy="471.3" r="2.4"/><circle cx="1481.5" cy="451.6" r="2.4"/><circle cx="1505.2" cy="474.1" r="2.4"/><circle cx="1439.4" cy="480.1" r="2.4"/><circle cx="1442.5" cy="487.7" r="2.4"/><circle cx="1496.3" cy="461.5" r="2.4"/><circle cx="1461.6" cy="479.3" r="2.4"/><circle cx="1461" cy="508.7" r="2.4"/><circle cx="1411.1" cy="435.9" r="2.4"/><circle cx="1490.2" cy="441.2" r="2.4"/><circle cx="1489.2" cy="467.3" r="2.4"/><circle cx="1446.1" cy="487.7" r="2.4"/><circle cx="1505.7" cy="472" r="2.4"/><circle cx="1398.9" cy="450.1" r="2.4"/><circle cx="1509.3" cy="452" r="2.4"/><circle cx="1487.5" cy="489.9" r="2.4"/><circle cx="1474.1" cy="483.8" r="2.4"/><circle cx="1471.6" cy="485.7" r="2.4"/><circle cx="1507.9" cy="473.3" r="2.4"/><circle cx="1523.8" cy="465.3" r="2.4"/><circle cx="1461.8" cy="503.3" r="2.4"/><circle cx="1518.5" cy="455.9" r="2.4"/><circle cx="1446.8" cy="490.8" r="2.4"/><circle cx="1481.1" cy="475.7" r="2.4"/><circle cx="1456.7" cy="458.4" r="2.4"/><circle cx="1464.7" cy="477.1" r="2.4"/><circle cx="1458.4" cy="473.7" r="2.4"/><circle cx="1403" cy="465.6" r="2.4"/><circle cx="1523.1" cy="478.2" r="2.4"/><circle cx="1499.3" cy="461.5" r="2.4"/><circle cx="1426.5" cy="475.5" r="2.4"/><circle cx="1436.7" cy="481.8" r="2.4"/><circle cx="1458.1" cy="464" r="2.4"/><circle cx="1458.8" cy="448.6" r="2.4"/><circle cx="1477.3" cy="489.8" r="2.4"/><circle cx="1492.9" cy="448.2" r="2.4"/><circle cx="1507.3" cy="482.4" r="2.4"/><circle cx="1526.9" cy="506.6" r="2.4"/><circle cx="1464.9" cy="469.5" r="2.4"/><circle cx="1457.5" cy="476.1" r="2.4"/><circle cx="1496.8" cy="500.1" r="2.4"/><circle cx="1465" cy="471.3" r="2.4"/><circle cx="1509.1" cy="463.1" r="2.4"/><circle cx="1497.1" cy="486.2" r="2.4"/><circle cx="1508.6" cy="471.2" r="2.4"/><circle cx="1518.8" cy="480.6" r="2.4"/><circle cx="1521.9" cy="477.6" r="2.4"/><circle cx="1451.8" cy="482.3" r="2.4"/><circle cx="1499" cy="511.2" r="2.4"/><circle cx="1471.1" cy="503.1" r="2.4"/></g>
<g opacity="0.06"><polyline points="1369,470.5 1375.1,470.8 1381.2,471.1 1387.4,471.4 1393.5,471.7 1399.6,472 1405.7,472.3 1411.8,472.6 1418,472.9 1424.1,473.2 1430.2,473.5 1436.3,473.7 1442.4,474 1448.6,474.2 1454.7,474.5 1460.8,474.6 1466.9,474.8 1473,474.9 1479.2,474.9 1485.3,474.9 1491.4,474.8 1497.5,474.6 1503.6,474.5 1509.8,474.2 1515.9,474 1522,473.7 1528.1,473.5 1534.2,473.2 1540.4,472.9 1546.5,472.6 1552.6,472.3" fill="none" stroke="#111" stroke-width="0.9" stroke-dasharray="2.4 1"/><polyline points="1369,482.3 1375.1,482 1381.2,481.7 1387.4,481.4 1393.5,481.1 1399.6,480.8 1405.7,480.5 1411.8,480.2 1418,479.9 1424.1,479.6 1430.2,479.3 1436.3,479.1 1442.4,478.8 1448.6,478.6 1454.7,478.3 1460.8,478.2 1466.9,478 1473,477.9 1479.2,477.9 1485.3,477.9 1491.4,478 1497.5,478.2 1503.6,478.3 1509.8,478.6 1515.9,478.8 1522,479.1 1528.1,479.3 1534.2,479.6 1540.4,479.9 1546.5,480.2 1552.6,480.5" fill="none" stroke="#111" stroke-width="0.9" stroke-dasharray="2.4 1"/><line x1="1369" y1="476.4" x2="1552.6" y2="476.4" stroke="#111" stroke-width="1.3"/></g>
<path d="M1369 373.8V558H1553.2" fill="none" stroke="#000" stroke-width="1.4"/>
<path d="M1369 558h-5.8M1369 517.2h-5.8M1369 476.4h-5.8M1369 435.6h-5.8M1369 394.8h-5.8M1405.7 558v5.8M1454.7 558v5.8M1503.6 558v5.8M1552.6 558v5.8" fill="none" stroke="#000" stroke-width="1.4"/>
<g font-size="11.7" fill="#000" class="s">
<text x="1361.4" y="562.2" text-anchor="end">-20</text>
<text x="1361.4" y="521.4" text-anchor="end">-10</text>
<text x="1361.4" y="480.6" text-anchor="end">0</text>
<text x="1361.4" y="439.8" text-anchor="end">10</text>
<text x="1361.4" y="399" text-anchor="end">20</text>
<text x="1405.7" y="577.4" text-anchor="middle">40</text>
<text x="1454.7" y="577.4" text-anchor="middle">60</text>
<text x="1503.6" y="577.4" text-anchor="middle">80</text>
<text x="1552.6" y="577.4" text-anchor="middle">100</text>
</g>
<text x="1460.8" y="598.4" text-anchor="middle" font-size="16.6" fill="#000">Chronological age</text>
<text transform="translate(1340.9 463.7) rotate(-90) scale(0.9371 1)" text-anchor="middle" font-size="15" fill="#000" class="dj2">Brain age gap (corrected)</text>
<text x="1327.4" y="347.2" font-size="28" fill="#000">l</text>
<text x="1548.9" y="370.2" text-anchor="end" font-size="11.6" fill="#000" class="s">MAE = 2.8950</text>
<text x="1548.9" y="384.7" text-anchor="end" font-size="11.6" fill="#000" class="s">Spearman r = 0.0973</text>
</g>
<text transform="translate(306.4 25.3) scale(0.957 1)" font-size="34.4" fill="#000">Mayo model to ADNI</text>
<text transform="translate(1104.6 25.2) scale(0.957 1)" font-size="34.4" fill="#000">Mayo + ADNI</text>
<text transform="translate(30.3 186.9) rotate(-90) scale(0.962 1)" text-anchor="middle" font-size="35.4" fill="#000">FDG</text>
<text transform="translate(30.3 468.2) rotate(-90) scale(0.962 1)" text-anchor="middle" font-size="35.4" fill="#000">MRI</text>
<rect x="1679.9" y="351.1" width="20.1" height="92.1" fill="#f6b342" stroke="#000" stroke-width="2.1"/>
<rect x="1714.4" y="340.4" width="20.2" height="102.8" fill="#3db4c9" stroke="#000" stroke-width="2.1"/>
<rect x="1749.3" y="406.1" width="20.3" height="37.1" fill="#ea5f4e" stroke="#000" stroke-width="2.1"/>
<rect x="1808.3" y="283.5" width="20.3" height="159.7" fill="#f6b342" stroke="#000" stroke-width="2.1"/>
<rect x="1843.9" y="279.8" width="19.6" height="163.4" fill="#3db4c9" stroke="#000" stroke-width="2.1"/>
<rect x="1878" y="346.1" width="19.9" height="97.1" fill="#ea5f4e" stroke="#000" stroke-width="2.1"/>
<path d="M1689.9 326.7V372M1683.7 326.7h12.4M1683.7 372h12.4" fill="none" stroke="#000" stroke-width="1.4"/>
<circle cx="1681.1" cy="325.2" r="3.05" fill="none" stroke="#000" stroke-width="1.5"/>
<circle cx="1698.1" cy="331.7" r="3.05" fill="none" stroke="#000" stroke-width="1.5"/>
<circle cx="1689.9" cy="342.2" r="3.05" fill="none" stroke="#000" stroke-width="1.5"/>
<circle cx="1681.1" cy="373.5" r="3.05" fill="none" stroke="#000" stroke-width="1.5"/>
<circle cx="1698.1" cy="373.5" r="3.05" fill="none" stroke="#000" stroke-width="1.5"/>
<path d="M1724.7 305.8V371.5M1718.5 305.8h12.4M1718.5 371.5h12.4" fill="none" stroke="#000" stroke-width="1.4"/>
<circle cx="1724.7" cy="286.9" r="3.05" fill="none" stroke="#000" stroke-width="1.5"/>
<circle cx="1724.7" cy="328.2" r="3.05" fill="none" stroke="#000" stroke-width="1.5"/>
<circle cx="1724.7" cy="349.9" r="3.05" fill="none" stroke="#000" stroke-width="1.5"/>
<circle cx="1724.7" cy="358.3" r="3.05" fill="none" stroke="#000" stroke-width="1.5"/>
<circle cx="1724.7" cy="370.5" r="3.05" fill="none" stroke="#000" stroke-width="1.5"/>
<path d="M1759.5 387V422.3M1753.3 387h12.4M1753.3 422.3h12.4" fill="none" stroke="#000" stroke-width="1.4"/>
<circle cx="1759.5" cy="382.6" r="3.05" fill="none" stroke="#000" stroke-width="1.5"/>
<circle cx="1759.5" cy="389" r="3.05" fill="none" stroke="#000" stroke-width="1.5"/>
<circle cx="1751.1" cy="409.8" r="3.05" fill="none" stroke="#000" stroke-width="1.5"/>
<circle cx="1767.7" cy="412.3" r="3.05" fill="none" stroke="#000" stroke-width="1.5"/>
<circle cx="1759.5" cy="426.7" r="3.05" fill="none" stroke="#000" stroke-width="1.5"/>
<path d="M1818 255.7V308.6M1811.8 255.7h12.4M1811.8 308.6h12.4" fill="none" stroke="#000" stroke-width="1.4"/>
<circle cx="1818" cy="239.8" r="3.05" fill="none" stroke="#000" stroke-width="1.5"/>
<circle cx="1818" cy="274.5" r="3.05" fill="none" stroke="#000" stroke-width="1.5"/>
<circle cx="1818" cy="286.3" r="3.05" fill="none" stroke="#000" stroke-width="1.5"/>
<circle cx="1826.5" cy="301.6" r="3.05" fill="none" stroke="#000" stroke-width="1.5"/>
<circle cx="1809.5" cy="307.3" r="3.05" fill="none" stroke="#000" stroke-width="1.5"/>
<path d="M1853 241.3V315.3M1846.8 241.3h12.4M1846.8 315.3h12.4" fill="none" stroke="#000" stroke-width="1.4"/>
<circle cx="1844.4" cy="254.3" r="3.05" fill="none" stroke="#000" stroke-width="1.5"/>
<circle cx="1861.5" cy="256.2" r="3.05" fill="none" stroke="#000" stroke-width="1.5"/>
<circle cx="1853" cy="265.5" r="3.05" fill="none" stroke="#000" stroke-width="1.5"/>
<circle cx="1853" cy="272.6" r="3.05" fill="none" stroke="#000" stroke-width="1.5"/>
<circle cx="1853" cy="343.2" r="3.05" fill="none" stroke="#000" stroke-width="1.5"/>
<path d="M1888.2 310.1V379M1882 310.1h12.4M1882 379h12.4" fill="none" stroke="#000" stroke-width="1.4"/>
<circle cx="1888.2" cy="291.6" r="3.05" fill="none" stroke="#000" stroke-width="1.5"/>
<circle cx="1888.2" cy="335.9" r="3.05" fill="none" stroke="#000" stroke-width="1.5"/>
<circle cx="1888.2" cy="346.6" r="3.05" fill="none" stroke="#000" stroke-width="1.5"/>
<circle cx="1888.2" cy="371.3" r="3.05" fill="none" stroke="#000" stroke-width="1.5"/>
<circle cx="1888.2" cy="378.5" r="3.05" fill="none" stroke="#000" stroke-width="1.5"/>
<path d="M1666.5 196.6V443.2H1911" fill="none" stroke="#000" stroke-width="1.7"/>
<path d="M1666.5 443.2h-7M1666.5 361.2h-7M1666.5 279.3h-7M1666.5 197.3h-7M1724.7 443.2v6.8M1853.1 443.2v6.8" fill="none" stroke="#000" stroke-width="1.7"/>
<g font-size="15.6" fill="#000" text-anchor="end">
<text x="1656" y="449.1">2.5</text>
<text x="1656" y="367.1">3.0</text>
<text x="1656" y="285.2">3.5</text>
<text x="1656" y="203.2">4.0</text>
</g>
<text transform="translate(1724.5 473.9) scale(0.962 1)" text-anchor="middle" font-size="24.2" fill="#000">FDG</text>
<text transform="translate(1852.8 473.9) scale(0.962 1)" text-anchor="middle" font-size="24.2" fill="#000">MRI</text>
<text transform="translate(1618.3 316.8) rotate(-90)" text-anchor="middle" font-size="20.75" fill="#000">Corrected test MAE (yrs)</text>
<text x="1579" y="176.9" font-size="27.5" fill="#000">m</text>
<path d="M1689.9 257V207.7H1760V218.4" fill="none" stroke="#000" stroke-width="1.6"/>
<path d="M1724.7 255.7V241.1H1760V373.3" fill="none" stroke="#000" stroke-width="1.6"/>
<path d="M1689.9 316V265.2H1724.7V277" fill="none" stroke="#000" stroke-width="1.6"/>
<path d="M1817.8 211.7V185.3H1888.2V198.5" fill="none" stroke="#000" stroke-width="1.6"/>
<path d="M1817.8 231.1V221.4H1850.3V232.1" fill="none" stroke="#000" stroke-width="1.6"/>
<path d="M1855.8 232.1V221.4H1888.2V282" fill="none" stroke="#000" stroke-width="1.6"/>
<text x="1724.5" y="208.3" text-anchor="middle" font-size="24" font-weight="bold" fill="#000">*</text>
<text x="1741.7" y="241.6" text-anchor="middle" font-size="24" font-weight="bold" fill="#000">**</text>
<text x="1852.8" y="185.9" text-anchor="middle" font-size="24" font-weight="bold" fill="#000">**</text>
<text x="1872" y="220.8" text-anchor="middle" font-size="24" font-weight="bold" fill="#000">**</text>
<text x="1706.8" y="257" text-anchor="middle" font-size="13.2" fill="#000" class="s">ns</text>
<text x="1833.7" y="212.2" text-anchor="middle" font-size="13.2" fill="#000" class="s">ns</text>
<rect x="1943.9" y="282.3" width="21.8" height="8.6" fill="#f6b342" stroke="#000" stroke-width="1.5"/>
<text transform="translate(1974.2 291.3) scale(0.937 1)" font-size="15" fill="#000" class="dj">Mayo</text>
<rect x="1943.9" y="310.4" width="21.8" height="8.6" fill="#3db4c9" stroke="#000" stroke-width="1.5"/>
<text transform="translate(1974.2 320) scale(0.937 1)" font-size="15" fill="#000" class="dj">Mayo model to ADNI</text>
<rect x="1943.9" y="337.8" width="21.8" height="8.6" fill="#ea5f4e" stroke="#000" stroke-width="1.5"/>
<text transform="translate(1974.2 347.4) scale(0.937 1)" font-size="15" fill="#000" class="dj">Mayo + ADNI</text>
</svg>
</body></html>
